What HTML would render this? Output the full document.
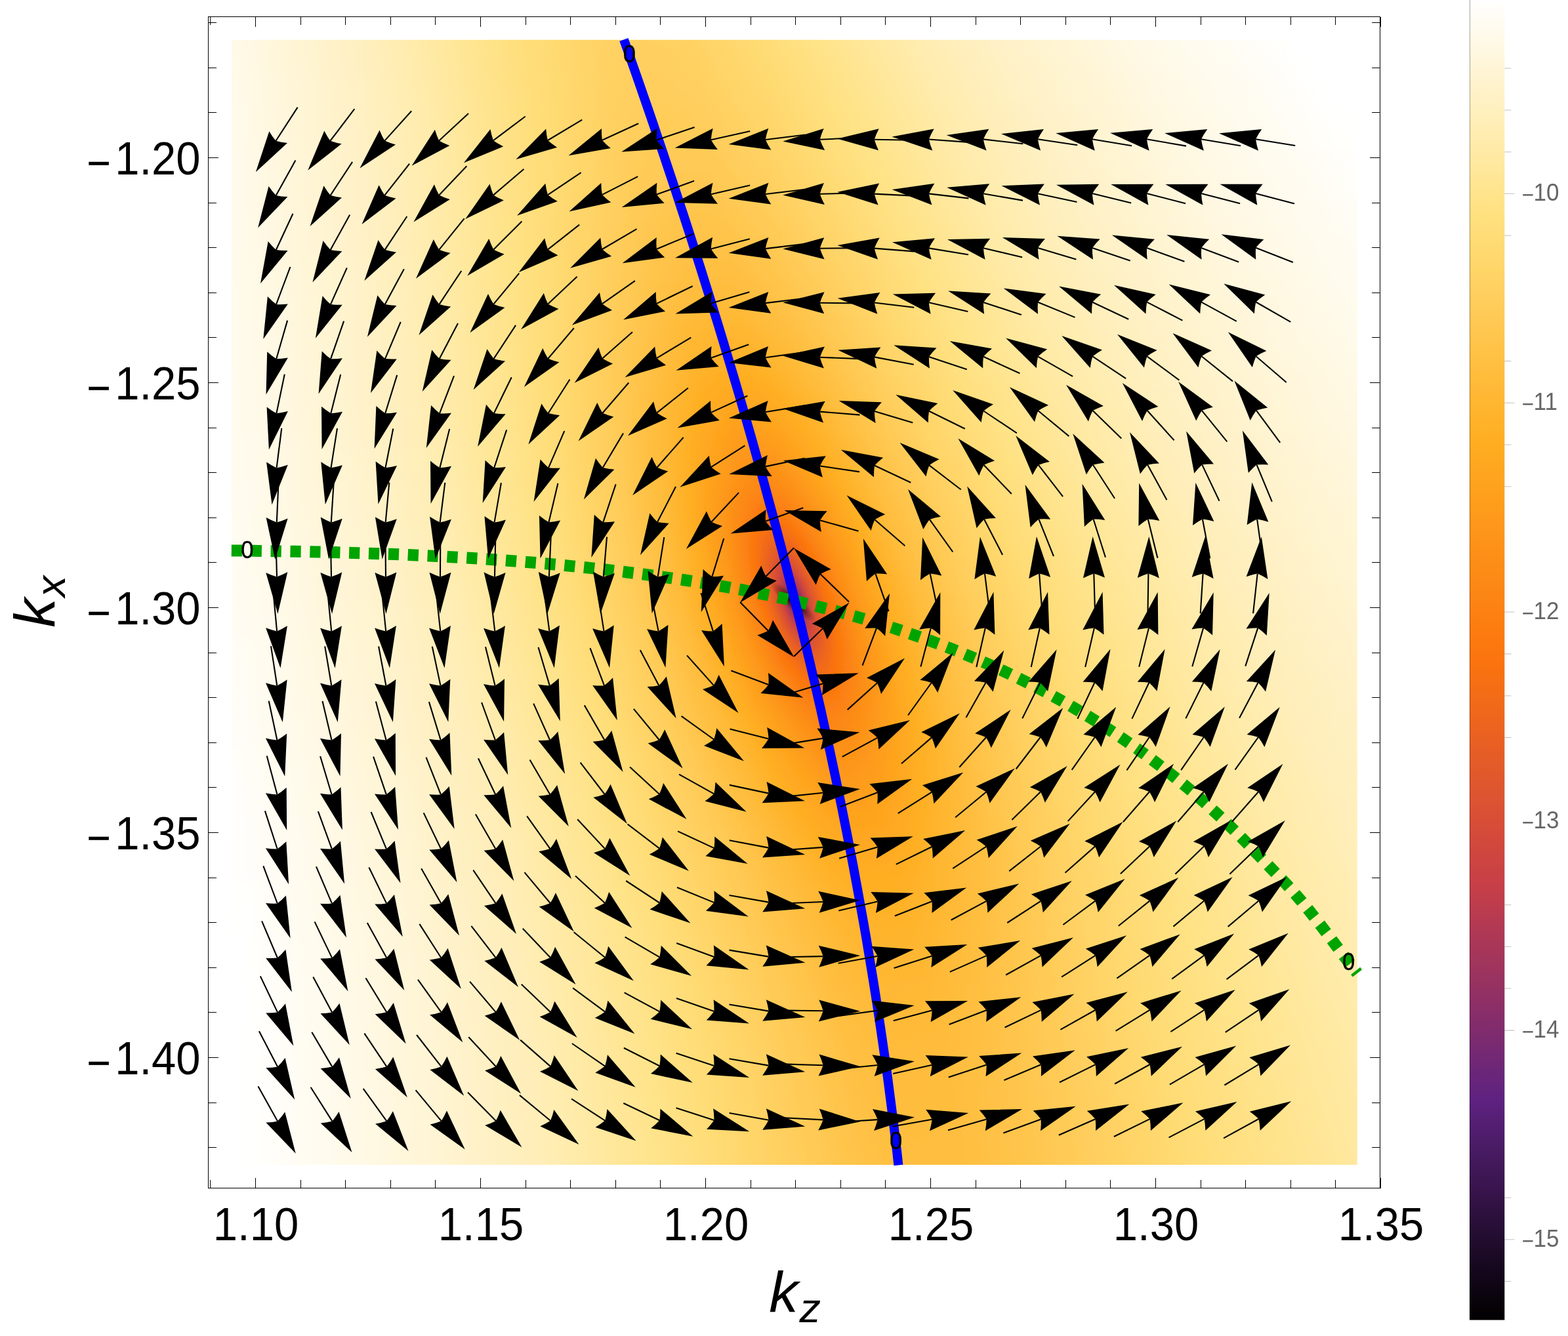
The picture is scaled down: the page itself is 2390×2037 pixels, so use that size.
<!DOCTYPE html>
<html><head><meta charset="utf-8"><title>kz-kx vector field</title>
<style>html,body{margin:0;padding:0;background:#fff}svg{display:block}text{font-family:"Liberation Sans",sans-serif}</style>
</head><body>
<svg width="2390" height="2037" viewBox="0 0 2390 2037">
<rect x="0" y="0" width="2390" height="2037" fill="#fff"/>
<clipPath id="dc"><rect x="353" y="60.8" width="1715.8" height="1715.1"/></clipPath>
<defs><linearGradient id="g0" gradientUnits="userSpaceOnUse" x1="323" y1="0" x2="2093" y2="0"><stop offset="0.0000" stop-color="#fffae8"/><stop offset="0.0203" stop-color="#fff9e7"/><stop offset="0.1288" stop-color="#fff0c0"/><stop offset="0.2000" stop-color="#ffe89e"/><stop offset="0.2678" stop-color="#ffde7a"/><stop offset="0.3288" stop-color="#ffd366"/><stop offset="0.3695" stop-color="#ffd060"/><stop offset="0.4102" stop-color="#ffd263"/><stop offset="0.4712" stop-color="#ffdb74"/><stop offset="0.5085" stop-color="#ffe183"/><stop offset="0.6068" stop-color="#ffecaf"/><stop offset="0.6746" stop-color="#fff1c6"/><stop offset="0.7966" stop-color="#fff9e5"/><stop offset="0.9322" stop-color="#ffffff"/><stop offset="1.0000" stop-color="#ffffff"/></linearGradient><linearGradient id="g1" gradientUnits="userSpaceOnUse" x1="323" y1="0" x2="2093" y2="0"><stop offset="0.0000" stop-color="#fffae8"/><stop offset="0.0203" stop-color="#fff9e7"/><stop offset="0.1288" stop-color="#fff0c0"/><stop offset="0.2000" stop-color="#ffe89e"/><stop offset="0.2678" stop-color="#ffde7a"/><stop offset="0.3288" stop-color="#ffd366"/><stop offset="0.3695" stop-color="#ffd060"/><stop offset="0.4102" stop-color="#ffd263"/><stop offset="0.4712" stop-color="#ffdb74"/><stop offset="0.5085" stop-color="#ffe183"/><stop offset="0.6068" stop-color="#ffecaf"/><stop offset="0.6746" stop-color="#fff1c6"/><stop offset="0.7966" stop-color="#fff9e5"/><stop offset="0.9322" stop-color="#ffffff"/><stop offset="1.0000" stop-color="#ffffff"/></linearGradient><linearGradient id="g2" gradientUnits="userSpaceOnUse" x1="323" y1="0" x2="2093" y2="0"><stop offset="0.0000" stop-color="#fffae8"/><stop offset="0.0203" stop-color="#fff9e7"/><stop offset="0.1288" stop-color="#fff0c0"/><stop offset="0.2000" stop-color="#ffe89e"/><stop offset="0.2678" stop-color="#ffdf7a"/><stop offset="0.3322" stop-color="#ffd365"/><stop offset="0.3729" stop-color="#ffd05f"/><stop offset="0.4136" stop-color="#ffd263"/><stop offset="0.4780" stop-color="#ffdc76"/><stop offset="0.5119" stop-color="#ffe284"/><stop offset="0.6068" stop-color="#ffecae"/><stop offset="0.6746" stop-color="#fff1c6"/><stop offset="0.7966" stop-color="#fff9e5"/><stop offset="0.9356" stop-color="#ffffff"/><stop offset="1.0000" stop-color="#ffffff"/></linearGradient><linearGradient id="g3" gradientUnits="userSpaceOnUse" x1="323" y1="0" x2="2093" y2="0"><stop offset="0.0000" stop-color="#fffae9"/><stop offset="0.0203" stop-color="#fff9e8"/><stop offset="0.1288" stop-color="#fff0c1"/><stop offset="0.1966" stop-color="#ffe9a1"/><stop offset="0.2678" stop-color="#ffdf7b"/><stop offset="0.3322" stop-color="#ffd365"/><stop offset="0.3729" stop-color="#ffcf5f"/><stop offset="0.4136" stop-color="#ffd162"/><stop offset="0.4746" stop-color="#ffdb74"/><stop offset="0.5119" stop-color="#ffe182"/><stop offset="0.6068" stop-color="#ffebad"/><stop offset="0.6746" stop-color="#fff1c5"/><stop offset="0.7966" stop-color="#fff9e4"/><stop offset="0.9390" stop-color="#ffffff"/><stop offset="1.0000" stop-color="#ffffff"/></linearGradient><linearGradient id="g4" gradientUnits="userSpaceOnUse" x1="323" y1="0" x2="2093" y2="0"><stop offset="0.0000" stop-color="#fffae9"/><stop offset="0.0203" stop-color="#fffae8"/><stop offset="0.1288" stop-color="#fff0c1"/><stop offset="0.1966" stop-color="#ffe9a1"/><stop offset="0.2712" stop-color="#ffde7a"/><stop offset="0.3356" stop-color="#ffd264"/><stop offset="0.3763" stop-color="#ffcf5e"/><stop offset="0.4169" stop-color="#ffd162"/><stop offset="0.4814" stop-color="#ffdc75"/><stop offset="0.5153" stop-color="#ffe182"/><stop offset="0.6102" stop-color="#ffebad"/><stop offset="0.6780" stop-color="#fff1c4"/><stop offset="0.8000" stop-color="#fff9e4"/><stop offset="0.9424" stop-color="#ffffff"/><stop offset="1.0000" stop-color="#ffffff"/></linearGradient><linearGradient id="g5" gradientUnits="userSpaceOnUse" x1="323" y1="0" x2="2093" y2="0"><stop offset="0.0000" stop-color="#fffae9"/><stop offset="0.0203" stop-color="#fffae8"/><stop offset="0.1288" stop-color="#fff0c2"/><stop offset="0.1932" stop-color="#ffe9a4"/><stop offset="0.2712" stop-color="#ffde7a"/><stop offset="0.3356" stop-color="#ffd264"/><stop offset="0.3763" stop-color="#ffcf5e"/><stop offset="0.4169" stop-color="#ffd161"/><stop offset="0.4780" stop-color="#ffda73"/><stop offset="0.5186" stop-color="#ffe182"/><stop offset="0.6136" stop-color="#ffebad"/><stop offset="0.6814" stop-color="#fff1c4"/><stop offset="0.8034" stop-color="#fff8e4"/><stop offset="0.9492" stop-color="#ffffff"/><stop offset="1.0000" stop-color="#ffffff"/></linearGradient><linearGradient id="g6" gradientUnits="userSpaceOnUse" x1="323" y1="0" x2="2093" y2="0"><stop offset="0.0000" stop-color="#fffaea"/><stop offset="0.0203" stop-color="#fffae9"/><stop offset="0.1288" stop-color="#fff0c2"/><stop offset="0.1932" stop-color="#ffe9a4"/><stop offset="0.2712" stop-color="#ffdf7a"/><stop offset="0.3390" stop-color="#ffd263"/><stop offset="0.3797" stop-color="#ffce5d"/><stop offset="0.4203" stop-color="#ffd161"/><stop offset="0.4847" stop-color="#ffdb74"/><stop offset="0.5220" stop-color="#ffe182"/><stop offset="0.6169" stop-color="#ffebad"/><stop offset="0.6847" stop-color="#fff1c4"/><stop offset="0.8068" stop-color="#fff8e3"/><stop offset="0.9525" stop-color="#ffffff"/><stop offset="1.0000" stop-color="#ffffff"/></linearGradient><linearGradient id="g7" gradientUnits="userSpaceOnUse" x1="323" y1="0" x2="2093" y2="0"><stop offset="0.0000" stop-color="#fffaea"/><stop offset="0.0203" stop-color="#fffae9"/><stop offset="0.1288" stop-color="#fff1c3"/><stop offset="0.1898" stop-color="#ffeaa6"/><stop offset="0.2746" stop-color="#ffde79"/><stop offset="0.3390" stop-color="#ffd263"/><stop offset="0.3797" stop-color="#ffce5c"/><stop offset="0.4203" stop-color="#ffd060"/><stop offset="0.4814" stop-color="#ffda71"/><stop offset="0.5254" stop-color="#ffe182"/><stop offset="0.6203" stop-color="#ffebad"/><stop offset="0.6881" stop-color="#fff1c4"/><stop offset="0.8102" stop-color="#fff8e3"/><stop offset="0.9593" stop-color="#ffffff"/><stop offset="1.0000" stop-color="#ffffff"/></linearGradient><linearGradient id="g8" gradientUnits="userSpaceOnUse" x1="323" y1="0" x2="2093" y2="0"><stop offset="0.0000" stop-color="#fffaea"/><stop offset="0.0203" stop-color="#fffae9"/><stop offset="0.1288" stop-color="#fff1c3"/><stop offset="0.1898" stop-color="#ffeaa7"/><stop offset="0.2746" stop-color="#ffde7a"/><stop offset="0.3424" stop-color="#ffd162"/><stop offset="0.3831" stop-color="#ffce5c"/><stop offset="0.4237" stop-color="#ffd05f"/><stop offset="0.4847" stop-color="#ffda71"/><stop offset="0.5288" stop-color="#ffe182"/><stop offset="0.6203" stop-color="#ffebac"/><stop offset="0.6881" stop-color="#fff1c3"/><stop offset="0.8102" stop-color="#fff8e2"/><stop offset="0.9627" stop-color="#ffffff"/><stop offset="1.0000" stop-color="#ffffff"/></linearGradient><linearGradient id="g9" gradientUnits="userSpaceOnUse" x1="323" y1="0" x2="2093" y2="0"><stop offset="0.0000" stop-color="#fffaea"/><stop offset="0.0203" stop-color="#fffae9"/><stop offset="0.1288" stop-color="#fff1c3"/><stop offset="0.1864" stop-color="#ffeba9"/><stop offset="0.2746" stop-color="#ffde7a"/><stop offset="0.3424" stop-color="#ffd162"/><stop offset="0.3831" stop-color="#ffcd5b"/><stop offset="0.4203" stop-color="#ffcf5e"/><stop offset="0.4746" stop-color="#ffd76d"/><stop offset="0.5288" stop-color="#ffe181"/><stop offset="0.6203" stop-color="#ffebaa"/><stop offset="0.6881" stop-color="#fff1c2"/><stop offset="0.8102" stop-color="#fff8e2"/><stop offset="0.9661" stop-color="#ffffff"/><stop offset="1.0000" stop-color="#ffffff"/></linearGradient><linearGradient id="g10" gradientUnits="userSpaceOnUse" x1="323" y1="0" x2="2093" y2="0"><stop offset="0.0000" stop-color="#fffaeb"/><stop offset="0.0203" stop-color="#fffaea"/><stop offset="0.1288" stop-color="#fff1c4"/><stop offset="0.1898" stop-color="#ffeaa8"/><stop offset="0.2746" stop-color="#ffdf7a"/><stop offset="0.3424" stop-color="#ffd162"/><stop offset="0.3831" stop-color="#ffcd5a"/><stop offset="0.4203" stop-color="#ffce5d"/><stop offset="0.4746" stop-color="#ffd66b"/><stop offset="0.5322" stop-color="#ffe181"/><stop offset="0.6237" stop-color="#ffebaa"/><stop offset="0.6915" stop-color="#fff0c2"/><stop offset="0.8136" stop-color="#fff8e1"/><stop offset="0.9695" stop-color="#ffffff"/><stop offset="1.0000" stop-color="#ffffff"/></linearGradient><linearGradient id="g11" gradientUnits="userSpaceOnUse" x1="323" y1="0" x2="2093" y2="0"><stop offset="0.0000" stop-color="#fffaeb"/><stop offset="0.0203" stop-color="#fffaea"/><stop offset="0.1288" stop-color="#fff1c4"/><stop offset="0.1864" stop-color="#ffebaa"/><stop offset="0.2780" stop-color="#ffde79"/><stop offset="0.3458" stop-color="#ffd060"/><stop offset="0.3864" stop-color="#ffcc59"/><stop offset="0.4237" stop-color="#ffce5c"/><stop offset="0.4780" stop-color="#ffd66b"/><stop offset="0.5356" stop-color="#ffe181"/><stop offset="0.6271" stop-color="#ffebaa"/><stop offset="0.6949" stop-color="#fff0c2"/><stop offset="0.8169" stop-color="#fff8e1"/><stop offset="0.9729" stop-color="#fffffe"/><stop offset="1.0000" stop-color="#ffffff"/></linearGradient><linearGradient id="g12" gradientUnits="userSpaceOnUse" x1="323" y1="0" x2="2093" y2="0"><stop offset="0.0000" stop-color="#fffaeb"/><stop offset="0.0203" stop-color="#fffaea"/><stop offset="0.1288" stop-color="#fff1c4"/><stop offset="0.1864" stop-color="#ffebaa"/><stop offset="0.2780" stop-color="#ffde79"/><stop offset="0.3492" stop-color="#ffd05f"/><stop offset="0.3898" stop-color="#ffcc59"/><stop offset="0.4271" stop-color="#ffce5b"/><stop offset="0.4847" stop-color="#ffd76c"/><stop offset="0.5390" stop-color="#ffe181"/><stop offset="0.6305" stop-color="#ffebaa"/><stop offset="0.6983" stop-color="#fff0c2"/><stop offset="0.8203" stop-color="#fff8e1"/><stop offset="0.9763" stop-color="#fffffe"/><stop offset="1.0000" stop-color="#ffffff"/></linearGradient><linearGradient id="g13" gradientUnits="userSpaceOnUse" x1="323" y1="0" x2="2093" y2="0"><stop offset="0.0000" stop-color="#fffaeb"/><stop offset="0.0203" stop-color="#fffaea"/><stop offset="0.1288" stop-color="#fff1c5"/><stop offset="0.1864" stop-color="#ffebab"/><stop offset="0.2780" stop-color="#ffde7a"/><stop offset="0.3492" stop-color="#ffd05f"/><stop offset="0.3898" stop-color="#ffcc58"/><stop offset="0.4271" stop-color="#ffcd5a"/><stop offset="0.4814" stop-color="#ffd56a"/><stop offset="0.5424" stop-color="#ffe181"/><stop offset="0.6305" stop-color="#ffeaa9"/><stop offset="0.6983" stop-color="#fff0c1"/><stop offset="0.8203" stop-color="#fff8e0"/><stop offset="0.9763" stop-color="#fffffd"/><stop offset="1.0000" stop-color="#ffffff"/></linearGradient><linearGradient id="g14" gradientUnits="userSpaceOnUse" x1="323" y1="0" x2="2093" y2="0"><stop offset="0.0000" stop-color="#fffaeb"/><stop offset="0.0203" stop-color="#fffaea"/><stop offset="0.1322" stop-color="#fff1c3"/><stop offset="0.1898" stop-color="#ffeba9"/><stop offset="0.2780" stop-color="#ffde7a"/><stop offset="0.3492" stop-color="#ffcf5f"/><stop offset="0.3898" stop-color="#ffcb57"/><stop offset="0.4271" stop-color="#ffcc59"/><stop offset="0.4780" stop-color="#ffd467"/><stop offset="0.5458" stop-color="#ffe181"/><stop offset="0.6339" stop-color="#ffeaa9"/><stop offset="0.7017" stop-color="#fff0c1"/><stop offset="0.8237" stop-color="#fff8e0"/><stop offset="0.9797" stop-color="#fffffd"/><stop offset="1.0000" stop-color="#fffffe"/></linearGradient><linearGradient id="g15" gradientUnits="userSpaceOnUse" x1="323" y1="0" x2="2093" y2="0"><stop offset="0.0000" stop-color="#fffaec"/><stop offset="0.0203" stop-color="#fffaea"/><stop offset="0.1322" stop-color="#fff1c4"/><stop offset="0.1898" stop-color="#ffebaa"/><stop offset="0.2780" stop-color="#ffde7a"/><stop offset="0.3525" stop-color="#ffcf5d"/><stop offset="0.3898" stop-color="#ffcb56"/><stop offset="0.4271" stop-color="#ffcc58"/><stop offset="0.4780" stop-color="#ffd366"/><stop offset="0.5492" stop-color="#ffe181"/><stop offset="0.6373" stop-color="#ffeaa9"/><stop offset="0.7051" stop-color="#fff0c1"/><stop offset="0.8271" stop-color="#fff8e0"/><stop offset="0.9831" stop-color="#fffffd"/><stop offset="1.0000" stop-color="#fffffd"/></linearGradient><linearGradient id="g16" gradientUnits="userSpaceOnUse" x1="323" y1="0" x2="2093" y2="0"><stop offset="0.0000" stop-color="#fffaec"/><stop offset="0.0203" stop-color="#fffaeb"/><stop offset="0.1322" stop-color="#fff1c4"/><stop offset="0.1898" stop-color="#ffebaa"/><stop offset="0.2780" stop-color="#ffde7a"/><stop offset="0.3525" stop-color="#ffce5d"/><stop offset="0.3898" stop-color="#ffca55"/><stop offset="0.4271" stop-color="#ffcb57"/><stop offset="0.4746" stop-color="#ffd263"/><stop offset="0.5525" stop-color="#ffe181"/><stop offset="0.6407" stop-color="#ffeaa9"/><stop offset="0.7085" stop-color="#fff0c1"/><stop offset="0.8305" stop-color="#fff8e0"/><stop offset="0.9864" stop-color="#fffefd"/><stop offset="1.0000" stop-color="#fffefd"/></linearGradient><linearGradient id="g17" gradientUnits="userSpaceOnUse" x1="323" y1="0" x2="2093" y2="0"><stop offset="0.0000" stop-color="#fffaec"/><stop offset="0.0203" stop-color="#fffaeb"/><stop offset="0.1322" stop-color="#fff1c4"/><stop offset="0.1898" stop-color="#ffebaa"/><stop offset="0.2814" stop-color="#ffde79"/><stop offset="0.3559" stop-color="#ffce5c"/><stop offset="0.3932" stop-color="#ffca54"/><stop offset="0.4305" stop-color="#ffca56"/><stop offset="0.4814" stop-color="#ffd264"/><stop offset="0.5559" stop-color="#ffe181"/><stop offset="0.6407" stop-color="#ffeaa7"/><stop offset="0.7119" stop-color="#fff0c1"/><stop offset="0.8339" stop-color="#fff8e0"/><stop offset="0.9864" stop-color="#fffefc"/><stop offset="1.0000" stop-color="#fffefc"/></linearGradient><linearGradient id="g18" gradientUnits="userSpaceOnUse" x1="323" y1="0" x2="2093" y2="0"><stop offset="0.0000" stop-color="#fffaec"/><stop offset="0.0203" stop-color="#fffaeb"/><stop offset="0.1322" stop-color="#fff1c4"/><stop offset="0.1898" stop-color="#ffebab"/><stop offset="0.2814" stop-color="#ffde79"/><stop offset="0.3593" stop-color="#ffcd5a"/><stop offset="0.3966" stop-color="#ffc953"/><stop offset="0.4339" stop-color="#ffca55"/><stop offset="0.4847" stop-color="#ffd264"/><stop offset="0.5593" stop-color="#ffe180"/><stop offset="0.6441" stop-color="#ffeaa7"/><stop offset="0.7153" stop-color="#fff0c1"/><stop offset="0.8373" stop-color="#fff8e0"/><stop offset="0.9864" stop-color="#fffefb"/><stop offset="1.0000" stop-color="#fffefb"/></linearGradient><linearGradient id="g19" gradientUnits="userSpaceOnUse" x1="323" y1="0" x2="2093" y2="0"><stop offset="0.0000" stop-color="#fffaec"/><stop offset="0.0203" stop-color="#fffaeb"/><stop offset="0.1322" stop-color="#fff1c5"/><stop offset="0.1898" stop-color="#ffebab"/><stop offset="0.2814" stop-color="#ffde79"/><stop offset="0.3593" stop-color="#ffcd5a"/><stop offset="0.3966" stop-color="#ffc852"/><stop offset="0.4305" stop-color="#ffc953"/><stop offset="0.4780" stop-color="#ffd060"/><stop offset="0.5627" stop-color="#ffe180"/><stop offset="0.6475" stop-color="#ffeaa7"/><stop offset="0.7186" stop-color="#fff0c1"/><stop offset="0.8407" stop-color="#fff7df"/><stop offset="0.9864" stop-color="#fffefa"/><stop offset="1.0000" stop-color="#fffefa"/></linearGradient><linearGradient id="g20" gradientUnits="userSpaceOnUse" x1="323" y1="0" x2="2093" y2="0"><stop offset="0.0000" stop-color="#fffbec"/><stop offset="0.0203" stop-color="#fffaeb"/><stop offset="0.1322" stop-color="#fff1c5"/><stop offset="0.1898" stop-color="#ffebab"/><stop offset="0.2814" stop-color="#ffde79"/><stop offset="0.3627" stop-color="#ffcc58"/><stop offset="0.4000" stop-color="#ffc851"/><stop offset="0.4339" stop-color="#ffc852"/><stop offset="0.4814" stop-color="#ffd05f"/><stop offset="0.5661" stop-color="#ffe180"/><stop offset="0.6508" stop-color="#ffeaa7"/><stop offset="0.7220" stop-color="#fff0c1"/><stop offset="0.8441" stop-color="#fff7df"/><stop offset="0.9864" stop-color="#fffefa"/><stop offset="1.0000" stop-color="#fffefa"/></linearGradient><linearGradient id="g21" gradientUnits="userSpaceOnUse" x1="323" y1="0" x2="2093" y2="0"><stop offset="0.0000" stop-color="#fffbec"/><stop offset="0.0203" stop-color="#fffaeb"/><stop offset="0.1322" stop-color="#fff1c5"/><stop offset="0.1898" stop-color="#ffebab"/><stop offset="0.2814" stop-color="#ffde79"/><stop offset="0.3627" stop-color="#ffcc58"/><stop offset="0.4000" stop-color="#ffc750"/><stop offset="0.4339" stop-color="#ffc851"/><stop offset="0.4780" stop-color="#ffce5d"/><stop offset="0.5695" stop-color="#ffe180"/><stop offset="0.6508" stop-color="#ffeaa6"/><stop offset="0.7220" stop-color="#fff0c0"/><stop offset="0.8407" stop-color="#fff7de"/><stop offset="0.9864" stop-color="#fffef9"/><stop offset="1.0000" stop-color="#fffef9"/></linearGradient><linearGradient id="g22" gradientUnits="userSpaceOnUse" x1="323" y1="0" x2="2093" y2="0"><stop offset="0.0000" stop-color="#fffbec"/><stop offset="0.0203" stop-color="#fffaeb"/><stop offset="0.1322" stop-color="#fff1c5"/><stop offset="0.1898" stop-color="#ffebac"/><stop offset="0.2847" stop-color="#ffdd78"/><stop offset="0.3661" stop-color="#ffcb56"/><stop offset="0.4034" stop-color="#ffc64e"/><stop offset="0.4373" stop-color="#ffc750"/><stop offset="0.4847" stop-color="#ffcf5d"/><stop offset="0.5763" stop-color="#ffe182"/><stop offset="0.6576" stop-color="#ffeaa7"/><stop offset="0.7288" stop-color="#fff0c0"/><stop offset="0.8508" stop-color="#fff7df"/><stop offset="0.9864" stop-color="#fffdf8"/><stop offset="1.0000" stop-color="#fffdf8"/></linearGradient><linearGradient id="g23" gradientUnits="userSpaceOnUse" x1="323" y1="0" x2="2093" y2="0"><stop offset="0.0000" stop-color="#fffbed"/><stop offset="0.0203" stop-color="#fffaec"/><stop offset="0.1322" stop-color="#fff1c5"/><stop offset="0.1898" stop-color="#ffebac"/><stop offset="0.2847" stop-color="#ffdd78"/><stop offset="0.3661" stop-color="#ffca56"/><stop offset="0.4034" stop-color="#ffc64d"/><stop offset="0.4373" stop-color="#ffc64e"/><stop offset="0.4814" stop-color="#ffcd5a"/><stop offset="0.5797" stop-color="#ffe182"/><stop offset="0.6610" stop-color="#ffeaa7"/><stop offset="0.7322" stop-color="#fff0c0"/><stop offset="0.8542" stop-color="#fff7df"/><stop offset="0.9898" stop-color="#fffdf7"/><stop offset="1.0000" stop-color="#fffdf7"/></linearGradient><linearGradient id="g24" gradientUnits="userSpaceOnUse" x1="323" y1="0" x2="2093" y2="0"><stop offset="0.0000" stop-color="#fffbed"/><stop offset="0.0203" stop-color="#fffaec"/><stop offset="0.1322" stop-color="#fff1c6"/><stop offset="0.1864" stop-color="#ffecae"/><stop offset="0.2678" stop-color="#ffe181"/><stop offset="0.3627" stop-color="#ffcb56"/><stop offset="0.4000" stop-color="#ffc54c"/><stop offset="0.4339" stop-color="#ffc54c"/><stop offset="0.4746" stop-color="#ffcb56"/><stop offset="0.5831" stop-color="#ffe182"/><stop offset="0.6644" stop-color="#ffeaa7"/><stop offset="0.7356" stop-color="#fff0c0"/><stop offset="0.8576" stop-color="#fff7df"/><stop offset="0.9898" stop-color="#fffdf7"/><stop offset="1.0000" stop-color="#fffdf7"/></linearGradient><linearGradient id="g25" gradientUnits="userSpaceOnUse" x1="323" y1="0" x2="2093" y2="0"><stop offset="0.0000" stop-color="#fffbed"/><stop offset="0.0203" stop-color="#fffaec"/><stop offset="0.1322" stop-color="#fff1c6"/><stop offset="0.1864" stop-color="#ffecae"/><stop offset="0.2644" stop-color="#ffe183"/><stop offset="0.3051" stop-color="#ffd86f"/><stop offset="0.3729" stop-color="#ffc852"/><stop offset="0.4068" stop-color="#ffc44a"/><stop offset="0.4407" stop-color="#ffc54b"/><stop offset="0.4847" stop-color="#ffcc58"/><stop offset="0.5864" stop-color="#ffe182"/><stop offset="0.6678" stop-color="#ffeaa7"/><stop offset="0.7390" stop-color="#fff0c0"/><stop offset="0.8610" stop-color="#fff7df"/><stop offset="0.9898" stop-color="#fffdf6"/><stop offset="1.0000" stop-color="#fffdf6"/></linearGradient><linearGradient id="g26" gradientUnits="userSpaceOnUse" x1="323" y1="0" x2="2093" y2="0"><stop offset="0.0000" stop-color="#fffbed"/><stop offset="0.0203" stop-color="#fffaec"/><stop offset="0.1322" stop-color="#fff1c6"/><stop offset="0.1864" stop-color="#ffecae"/><stop offset="0.2644" stop-color="#ffe183"/><stop offset="0.3017" stop-color="#ffd971"/><stop offset="0.3763" stop-color="#ffc750"/><stop offset="0.4102" stop-color="#ffc349"/><stop offset="0.4407" stop-color="#ffc44a"/><stop offset="0.4814" stop-color="#ffca55"/><stop offset="0.5898" stop-color="#ffe182"/><stop offset="0.6712" stop-color="#ffeaa7"/><stop offset="0.7424" stop-color="#fff0c0"/><stop offset="0.8644" stop-color="#fff7de"/><stop offset="0.9898" stop-color="#fffdf5"/><stop offset="1.0000" stop-color="#fffdf5"/></linearGradient><linearGradient id="g27" gradientUnits="userSpaceOnUse" x1="323" y1="0" x2="2093" y2="0"><stop offset="0.0000" stop-color="#fffbed"/><stop offset="0.0203" stop-color="#fffaec"/><stop offset="0.1322" stop-color="#fff1c6"/><stop offset="0.1898" stop-color="#ffebad"/><stop offset="0.2678" stop-color="#ffe181"/><stop offset="0.3695" stop-color="#ffc852"/><stop offset="0.4068" stop-color="#ffc348"/><stop offset="0.4373" stop-color="#ffc347"/><stop offset="0.4746" stop-color="#ffc851"/><stop offset="0.5932" stop-color="#ffe182"/><stop offset="0.6712" stop-color="#ffeaa6"/><stop offset="0.7424" stop-color="#fff0bf"/><stop offset="0.8644" stop-color="#fff7de"/><stop offset="0.9898" stop-color="#fffcf4"/><stop offset="1.0000" stop-color="#fffcf4"/></linearGradient><linearGradient id="g28" gradientUnits="userSpaceOnUse" x1="323" y1="0" x2="2093" y2="0"><stop offset="0.0000" stop-color="#fffbed"/><stop offset="0.0203" stop-color="#fffaec"/><stop offset="0.1322" stop-color="#fff1c6"/><stop offset="0.1898" stop-color="#ffebad"/><stop offset="0.2678" stop-color="#ffe181"/><stop offset="0.3729" stop-color="#ffc750"/><stop offset="0.4102" stop-color="#ffc246"/><stop offset="0.4407" stop-color="#ffc246"/><stop offset="0.4814" stop-color="#ffc851"/><stop offset="0.5966" stop-color="#ffe182"/><stop offset="0.6746" stop-color="#ffeaa6"/><stop offset="0.7492" stop-color="#fff0c0"/><stop offset="0.8712" stop-color="#fff7de"/><stop offset="0.9898" stop-color="#fffcf4"/><stop offset="1.0000" stop-color="#fffcf4"/></linearGradient><linearGradient id="g29" gradientUnits="userSpaceOnUse" x1="323" y1="0" x2="2093" y2="0"><stop offset="0.0000" stop-color="#fffbed"/><stop offset="0.0203" stop-color="#fffbec"/><stop offset="0.1322" stop-color="#fff2c6"/><stop offset="0.1898" stop-color="#ffecad"/><stop offset="0.2644" stop-color="#ffe283"/><stop offset="0.2949" stop-color="#ffdb74"/><stop offset="0.3797" stop-color="#ffc54d"/><stop offset="0.4136" stop-color="#ffc144"/><stop offset="0.4441" stop-color="#ffc145"/><stop offset="0.4847" stop-color="#ffc851"/><stop offset="0.6000" stop-color="#ffe182"/><stop offset="0.6780" stop-color="#ffeaa6"/><stop offset="0.7525" stop-color="#fff0c0"/><stop offset="0.8746" stop-color="#fff7de"/><stop offset="0.9898" stop-color="#fffcf3"/><stop offset="1.0000" stop-color="#fffcf3"/></linearGradient><linearGradient id="g30" gradientUnits="userSpaceOnUse" x1="323" y1="0" x2="2093" y2="0"><stop offset="0.0000" stop-color="#fffbed"/><stop offset="0.0203" stop-color="#fffbec"/><stop offset="0.1322" stop-color="#fff2c7"/><stop offset="0.1898" stop-color="#ffecad"/><stop offset="0.2644" stop-color="#ffe284"/><stop offset="0.2983" stop-color="#ffda72"/><stop offset="0.3831" stop-color="#ffc44b"/><stop offset="0.4169" stop-color="#ffc042"/><stop offset="0.4475" stop-color="#ffc043"/><stop offset="0.4881" stop-color="#ffc750"/><stop offset="0.6034" stop-color="#ffe182"/><stop offset="0.6814" stop-color="#ffeaa6"/><stop offset="0.7559" stop-color="#fff0c0"/><stop offset="0.8780" stop-color="#fff7de"/><stop offset="0.9898" stop-color="#fffcf2"/><stop offset="1.0000" stop-color="#fffcf2"/></linearGradient><linearGradient id="g31" gradientUnits="userSpaceOnUse" x1="323" y1="0" x2="2093" y2="0"><stop offset="0.0000" stop-color="#fffbed"/><stop offset="0.0203" stop-color="#fffbec"/><stop offset="0.1322" stop-color="#fff2c7"/><stop offset="0.1898" stop-color="#ffecae"/><stop offset="0.2644" stop-color="#ffe284"/><stop offset="0.2983" stop-color="#ffda72"/><stop offset="0.3864" stop-color="#ffc349"/><stop offset="0.4203" stop-color="#ffbf40"/><stop offset="0.4508" stop-color="#ffc042"/><stop offset="0.4915" stop-color="#ffc750"/><stop offset="0.6068" stop-color="#ffe182"/><stop offset="0.6847" stop-color="#ffeaa6"/><stop offset="0.7593" stop-color="#fff0c0"/><stop offset="0.8814" stop-color="#fff7de"/><stop offset="0.9898" stop-color="#fffcf1"/><stop offset="1.0000" stop-color="#fffcf1"/></linearGradient><linearGradient id="g32" gradientUnits="userSpaceOnUse" x1="323" y1="0" x2="2093" y2="0"><stop offset="0.0000" stop-color="#fffbed"/><stop offset="0.0203" stop-color="#fffbec"/><stop offset="0.1322" stop-color="#fff2c7"/><stop offset="0.1898" stop-color="#ffecae"/><stop offset="0.2644" stop-color="#ffe284"/><stop offset="0.3017" stop-color="#ffd971"/><stop offset="0.3864" stop-color="#ffc348"/><stop offset="0.4203" stop-color="#ffbe3f"/><stop offset="0.4508" stop-color="#ffbe40"/><stop offset="0.4915" stop-color="#ffc64d"/><stop offset="0.6068" stop-color="#ffe180"/><stop offset="0.6814" stop-color="#ffe9a3"/><stop offset="0.7559" stop-color="#ffefbe"/><stop offset="0.8746" stop-color="#fff7db"/><stop offset="0.9898" stop-color="#fffcf1"/><stop offset="1.0000" stop-color="#fffcf1"/></linearGradient><linearGradient id="g33" gradientUnits="userSpaceOnUse" x1="323" y1="0" x2="2093" y2="0"><stop offset="0.0000" stop-color="#fffbee"/><stop offset="0.0203" stop-color="#fffbed"/><stop offset="0.1322" stop-color="#fff2c7"/><stop offset="0.1864" stop-color="#ffecb0"/><stop offset="0.2610" stop-color="#ffe286"/><stop offset="0.2881" stop-color="#ffdd77"/><stop offset="0.3898" stop-color="#ffc145"/><stop offset="0.4203" stop-color="#ffbd3d"/><stop offset="0.4475" stop-color="#ffbd3d"/><stop offset="0.4814" stop-color="#ffc247"/><stop offset="0.6102" stop-color="#ffe180"/><stop offset="0.6847" stop-color="#ffe9a3"/><stop offset="0.7593" stop-color="#ffefbe"/><stop offset="0.8780" stop-color="#fff7db"/><stop offset="0.9898" stop-color="#fffbf0"/><stop offset="1.0000" stop-color="#fffbf0"/></linearGradient><linearGradient id="g34" gradientUnits="userSpaceOnUse" x1="323" y1="0" x2="2093" y2="0"><stop offset="0.0000" stop-color="#fffbee"/><stop offset="0.0203" stop-color="#fffbed"/><stop offset="0.1322" stop-color="#fff2c7"/><stop offset="0.1898" stop-color="#ffecae"/><stop offset="0.2610" stop-color="#ffe286"/><stop offset="0.2915" stop-color="#ffdc76"/><stop offset="0.3932" stop-color="#ffc043"/><stop offset="0.4237" stop-color="#ffbc3b"/><stop offset="0.4508" stop-color="#ffbc3c"/><stop offset="0.4881" stop-color="#ffc348"/><stop offset="0.6000" stop-color="#ffde7a"/><stop offset="0.6915" stop-color="#ffe9a4"/><stop offset="0.7661" stop-color="#fff0bf"/><stop offset="0.8881" stop-color="#fff7dd"/><stop offset="0.9898" stop-color="#fffbef"/><stop offset="1.0000" stop-color="#fffbef"/></linearGradient><linearGradient id="g35" gradientUnits="userSpaceOnUse" x1="323" y1="0" x2="2093" y2="0"><stop offset="0.0000" stop-color="#fffbee"/><stop offset="0.0203" stop-color="#fffbed"/><stop offset="0.1322" stop-color="#fff2c7"/><stop offset="0.1898" stop-color="#ffecae"/><stop offset="0.2610" stop-color="#ffe287"/><stop offset="0.2915" stop-color="#ffdc76"/><stop offset="0.3966" stop-color="#ffbf41"/><stop offset="0.4271" stop-color="#ffba39"/><stop offset="0.4542" stop-color="#ffbb3a"/><stop offset="0.4915" stop-color="#ffc247"/><stop offset="0.5966" stop-color="#ffdd77"/><stop offset="0.6746" stop-color="#ffe79c"/><stop offset="0.7559" stop-color="#ffefbb"/><stop offset="0.8746" stop-color="#fff6d9"/><stop offset="0.9898" stop-color="#fffbee"/><stop offset="1.0000" stop-color="#fffbee"/></linearGradient><linearGradient id="g36" gradientUnits="userSpaceOnUse" x1="323" y1="0" x2="2093" y2="0"><stop offset="0.0000" stop-color="#fffbee"/><stop offset="0.0203" stop-color="#fffbed"/><stop offset="0.1322" stop-color="#fff2c7"/><stop offset="0.1898" stop-color="#ffecaf"/><stop offset="0.2610" stop-color="#ffe287"/><stop offset="0.2915" stop-color="#ffdc76"/><stop offset="0.4000" stop-color="#ffbd3e"/><stop offset="0.4305" stop-color="#ffb936"/><stop offset="0.4576" stop-color="#ffba38"/><stop offset="0.4949" stop-color="#ffc246"/><stop offset="0.5966" stop-color="#ffdc76"/><stop offset="0.6373" stop-color="#ffe389"/><stop offset="0.7153" stop-color="#ffebab"/><stop offset="0.7831" stop-color="#fff0c1"/><stop offset="0.9085" stop-color="#fff7df"/><stop offset="0.9932" stop-color="#fffbee"/><stop offset="1.0000" stop-color="#fffbee"/></linearGradient><linearGradient id="g37" gradientUnits="userSpaceOnUse" x1="323" y1="0" x2="2093" y2="0"><stop offset="0.0000" stop-color="#fffbee"/><stop offset="0.0203" stop-color="#fffbed"/><stop offset="0.1322" stop-color="#fff2c8"/><stop offset="0.1898" stop-color="#ffecaf"/><stop offset="0.2610" stop-color="#ffe287"/><stop offset="0.2915" stop-color="#ffdc76"/><stop offset="0.4000" stop-color="#ffbd3d"/><stop offset="0.4305" stop-color="#ffb834"/><stop offset="0.4576" stop-color="#ffb936"/><stop offset="0.4949" stop-color="#ffc044"/><stop offset="0.5932" stop-color="#ffda73"/><stop offset="0.6339" stop-color="#ffe285"/><stop offset="0.7085" stop-color="#ffeaa7"/><stop offset="0.7797" stop-color="#fff0c0"/><stop offset="0.9017" stop-color="#fff7dd"/><stop offset="0.9898" stop-color="#fffbed"/><stop offset="1.0000" stop-color="#fffbed"/></linearGradient><linearGradient id="g38" gradientUnits="userSpaceOnUse" x1="323" y1="0" x2="2093" y2="0"><stop offset="0.0000" stop-color="#fffbee"/><stop offset="0.0203" stop-color="#fffbed"/><stop offset="0.1322" stop-color="#fff2c8"/><stop offset="0.1898" stop-color="#ffecaf"/><stop offset="0.2610" stop-color="#ffe287"/><stop offset="0.2915" stop-color="#ffdc76"/><stop offset="0.4034" stop-color="#ffbb3a"/><stop offset="0.4305" stop-color="#ffb732"/><stop offset="0.4576" stop-color="#ffb733"/><stop offset="0.4915" stop-color="#ffbe40"/><stop offset="0.5932" stop-color="#ffda71"/><stop offset="0.6373" stop-color="#ffe285"/><stop offset="0.7119" stop-color="#ffeaa7"/><stop offset="0.7831" stop-color="#fff0bf"/><stop offset="0.9051" stop-color="#fff7dd"/><stop offset="0.9932" stop-color="#fffaec"/><stop offset="1.0000" stop-color="#fffaec"/></linearGradient><linearGradient id="g39" gradientUnits="userSpaceOnUse" x1="323" y1="0" x2="2093" y2="0"><stop offset="0.0000" stop-color="#fffbee"/><stop offset="0.0203" stop-color="#fffbed"/><stop offset="0.1322" stop-color="#fff2c8"/><stop offset="0.1898" stop-color="#ffecaf"/><stop offset="0.2610" stop-color="#ffe287"/><stop offset="0.2915" stop-color="#ffdc76"/><stop offset="0.4068" stop-color="#ffba37"/><stop offset="0.4339" stop-color="#ffb530"/><stop offset="0.4576" stop-color="#ffb631"/><stop offset="0.4915" stop-color="#ffbd3d"/><stop offset="0.5898" stop-color="#ffd86e"/><stop offset="0.6373" stop-color="#ffe284"/><stop offset="0.7119" stop-color="#ffeaa6"/><stop offset="0.7864" stop-color="#fff0bf"/><stop offset="0.9085" stop-color="#fff7dd"/><stop offset="0.9932" stop-color="#fffaeb"/><stop offset="1.0000" stop-color="#fffaeb"/></linearGradient><linearGradient id="g40" gradientUnits="userSpaceOnUse" x1="323" y1="0" x2="2093" y2="0"><stop offset="0.0000" stop-color="#fffbee"/><stop offset="0.0203" stop-color="#fffbed"/><stop offset="0.1322" stop-color="#fff2c8"/><stop offset="0.1898" stop-color="#ffecaf"/><stop offset="0.2610" stop-color="#ffe287"/><stop offset="0.2915" stop-color="#ffdc76"/><stop offset="0.3729" stop-color="#ffc349"/><stop offset="0.4136" stop-color="#ffb733"/><stop offset="0.4407" stop-color="#ffb42d"/><stop offset="0.4644" stop-color="#ffb52f"/><stop offset="0.5017" stop-color="#ffbe3f"/><stop offset="0.5898" stop-color="#ffd76d"/><stop offset="0.6407" stop-color="#ffe284"/><stop offset="0.7153" stop-color="#ffeaa6"/><stop offset="0.7898" stop-color="#fff0bf"/><stop offset="0.9119" stop-color="#fff7dd"/><stop offset="0.9932" stop-color="#fffaeb"/><stop offset="1.0000" stop-color="#fffaeb"/></linearGradient><linearGradient id="g41" gradientUnits="userSpaceOnUse" x1="323" y1="0" x2="2093" y2="0"><stop offset="0.0000" stop-color="#fffbee"/><stop offset="0.0203" stop-color="#fffbed"/><stop offset="0.1322" stop-color="#fff2c8"/><stop offset="0.1898" stop-color="#ffecb0"/><stop offset="0.2610" stop-color="#ffe388"/><stop offset="0.2881" stop-color="#ffdd78"/><stop offset="0.3593" stop-color="#ffc750"/><stop offset="0.4136" stop-color="#ffb732"/><stop offset="0.4373" stop-color="#ffb32b"/><stop offset="0.4610" stop-color="#ffb32c"/><stop offset="0.4915" stop-color="#ffba37"/><stop offset="0.5864" stop-color="#ffd56a"/><stop offset="0.6441" stop-color="#ffe284"/><stop offset="0.7186" stop-color="#ffeaa6"/><stop offset="0.7932" stop-color="#fff0bf"/><stop offset="0.9153" stop-color="#fff7dc"/><stop offset="0.9932" stop-color="#fffaea"/><stop offset="1.0000" stop-color="#fffaea"/></linearGradient><linearGradient id="g42" gradientUnits="userSpaceOnUse" x1="323" y1="0" x2="2093" y2="0"><stop offset="0.0000" stop-color="#fffbee"/><stop offset="0.0203" stop-color="#fffbed"/><stop offset="0.1322" stop-color="#fff2c8"/><stop offset="0.1898" stop-color="#ffecb0"/><stop offset="0.2576" stop-color="#ffe38a"/><stop offset="0.2881" stop-color="#ffdd78"/><stop offset="0.3559" stop-color="#ffc852"/><stop offset="0.4136" stop-color="#ffb630"/><stop offset="0.4373" stop-color="#ffb128"/><stop offset="0.4610" stop-color="#ffb229"/><stop offset="0.4915" stop-color="#ffb835"/><stop offset="0.5864" stop-color="#ffd568"/><stop offset="0.6475" stop-color="#ffe284"/><stop offset="0.7220" stop-color="#ffeaa6"/><stop offset="0.7966" stop-color="#fff0bf"/><stop offset="0.9186" stop-color="#fff7dc"/><stop offset="0.9932" stop-color="#fffae9"/><stop offset="1.0000" stop-color="#fffae9"/></linearGradient><linearGradient id="g43" gradientUnits="userSpaceOnUse" x1="323" y1="0" x2="2093" y2="0"><stop offset="0.0000" stop-color="#fffbee"/><stop offset="0.0203" stop-color="#fffbed"/><stop offset="0.1322" stop-color="#fff2c9"/><stop offset="0.1898" stop-color="#ffecb0"/><stop offset="0.2576" stop-color="#ffe38a"/><stop offset="0.2881" stop-color="#ffdd78"/><stop offset="0.3559" stop-color="#ffc852"/><stop offset="0.4169" stop-color="#ffb42d"/><stop offset="0.4407" stop-color="#ffb025"/><stop offset="0.4644" stop-color="#ffb027"/><stop offset="0.4949" stop-color="#ffb833"/><stop offset="0.5831" stop-color="#ffd365"/><stop offset="0.6508" stop-color="#ffe284"/><stop offset="0.7254" stop-color="#ffeaa6"/><stop offset="0.8000" stop-color="#fff0bf"/><stop offset="0.9220" stop-color="#fff7dc"/><stop offset="0.9932" stop-color="#fffae8"/><stop offset="1.0000" stop-color="#fffae8"/></linearGradient><linearGradient id="g44" gradientUnits="userSpaceOnUse" x1="323" y1="0" x2="2093" y2="0"><stop offset="0.0000" stop-color="#fffbef"/><stop offset="0.0203" stop-color="#fffbee"/><stop offset="0.1322" stop-color="#fff2c9"/><stop offset="0.1898" stop-color="#ffecb0"/><stop offset="0.2576" stop-color="#ffe38a"/><stop offset="0.2881" stop-color="#ffdd78"/><stop offset="0.3525" stop-color="#ffc954"/><stop offset="0.4169" stop-color="#ffb32b"/><stop offset="0.4407" stop-color="#ffae23"/><stop offset="0.4644" stop-color="#ffaf23"/><stop offset="0.4915" stop-color="#ffb52e"/><stop offset="0.5831" stop-color="#ffd263"/><stop offset="0.6508" stop-color="#ffe182"/><stop offset="0.7220" stop-color="#ffe9a3"/><stop offset="0.8000" stop-color="#fff0be"/><stop offset="0.9220" stop-color="#fff6db"/><stop offset="0.9932" stop-color="#fff9e7"/><stop offset="1.0000" stop-color="#fff9e7"/></linearGradient><linearGradient id="g45" gradientUnits="userSpaceOnUse" x1="323" y1="0" x2="2093" y2="0"><stop offset="0.0000" stop-color="#fffbef"/><stop offset="0.0203" stop-color="#fffbee"/><stop offset="0.1322" stop-color="#fff2c9"/><stop offset="0.1898" stop-color="#ffecb0"/><stop offset="0.2576" stop-color="#ffe38b"/><stop offset="0.2881" stop-color="#ffdd78"/><stop offset="0.3492" stop-color="#ffcb56"/><stop offset="0.4203" stop-color="#ffb128"/><stop offset="0.4373" stop-color="#ffad22"/><stop offset="0.4644" stop-color="#ffad22"/><stop offset="0.4780" stop-color="#ffaf24"/><stop offset="0.5220" stop-color="#ffbd3e"/><stop offset="0.5864" stop-color="#ffd263"/><stop offset="0.6542" stop-color="#ffe182"/><stop offset="0.7254" stop-color="#ffe9a3"/><stop offset="0.8034" stop-color="#fff0be"/><stop offset="0.9254" stop-color="#fff6db"/><stop offset="0.9932" stop-color="#fff9e7"/><stop offset="1.0000" stop-color="#fff9e7"/></linearGradient><linearGradient id="g46" gradientUnits="userSpaceOnUse" x1="323" y1="0" x2="2093" y2="0"><stop offset="0.0000" stop-color="#fffbef"/><stop offset="0.0203" stop-color="#fffbee"/><stop offset="0.1322" stop-color="#fff2c9"/><stop offset="0.1898" stop-color="#ffecb1"/><stop offset="0.2576" stop-color="#ffe38b"/><stop offset="0.2915" stop-color="#ffdd77"/><stop offset="0.3525" stop-color="#ffc954"/><stop offset="0.4237" stop-color="#ffaf24"/><stop offset="0.4407" stop-color="#ffab21"/><stop offset="0.4678" stop-color="#ffab21"/><stop offset="0.4847" stop-color="#ffaf24"/><stop offset="0.5797" stop-color="#ffcf5e"/><stop offset="0.6441" stop-color="#ffdf7b"/><stop offset="0.7220" stop-color="#ffe8a0"/><stop offset="0.8034" stop-color="#ffefbd"/><stop offset="0.9254" stop-color="#fff6da"/><stop offset="0.9932" stop-color="#fff9e6"/><stop offset="1.0000" stop-color="#fff9e6"/></linearGradient><linearGradient id="g47" gradientUnits="userSpaceOnUse" x1="323" y1="0" x2="2093" y2="0"><stop offset="0.0000" stop-color="#fffbef"/><stop offset="0.0203" stop-color="#fffbee"/><stop offset="0.1322" stop-color="#fff2c9"/><stop offset="0.1898" stop-color="#ffecb1"/><stop offset="0.2576" stop-color="#ffe38b"/><stop offset="0.2915" stop-color="#ffdd77"/><stop offset="0.3525" stop-color="#ffc954"/><stop offset="0.4237" stop-color="#ffae22"/><stop offset="0.4508" stop-color="#ffa820"/><stop offset="0.4780" stop-color="#ffab21"/><stop offset="0.4915" stop-color="#ffaf24"/><stop offset="0.5763" stop-color="#ffcd5a"/><stop offset="0.6407" stop-color="#ffde79"/><stop offset="0.7322" stop-color="#ffe9a3"/><stop offset="0.8102" stop-color="#fff0be"/><stop offset="0.9322" stop-color="#fff6db"/><stop offset="0.9932" stop-color="#fff9e5"/><stop offset="1.0000" stop-color="#fff9e5"/></linearGradient><linearGradient id="g48" gradientUnits="userSpaceOnUse" x1="323" y1="0" x2="2093" y2="0"><stop offset="0.0000" stop-color="#fffbef"/><stop offset="0.0203" stop-color="#fffbee"/><stop offset="0.1322" stop-color="#fff2c9"/><stop offset="0.1898" stop-color="#ffecb1"/><stop offset="0.2576" stop-color="#ffe38c"/><stop offset="0.2915" stop-color="#ffdd77"/><stop offset="0.3492" stop-color="#ffcb56"/><stop offset="0.4203" stop-color="#ffaf23"/><stop offset="0.4475" stop-color="#fea61f"/><stop offset="0.4712" stop-color="#ffa720"/><stop offset="0.4949" stop-color="#ffae23"/><stop offset="0.5729" stop-color="#ffcb56"/><stop offset="0.6339" stop-color="#ffdb74"/><stop offset="0.6712" stop-color="#ffe286"/><stop offset="0.7458" stop-color="#ffeaa7"/><stop offset="0.8203" stop-color="#fff0c0"/><stop offset="0.9458" stop-color="#fff7dd"/><stop offset="0.9932" stop-color="#fff9e4"/><stop offset="1.0000" stop-color="#fff9e4"/></linearGradient><linearGradient id="g49" gradientUnits="userSpaceOnUse" x1="323" y1="0" x2="2093" y2="0"><stop offset="0.0000" stop-color="#fffbef"/><stop offset="0.0203" stop-color="#fffbee"/><stop offset="0.1322" stop-color="#fff2ca"/><stop offset="0.1898" stop-color="#ffedb2"/><stop offset="0.2576" stop-color="#ffe48c"/><stop offset="0.2915" stop-color="#ffdd78"/><stop offset="0.3492" stop-color="#ffcb56"/><stop offset="0.4203" stop-color="#ffae22"/><stop offset="0.4475" stop-color="#fea41f"/><stop offset="0.4712" stop-color="#fea41f"/><stop offset="0.5017" stop-color="#ffaf23"/><stop offset="0.5695" stop-color="#ffc852"/><stop offset="0.6271" stop-color="#ffd970"/><stop offset="0.6712" stop-color="#ffe284"/><stop offset="0.7424" stop-color="#ffe9a4"/><stop offset="0.8203" stop-color="#fff0bf"/><stop offset="0.9458" stop-color="#fff7dc"/><stop offset="0.9932" stop-color="#fff8e4"/><stop offset="1.0000" stop-color="#fff8e4"/></linearGradient><linearGradient id="g50" gradientUnits="userSpaceOnUse" x1="323" y1="0" x2="2093" y2="0"><stop offset="0.0000" stop-color="#fffbef"/><stop offset="0.0203" stop-color="#fffbee"/><stop offset="0.1322" stop-color="#fff2ca"/><stop offset="0.1932" stop-color="#ffecb0"/><stop offset="0.2610" stop-color="#ffe38a"/><stop offset="0.2915" stop-color="#ffdd78"/><stop offset="0.3492" stop-color="#ffcb56"/><stop offset="0.4068" stop-color="#ffb32b"/><stop offset="0.4169" stop-color="#ffae23"/><stop offset="0.4475" stop-color="#fea21e"/><stop offset="0.4712" stop-color="#fea21e"/><stop offset="0.5017" stop-color="#ffac21"/><stop offset="0.5085" stop-color="#ffaf25"/><stop offset="0.5661" stop-color="#ffc64e"/><stop offset="0.6203" stop-color="#ffd66b"/><stop offset="0.6746" stop-color="#ffe284"/><stop offset="0.7458" stop-color="#ffe9a4"/><stop offset="0.8237" stop-color="#fff0bf"/><stop offset="0.9492" stop-color="#fff7dc"/><stop offset="0.9932" stop-color="#fff8e3"/><stop offset="1.0000" stop-color="#fff8e3"/></linearGradient><linearGradient id="g51" gradientUnits="userSpaceOnUse" x1="323" y1="0" x2="2093" y2="0"><stop offset="0.0000" stop-color="#fffbef"/><stop offset="0.0203" stop-color="#fffbee"/><stop offset="0.1322" stop-color="#fff2ca"/><stop offset="0.1932" stop-color="#ffecb0"/><stop offset="0.2610" stop-color="#ffe38b"/><stop offset="0.2915" stop-color="#ffdd78"/><stop offset="0.3458" stop-color="#ffcc59"/><stop offset="0.3966" stop-color="#ffb733"/><stop offset="0.4169" stop-color="#ffae22"/><stop offset="0.4475" stop-color="#fea01d"/><stop offset="0.4678" stop-color="#fe9f1d"/><stop offset="0.4949" stop-color="#ffa720"/><stop offset="0.5119" stop-color="#ffaf24"/><stop offset="0.5661" stop-color="#ffc54c"/><stop offset="0.6203" stop-color="#ffd66a"/><stop offset="0.6780" stop-color="#ffe284"/><stop offset="0.7492" stop-color="#ffe9a4"/><stop offset="0.8271" stop-color="#fff0bf"/><stop offset="0.9525" stop-color="#fff7dc"/><stop offset="0.9932" stop-color="#fff8e2"/><stop offset="1.0000" stop-color="#fff8e2"/></linearGradient><linearGradient id="g52" gradientUnits="userSpaceOnUse" x1="323" y1="0" x2="2093" y2="0"><stop offset="0.0000" stop-color="#fffbf0"/><stop offset="0.0203" stop-color="#fffbef"/><stop offset="0.1322" stop-color="#fff2ca"/><stop offset="0.1932" stop-color="#ffecb1"/><stop offset="0.2610" stop-color="#ffe38b"/><stop offset="0.2915" stop-color="#ffdd78"/><stop offset="0.3458" stop-color="#ffcc59"/><stop offset="0.3932" stop-color="#ffb935"/><stop offset="0.4169" stop-color="#ffad22"/><stop offset="0.4475" stop-color="#fe9e1d"/><stop offset="0.4678" stop-color="#fe9c1c"/><stop offset="0.4915" stop-color="#fea21e"/><stop offset="0.5153" stop-color="#ffae23"/><stop offset="0.5661" stop-color="#ffc449"/><stop offset="0.6169" stop-color="#ffd467"/><stop offset="0.6780" stop-color="#ffe183"/><stop offset="0.7492" stop-color="#ffe9a3"/><stop offset="0.8271" stop-color="#ffefbe"/><stop offset="0.9492" stop-color="#fff6da"/><stop offset="0.9932" stop-color="#fff8e1"/><stop offset="1.0000" stop-color="#fff8e1"/></linearGradient><linearGradient id="g53" gradientUnits="userSpaceOnUse" x1="323" y1="0" x2="2093" y2="0"><stop offset="0.0000" stop-color="#fffbf0"/><stop offset="0.0203" stop-color="#fffbef"/><stop offset="0.1322" stop-color="#fff2cb"/><stop offset="0.1932" stop-color="#ffecb1"/><stop offset="0.2610" stop-color="#ffe38b"/><stop offset="0.2949" stop-color="#ffdd77"/><stop offset="0.3492" stop-color="#ffcb57"/><stop offset="0.3932" stop-color="#ffb835"/><stop offset="0.4136" stop-color="#ffae23"/><stop offset="0.4475" stop-color="#fe9d1c"/><stop offset="0.4678" stop-color="#fe991b"/><stop offset="0.4881" stop-color="#fe9e1c"/><stop offset="0.5186" stop-color="#ffae22"/><stop offset="0.5695" stop-color="#ffc449"/><stop offset="0.6203" stop-color="#ffd467"/><stop offset="0.6814" stop-color="#ffe183"/><stop offset="0.7525" stop-color="#ffe9a3"/><stop offset="0.8305" stop-color="#ffefbe"/><stop offset="0.9559" stop-color="#fff6db"/><stop offset="0.9932" stop-color="#fff8e1"/><stop offset="1.0000" stop-color="#fff8e1"/></linearGradient><linearGradient id="g54" gradientUnits="userSpaceOnUse" x1="323" y1="0" x2="2093" y2="0"><stop offset="0.0000" stop-color="#fffbf0"/><stop offset="0.0203" stop-color="#fffbef"/><stop offset="0.1322" stop-color="#fff3cb"/><stop offset="0.1932" stop-color="#ffedb1"/><stop offset="0.2610" stop-color="#ffe48c"/><stop offset="0.2949" stop-color="#ffdd77"/><stop offset="0.3492" stop-color="#ffcb57"/><stop offset="0.3932" stop-color="#ffb835"/><stop offset="0.4136" stop-color="#ffae22"/><stop offset="0.4508" stop-color="#fe991b"/><stop offset="0.4678" stop-color="#fd961a"/><stop offset="0.4881" stop-color="#fe9b1b"/><stop offset="0.5220" stop-color="#ffad22"/><stop offset="0.5729" stop-color="#ffc449"/><stop offset="0.6237" stop-color="#ffd467"/><stop offset="0.6847" stop-color="#ffe183"/><stop offset="0.7559" stop-color="#ffe9a3"/><stop offset="0.8339" stop-color="#ffefbe"/><stop offset="0.9593" stop-color="#fff6db"/><stop offset="0.9932" stop-color="#fff8e0"/><stop offset="1.0000" stop-color="#fff8e0"/></linearGradient><linearGradient id="g55" gradientUnits="userSpaceOnUse" x1="323" y1="0" x2="2093" y2="0"><stop offset="0.0000" stop-color="#fffbf0"/><stop offset="0.0203" stop-color="#fffbef"/><stop offset="0.1322" stop-color="#fff3cb"/><stop offset="0.1932" stop-color="#ffedb2"/><stop offset="0.2610" stop-color="#ffe48c"/><stop offset="0.2949" stop-color="#ffdd78"/><stop offset="0.3492" stop-color="#ffcb58"/><stop offset="0.3898" stop-color="#ffba38"/><stop offset="0.4136" stop-color="#ffae22"/><stop offset="0.4508" stop-color="#fd971a"/><stop offset="0.4678" stop-color="#fd9319"/><stop offset="0.4847" stop-color="#fd961a"/><stop offset="0.5288" stop-color="#ffaf23"/><stop offset="0.5695" stop-color="#ffc145"/><stop offset="0.6169" stop-color="#ffd162"/><stop offset="0.6847" stop-color="#ffe181"/><stop offset="0.7559" stop-color="#ffe9a2"/><stop offset="0.8339" stop-color="#ffefbd"/><stop offset="0.9559" stop-color="#fff6d9"/><stop offset="0.9932" stop-color="#fff7df"/><stop offset="1.0000" stop-color="#fff7df"/></linearGradient><linearGradient id="g56" gradientUnits="userSpaceOnUse" x1="323" y1="0" x2="2093" y2="0"><stop offset="0.0000" stop-color="#fffbf0"/><stop offset="0.0203" stop-color="#fffbef"/><stop offset="0.1322" stop-color="#fff3cb"/><stop offset="0.1932" stop-color="#ffedb2"/><stop offset="0.2610" stop-color="#ffe48d"/><stop offset="0.2949" stop-color="#ffdd78"/><stop offset="0.3492" stop-color="#ffcc58"/><stop offset="0.3898" stop-color="#ffba38"/><stop offset="0.4136" stop-color="#ffae22"/><stop offset="0.4542" stop-color="#fd9419"/><stop offset="0.4712" stop-color="#fd8f17"/><stop offset="0.4881" stop-color="#fd9419"/><stop offset="0.5322" stop-color="#ffae23"/><stop offset="0.5695" stop-color="#ffc042"/><stop offset="0.6169" stop-color="#ffd060"/><stop offset="0.6881" stop-color="#ffe181"/><stop offset="0.7593" stop-color="#ffe9a2"/><stop offset="0.8407" stop-color="#ffefbe"/><stop offset="0.9661" stop-color="#fff6da"/><stop offset="0.9932" stop-color="#fff7de"/><stop offset="1.0000" stop-color="#fff7de"/></linearGradient><linearGradient id="g57" gradientUnits="userSpaceOnUse" x1="323" y1="0" x2="2093" y2="0"><stop offset="0.0000" stop-color="#fffcf0"/><stop offset="0.0203" stop-color="#fffbef"/><stop offset="0.1322" stop-color="#fff3cc"/><stop offset="0.1966" stop-color="#ffecb1"/><stop offset="0.2644" stop-color="#ffe38b"/><stop offset="0.2983" stop-color="#ffdd77"/><stop offset="0.3492" stop-color="#ffcc58"/><stop offset="0.3898" stop-color="#ffba38"/><stop offset="0.4136" stop-color="#ffad22"/><stop offset="0.4576" stop-color="#fd9018"/><stop offset="0.4746" stop-color="#fd8c16"/><stop offset="0.4915" stop-color="#fd9118"/><stop offset="0.5356" stop-color="#ffae22"/><stop offset="0.5729" stop-color="#ffc042"/><stop offset="0.6169" stop-color="#ffcf5f"/><stop offset="0.6780" stop-color="#ffdf7b"/><stop offset="0.7559" stop-color="#ffe89f"/><stop offset="0.8373" stop-color="#ffefbc"/><stop offset="0.9593" stop-color="#fff6d8"/><stop offset="0.9932" stop-color="#fff7dd"/><stop offset="1.0000" stop-color="#fff7dd"/></linearGradient><linearGradient id="g58" gradientUnits="userSpaceOnUse" x1="323" y1="0" x2="2093" y2="0"><stop offset="0.0000" stop-color="#fffcf1"/><stop offset="0.0203" stop-color="#fffbf0"/><stop offset="0.1356" stop-color="#fff3cb"/><stop offset="0.1966" stop-color="#ffecb1"/><stop offset="0.2644" stop-color="#ffe38c"/><stop offset="0.2983" stop-color="#ffdd77"/><stop offset="0.3492" stop-color="#ffcc59"/><stop offset="0.3898" stop-color="#ffbb39"/><stop offset="0.4136" stop-color="#ffad22"/><stop offset="0.4610" stop-color="#fd8c16"/><stop offset="0.4746" stop-color="#fc8815"/><stop offset="0.4915" stop-color="#fd8d17"/><stop offset="0.5390" stop-color="#ffae22"/><stop offset="0.5729" stop-color="#ffbe40"/><stop offset="0.6169" stop-color="#ffce5d"/><stop offset="0.6746" stop-color="#ffdd78"/><stop offset="0.7661" stop-color="#ffe9a2"/><stop offset="0.8475" stop-color="#ffefbe"/><stop offset="0.9729" stop-color="#fff6da"/><stop offset="0.9966" stop-color="#fff7dd"/><stop offset="1.0000" stop-color="#fff7dd"/></linearGradient><linearGradient id="g59" gradientUnits="userSpaceOnUse" x1="323" y1="0" x2="2093" y2="0"><stop offset="0.0000" stop-color="#fffcf1"/><stop offset="0.0203" stop-color="#fffbf0"/><stop offset="0.1356" stop-color="#fff3cb"/><stop offset="0.1966" stop-color="#ffedb2"/><stop offset="0.2644" stop-color="#ffe48c"/><stop offset="0.2983" stop-color="#ffdd78"/><stop offset="0.3492" stop-color="#ffcc59"/><stop offset="0.3898" stop-color="#ffbb39"/><stop offset="0.4136" stop-color="#ffae22"/><stop offset="0.4610" stop-color="#fc8915"/><stop offset="0.4746" stop-color="#fc8414"/><stop offset="0.4881" stop-color="#fc8715"/><stop offset="0.5254" stop-color="#fea21e"/><stop offset="0.5424" stop-color="#ffae22"/><stop offset="0.5763" stop-color="#ffbf40"/><stop offset="0.6203" stop-color="#ffce5d"/><stop offset="0.6780" stop-color="#ffde79"/><stop offset="0.7695" stop-color="#ffe9a2"/><stop offset="0.8508" stop-color="#ffefbe"/><stop offset="0.9763" stop-color="#fff6da"/><stop offset="1.0000" stop-color="#fff7dc"/></linearGradient><linearGradient id="g60" gradientUnits="userSpaceOnUse" x1="323" y1="0" x2="2093" y2="0"><stop offset="0.0000" stop-color="#fffcf1"/><stop offset="0.0203" stop-color="#fffbf0"/><stop offset="0.1356" stop-color="#fff3cb"/><stop offset="0.1966" stop-color="#ffedb2"/><stop offset="0.2644" stop-color="#ffe48d"/><stop offset="0.2983" stop-color="#ffdd78"/><stop offset="0.3492" stop-color="#ffcd5a"/><stop offset="0.3864" stop-color="#ffbd3d"/><stop offset="0.4136" stop-color="#ffae22"/><stop offset="0.4644" stop-color="#fc8414"/><stop offset="0.4780" stop-color="#fc8012"/><stop offset="0.4915" stop-color="#fc8414"/><stop offset="0.5458" stop-color="#ffae22"/><stop offset="0.5797" stop-color="#ffbf40"/><stop offset="0.6237" stop-color="#ffcf5d"/><stop offset="0.6814" stop-color="#ffde79"/><stop offset="0.7695" stop-color="#ffe9a1"/><stop offset="0.8508" stop-color="#ffefbd"/><stop offset="0.9763" stop-color="#fff6d9"/><stop offset="1.0000" stop-color="#fff6db"/></linearGradient><linearGradient id="g61" gradientUnits="userSpaceOnUse" x1="323" y1="0" x2="2093" y2="0"><stop offset="0.0000" stop-color="#fffcf1"/><stop offset="0.0203" stop-color="#fffbf0"/><stop offset="0.1356" stop-color="#fff3cc"/><stop offset="0.2000" stop-color="#ffecb1"/><stop offset="0.2678" stop-color="#ffe38b"/><stop offset="0.3017" stop-color="#ffdd77"/><stop offset="0.3525" stop-color="#ffcc58"/><stop offset="0.3898" stop-color="#ffbb3a"/><stop offset="0.4136" stop-color="#ffae22"/><stop offset="0.4508" stop-color="#fd8e17"/><stop offset="0.4712" stop-color="#fc7d11"/><stop offset="0.4814" stop-color="#fb7b10"/><stop offset="0.4949" stop-color="#fc8113"/><stop offset="0.5424" stop-color="#ffa920"/><stop offset="0.5492" stop-color="#ffae22"/><stop offset="0.5797" stop-color="#ffbd3e"/><stop offset="0.6203" stop-color="#ffcd5a"/><stop offset="0.6780" stop-color="#ffdc76"/><stop offset="0.7356" stop-color="#ffe591"/><stop offset="0.8169" stop-color="#ffecb1"/><stop offset="0.8949" stop-color="#fff2c7"/><stop offset="0.9898" stop-color="#fff6da"/><stop offset="1.0000" stop-color="#fff6da"/></linearGradient><linearGradient id="g62" gradientUnits="userSpaceOnUse" x1="323" y1="0" x2="2093" y2="0"><stop offset="0.0000" stop-color="#fffcf1"/><stop offset="0.0203" stop-color="#fffcf0"/><stop offset="0.1356" stop-color="#fff3cc"/><stop offset="0.2000" stop-color="#ffecb1"/><stop offset="0.2678" stop-color="#ffe48c"/><stop offset="0.3017" stop-color="#ffdd77"/><stop offset="0.3525" stop-color="#ffcc59"/><stop offset="0.3898" stop-color="#ffbc3b"/><stop offset="0.4136" stop-color="#ffae23"/><stop offset="0.4441" stop-color="#fd9419"/><stop offset="0.4712" stop-color="#fb7a10"/><stop offset="0.4814" stop-color="#fb760f"/><stop offset="0.4915" stop-color="#fb7910"/><stop offset="0.5424" stop-color="#ffa720"/><stop offset="0.5525" stop-color="#ffae22"/><stop offset="0.5831" stop-color="#ffbe3e"/><stop offset="0.6237" stop-color="#ffcd5a"/><stop offset="0.6814" stop-color="#ffdc76"/><stop offset="0.7254" stop-color="#ffe38b"/><stop offset="0.8034" stop-color="#ffebab"/><stop offset="0.8746" stop-color="#fff0c1"/><stop offset="0.9864" stop-color="#fff6da"/><stop offset="1.0000" stop-color="#fff6da"/></linearGradient><linearGradient id="g63" gradientUnits="userSpaceOnUse" x1="323" y1="0" x2="2093" y2="0"><stop offset="0.0000" stop-color="#fffcf2"/><stop offset="0.0203" stop-color="#fffcf1"/><stop offset="0.1356" stop-color="#fff3cc"/><stop offset="0.2000" stop-color="#ffedb2"/><stop offset="0.2678" stop-color="#ffe48d"/><stop offset="0.3017" stop-color="#ffdd78"/><stop offset="0.3525" stop-color="#ffcd5a"/><stop offset="0.3898" stop-color="#ffbc3c"/><stop offset="0.4136" stop-color="#ffaf23"/><stop offset="0.4407" stop-color="#fd971a"/><stop offset="0.4746" stop-color="#fb740e"/><stop offset="0.4847" stop-color="#f87111"/><stop offset="0.4949" stop-color="#fb750f"/><stop offset="0.5356" stop-color="#fe9f1d"/><stop offset="0.5559" stop-color="#ffae23"/><stop offset="0.5864" stop-color="#ffbe3f"/><stop offset="0.6271" stop-color="#ffcd5a"/><stop offset="0.6847" stop-color="#ffdc76"/><stop offset="0.7424" stop-color="#ffe591"/><stop offset="0.8237" stop-color="#ffecb1"/><stop offset="0.9017" stop-color="#fff2c7"/><stop offset="0.9898" stop-color="#fff6d9"/><stop offset="1.0000" stop-color="#fff6d9"/></linearGradient><linearGradient id="g64" gradientUnits="userSpaceOnUse" x1="323" y1="0" x2="2093" y2="0"><stop offset="0.0000" stop-color="#fffcf2"/><stop offset="0.0203" stop-color="#fffcf1"/><stop offset="0.1356" stop-color="#fff3cd"/><stop offset="0.2000" stop-color="#ffedb2"/><stop offset="0.2678" stop-color="#ffe48d"/><stop offset="0.3017" stop-color="#ffdd78"/><stop offset="0.3525" stop-color="#ffcd5a"/><stop offset="0.3898" stop-color="#ffbd3d"/><stop offset="0.4169" stop-color="#ffad22"/><stop offset="0.4441" stop-color="#fd9419"/><stop offset="0.4712" stop-color="#fb740e"/><stop offset="0.4814" stop-color="#f36c17"/><stop offset="0.4915" stop-color="#f46d16"/><stop offset="0.5017" stop-color="#fb760f"/><stop offset="0.5322" stop-color="#fe991b"/><stop offset="0.5593" stop-color="#ffaf23"/><stop offset="0.5898" stop-color="#ffbe3f"/><stop offset="0.6305" stop-color="#ffcd5b"/><stop offset="0.6881" stop-color="#ffdd77"/><stop offset="0.7492" stop-color="#ffe593"/><stop offset="0.8305" stop-color="#ffedb2"/><stop offset="0.9153" stop-color="#fff2c9"/><stop offset="0.9898" stop-color="#fff6d8"/><stop offset="1.0000" stop-color="#fff6d8"/></linearGradient><linearGradient id="g65" gradientUnits="userSpaceOnUse" x1="323" y1="0" x2="2093" y2="0"><stop offset="0.0000" stop-color="#fffcf2"/><stop offset="0.0203" stop-color="#fffcf1"/><stop offset="0.1356" stop-color="#fff3cd"/><stop offset="0.2000" stop-color="#ffedb3"/><stop offset="0.2678" stop-color="#ffe48e"/><stop offset="0.3051" stop-color="#ffdd77"/><stop offset="0.3559" stop-color="#ffcc59"/><stop offset="0.3932" stop-color="#ffbc3b"/><stop offset="0.4169" stop-color="#ffae22"/><stop offset="0.4441" stop-color="#fd9519"/><stop offset="0.4678" stop-color="#fb760f"/><stop offset="0.4746" stop-color="#f56d15"/><stop offset="0.4847" stop-color="#ed651e"/><stop offset="0.4915" stop-color="#ee661d"/><stop offset="0.5017" stop-color="#f66f13"/><stop offset="0.5051" stop-color="#fa730f"/><stop offset="0.5288" stop-color="#fd9218"/><stop offset="0.5559" stop-color="#ffaa21"/><stop offset="0.5627" stop-color="#ffaf24"/><stop offset="0.5932" stop-color="#ffbe40"/><stop offset="0.6339" stop-color="#ffcd5b"/><stop offset="0.6915" stop-color="#ffdd77"/><stop offset="0.7593" stop-color="#ffe696"/><stop offset="0.8441" stop-color="#ffedb5"/><stop offset="0.9492" stop-color="#fff4d0"/><stop offset="0.9932" stop-color="#fff6d7"/><stop offset="1.0000" stop-color="#fff6d7"/></linearGradient><linearGradient id="g66" gradientUnits="userSpaceOnUse" x1="323" y1="0" x2="2093" y2="0"><stop offset="0.0000" stop-color="#fffcf2"/><stop offset="0.0203" stop-color="#fffcf1"/><stop offset="0.1356" stop-color="#fff3cd"/><stop offset="0.2034" stop-color="#ffedb2"/><stop offset="0.2712" stop-color="#ffe48c"/><stop offset="0.3051" stop-color="#ffdd78"/><stop offset="0.3559" stop-color="#ffcd5a"/><stop offset="0.3932" stop-color="#ffbc3c"/><stop offset="0.4169" stop-color="#ffae23"/><stop offset="0.4407" stop-color="#fe991b"/><stop offset="0.4610" stop-color="#fc7f12"/><stop offset="0.4678" stop-color="#fb750e"/><stop offset="0.4814" stop-color="#ea6221"/><stop offset="0.4881" stop-color="#e65e26"/><stop offset="0.4949" stop-color="#e86023"/><stop offset="0.5085" stop-color="#f97211"/><stop offset="0.5119" stop-color="#fb770f"/><stop offset="0.5322" stop-color="#fd9218"/><stop offset="0.5559" stop-color="#ffa820"/><stop offset="0.5661" stop-color="#ffaf24"/><stop offset="0.5966" stop-color="#ffbf40"/><stop offset="0.6373" stop-color="#ffce5b"/><stop offset="0.6949" stop-color="#ffdd77"/><stop offset="0.7661" stop-color="#ffe698"/><stop offset="0.8508" stop-color="#ffeeb7"/><stop offset="0.9593" stop-color="#fff4d1"/><stop offset="0.9932" stop-color="#fff5d7"/><stop offset="1.0000" stop-color="#fff5d7"/></linearGradient><linearGradient id="g67" gradientUnits="userSpaceOnUse" x1="323" y1="0" x2="2093" y2="0"><stop offset="0.0000" stop-color="#fffcf3"/><stop offset="0.0203" stop-color="#fffcf2"/><stop offset="0.1356" stop-color="#fff3ce"/><stop offset="0.2034" stop-color="#ffedb2"/><stop offset="0.2712" stop-color="#ffe48d"/><stop offset="0.3051" stop-color="#ffdd78"/><stop offset="0.3559" stop-color="#ffcd5b"/><stop offset="0.3932" stop-color="#ffbd3d"/><stop offset="0.4203" stop-color="#ffad22"/><stop offset="0.4441" stop-color="#fd961a"/><stop offset="0.4610" stop-color="#fc8012"/><stop offset="0.4678" stop-color="#fb750e"/><stop offset="0.4847" stop-color="#e25a2a"/><stop offset="0.4881" stop-color="#df562e"/><stop offset="0.4915" stop-color="#de562f"/><stop offset="0.4983" stop-color="#e35b29"/><stop offset="0.5119" stop-color="#f87112"/><stop offset="0.5153" stop-color="#fb760f"/><stop offset="0.5322" stop-color="#fd8e17"/><stop offset="0.5559" stop-color="#fea61f"/><stop offset="0.5661" stop-color="#ffae22"/><stop offset="0.6000" stop-color="#ffbf41"/><stop offset="0.6407" stop-color="#ffce5c"/><stop offset="0.6983" stop-color="#ffdd77"/><stop offset="0.7729" stop-color="#ffe799"/><stop offset="0.8610" stop-color="#ffeeb9"/><stop offset="0.9797" stop-color="#fff5d4"/><stop offset="1.0000" stop-color="#fff5d6"/></linearGradient><linearGradient id="g68" gradientUnits="userSpaceOnUse" x1="323" y1="0" x2="2093" y2="0"><stop offset="0.0000" stop-color="#fffcf3"/><stop offset="0.0203" stop-color="#fffcf2"/><stop offset="0.1390" stop-color="#fff3cd"/><stop offset="0.2034" stop-color="#ffedb3"/><stop offset="0.2712" stop-color="#ffe48e"/><stop offset="0.3085" stop-color="#ffdd77"/><stop offset="0.3593" stop-color="#ffcc59"/><stop offset="0.3966" stop-color="#ffbc3b"/><stop offset="0.4203" stop-color="#ffae22"/><stop offset="0.4441" stop-color="#fd971a"/><stop offset="0.4610" stop-color="#fc8112"/><stop offset="0.4678" stop-color="#fb750e"/><stop offset="0.4746" stop-color="#f1691a"/><stop offset="0.4881" stop-color="#d84f36"/><stop offset="0.4915" stop-color="#d54c39"/><stop offset="0.4949" stop-color="#d54c39"/><stop offset="0.5017" stop-color="#de562e"/><stop offset="0.5153" stop-color="#f77012"/><stop offset="0.5186" stop-color="#fb760f"/><stop offset="0.5356" stop-color="#fd8f17"/><stop offset="0.5593" stop-color="#fea61f"/><stop offset="0.5695" stop-color="#ffae22"/><stop offset="0.6000" stop-color="#ffbe3f"/><stop offset="0.6407" stop-color="#ffcd5a"/><stop offset="0.6983" stop-color="#ffdc76"/><stop offset="0.7559" stop-color="#ffe591"/><stop offset="0.8373" stop-color="#ffecb0"/><stop offset="0.9119" stop-color="#fff1c5"/><stop offset="0.9898" stop-color="#fff5d5"/><stop offset="1.0000" stop-color="#fff5d5"/></linearGradient><linearGradient id="g69" gradientUnits="userSpaceOnUse" x1="323" y1="0" x2="2093" y2="0"><stop offset="0.0000" stop-color="#fffcf3"/><stop offset="0.0203" stop-color="#fffcf2"/><stop offset="0.1390" stop-color="#fff3cd"/><stop offset="0.2068" stop-color="#ffedb2"/><stop offset="0.2746" stop-color="#ffe48d"/><stop offset="0.3085" stop-color="#ffdd78"/><stop offset="0.3593" stop-color="#ffcd5a"/><stop offset="0.3966" stop-color="#ffbc3c"/><stop offset="0.4203" stop-color="#ffaf23"/><stop offset="0.4441" stop-color="#fe991b"/><stop offset="0.4610" stop-color="#fc8213"/><stop offset="0.4678" stop-color="#fb770f"/><stop offset="0.4712" stop-color="#f87012"/><stop offset="0.4814" stop-color="#e25a2a"/><stop offset="0.4881" stop-color="#d2493c"/><stop offset="0.4915" stop-color="#cb4343"/><stop offset="0.4949" stop-color="#c94046"/><stop offset="0.4983" stop-color="#cc4343"/><stop offset="0.5153" stop-color="#f16a19"/><stop offset="0.5186" stop-color="#f77012"/><stop offset="0.5220" stop-color="#fb760f"/><stop offset="0.5356" stop-color="#fd8b16"/><stop offset="0.5559" stop-color="#fea11e"/><stop offset="0.5729" stop-color="#ffaf23"/><stop offset="0.6034" stop-color="#ffbe40"/><stop offset="0.6441" stop-color="#ffcd5b"/><stop offset="0.7017" stop-color="#ffdc76"/><stop offset="0.7627" stop-color="#ffe592"/><stop offset="0.8441" stop-color="#ffecb1"/><stop offset="0.9254" stop-color="#fff2c7"/><stop offset="0.9898" stop-color="#fff5d4"/><stop offset="1.0000" stop-color="#fff5d4"/></linearGradient><linearGradient id="g70" gradientUnits="userSpaceOnUse" x1="323" y1="0" x2="2093" y2="0"><stop offset="0.0000" stop-color="#fffcf3"/><stop offset="0.0203" stop-color="#fffcf2"/><stop offset="0.1390" stop-color="#fff3ce"/><stop offset="0.2068" stop-color="#ffedb2"/><stop offset="0.2746" stop-color="#ffe48d"/><stop offset="0.3119" stop-color="#ffdd77"/><stop offset="0.3627" stop-color="#ffcc59"/><stop offset="0.4000" stop-color="#ffbb3a"/><stop offset="0.4237" stop-color="#ffad22"/><stop offset="0.4475" stop-color="#fd961a"/><stop offset="0.4644" stop-color="#fc7f12"/><stop offset="0.4678" stop-color="#fb7910"/><stop offset="0.4712" stop-color="#f97210"/><stop offset="0.4814" stop-color="#e35b29"/><stop offset="0.4881" stop-color="#cf463f"/><stop offset="0.4915" stop-color="#be3d4c"/><stop offset="0.4949" stop-color="#ac3856"/><stop offset="0.4983" stop-color="#ac3856"/><stop offset="0.5017" stop-color="#bd3d4d"/><stop offset="0.5051" stop-color="#ce4640"/><stop offset="0.5119" stop-color="#e25a2a"/><stop offset="0.5220" stop-color="#f87111"/><stop offset="0.5254" stop-color="#fb770f"/><stop offset="0.5390" stop-color="#fd8c16"/><stop offset="0.5593" stop-color="#fea21e"/><stop offset="0.5729" stop-color="#ffad22"/><stop offset="0.6102" stop-color="#ffc043"/><stop offset="0.6542" stop-color="#ffd05f"/><stop offset="0.7153" stop-color="#ffdf7b"/><stop offset="0.7966" stop-color="#ffe89f"/><stop offset="0.8814" stop-color="#ffefbc"/><stop offset="0.9864" stop-color="#fff5d3"/><stop offset="1.0000" stop-color="#fff5d3"/></linearGradient><linearGradient id="g71" gradientUnits="userSpaceOnUse" x1="323" y1="0" x2="2093" y2="0"><stop offset="0.0000" stop-color="#fffcf4"/><stop offset="0.0203" stop-color="#fffcf3"/><stop offset="0.1390" stop-color="#fff3ce"/><stop offset="0.2068" stop-color="#ffedb3"/><stop offset="0.2746" stop-color="#ffe48e"/><stop offset="0.3119" stop-color="#ffdd78"/><stop offset="0.3627" stop-color="#ffcd5a"/><stop offset="0.4000" stop-color="#ffbc3c"/><stop offset="0.4237" stop-color="#ffae22"/><stop offset="0.4475" stop-color="#fd981a"/><stop offset="0.4644" stop-color="#fc8113"/><stop offset="0.4712" stop-color="#fb750e"/><stop offset="0.4780" stop-color="#ee661d"/><stop offset="0.4847" stop-color="#dc5331"/><stop offset="0.4881" stop-color="#d0473e"/><stop offset="0.4915" stop-color="#b93b4f"/><stop offset="0.4949" stop-color="#953162"/><stop offset="0.4983" stop-color="#7e2b6f"/><stop offset="0.5017" stop-color="#8f3065"/><stop offset="0.5051" stop-color="#b23a52"/><stop offset="0.5085" stop-color="#cd4441"/><stop offset="0.5153" stop-color="#e35c28"/><stop offset="0.5220" stop-color="#f36c17"/><stop offset="0.5254" stop-color="#fa7310"/><stop offset="0.5356" stop-color="#fc8414"/><stop offset="0.5525" stop-color="#fe991b"/><stop offset="0.5763" stop-color="#ffae22"/><stop offset="0.6068" stop-color="#ffbe3e"/><stop offset="0.6475" stop-color="#ffcd5a"/><stop offset="0.7017" stop-color="#ffdb74"/><stop offset="0.7525" stop-color="#ffe38b"/><stop offset="0.8305" stop-color="#ffebaa"/><stop offset="0.9051" stop-color="#fff0c1"/><stop offset="0.9898" stop-color="#fff4d3"/><stop offset="1.0000" stop-color="#fff4d3"/></linearGradient><linearGradient id="g72" gradientUnits="userSpaceOnUse" x1="323" y1="0" x2="2093" y2="0"><stop offset="0.0000" stop-color="#fffcf4"/><stop offset="0.0203" stop-color="#fffcf3"/><stop offset="0.1390" stop-color="#fff3ce"/><stop offset="0.2102" stop-color="#ffedb2"/><stop offset="0.2780" stop-color="#ffe48d"/><stop offset="0.3119" stop-color="#ffdd78"/><stop offset="0.3627" stop-color="#ffcd5b"/><stop offset="0.4000" stop-color="#ffbd3d"/><stop offset="0.4271" stop-color="#ffad22"/><stop offset="0.4508" stop-color="#fd961a"/><stop offset="0.4644" stop-color="#fc8413"/><stop offset="0.4712" stop-color="#fb780f"/><stop offset="0.4746" stop-color="#f87111"/><stop offset="0.4814" stop-color="#e96222"/><stop offset="0.4881" stop-color="#d44c39"/><stop offset="0.4915" stop-color="#c13e4a"/><stop offset="0.4949" stop-color="#953162"/><stop offset="0.4983" stop-color="#582078"/><stop offset="0.5017" stop-color="#481a62"/><stop offset="0.5051" stop-color="#842d6c"/><stop offset="0.5085" stop-color="#b43a51"/><stop offset="0.5119" stop-color="#d0473f"/><stop offset="0.5153" stop-color="#dc5431"/><stop offset="0.5220" stop-color="#ee671c"/><stop offset="0.5288" stop-color="#fb750e"/><stop offset="0.5424" stop-color="#fd8b16"/><stop offset="0.5627" stop-color="#fea11d"/><stop offset="0.5797" stop-color="#ffae23"/><stop offset="0.6102" stop-color="#ffbe3f"/><stop offset="0.6508" stop-color="#ffcd5a"/><stop offset="0.7085" stop-color="#ffdc76"/><stop offset="0.7661" stop-color="#ffe590"/><stop offset="0.8475" stop-color="#ffecaf"/><stop offset="0.9220" stop-color="#fff1c4"/><stop offset="0.9898" stop-color="#fff4d2"/><stop offset="1.0000" stop-color="#fff4d2"/></linearGradient><linearGradient id="g73" gradientUnits="userSpaceOnUse" x1="323" y1="0" x2="2093" y2="0"><stop offset="0.0000" stop-color="#fffcf4"/><stop offset="0.0203" stop-color="#fffcf3"/><stop offset="0.1390" stop-color="#fff3cf"/><stop offset="0.2102" stop-color="#ffedb3"/><stop offset="0.2780" stop-color="#ffe48e"/><stop offset="0.3153" stop-color="#ffdd77"/><stop offset="0.3661" stop-color="#ffcc59"/><stop offset="0.4034" stop-color="#ffbc3c"/><stop offset="0.4271" stop-color="#ffae22"/><stop offset="0.4508" stop-color="#fd981a"/><stop offset="0.4678" stop-color="#fc8112"/><stop offset="0.4746" stop-color="#fb740e"/><stop offset="0.4814" stop-color="#ee661d"/><stop offset="0.4881" stop-color="#db5232"/><stop offset="0.4915" stop-color="#cd4541"/><stop offset="0.4949" stop-color="#ac3855"/><stop offset="0.4983" stop-color="#732874"/><stop offset="0.5017" stop-color="#220c2e"/><stop offset="0.5051" stop-color="#4f1d6c"/><stop offset="0.5085" stop-color="#953262"/><stop offset="0.5119" stop-color="#c23e4a"/><stop offset="0.5153" stop-color="#d54c39"/><stop offset="0.5220" stop-color="#e96122"/><stop offset="0.5288" stop-color="#f87112"/><stop offset="0.5322" stop-color="#fb770f"/><stop offset="0.5458" stop-color="#fd8c16"/><stop offset="0.5661" stop-color="#fea21e"/><stop offset="0.5831" stop-color="#ffaf24"/><stop offset="0.6136" stop-color="#ffbe40"/><stop offset="0.6542" stop-color="#ffcd5b"/><stop offset="0.7119" stop-color="#ffdc76"/><stop offset="0.7729" stop-color="#ffe592"/><stop offset="0.8576" stop-color="#ffecb1"/><stop offset="0.9390" stop-color="#fff2c7"/><stop offset="0.9898" stop-color="#fff4d1"/><stop offset="1.0000" stop-color="#fff4d1"/></linearGradient><linearGradient id="g74" gradientUnits="userSpaceOnUse" x1="323" y1="0" x2="2093" y2="0"><stop offset="0.0000" stop-color="#fffcf4"/><stop offset="0.0203" stop-color="#fffcf3"/><stop offset="0.1390" stop-color="#fff4cf"/><stop offset="0.2102" stop-color="#ffedb3"/><stop offset="0.2780" stop-color="#ffe48f"/><stop offset="0.3153" stop-color="#ffdd78"/><stop offset="0.3661" stop-color="#ffcd5b"/><stop offset="0.4034" stop-color="#ffbd3d"/><stop offset="0.4305" stop-color="#ffad22"/><stop offset="0.4542" stop-color="#fd961a"/><stop offset="0.4712" stop-color="#fc7f12"/><stop offset="0.4746" stop-color="#fb7810"/><stop offset="0.4780" stop-color="#f97210"/><stop offset="0.4847" stop-color="#eb6320"/><stop offset="0.4915" stop-color="#d74e37"/><stop offset="0.4949" stop-color="#c94046"/><stop offset="0.4983" stop-color="#a3355b"/><stop offset="0.5017" stop-color="#722875"/><stop offset="0.5051" stop-color="#5c217e"/><stop offset="0.5085" stop-color="#862d6a"/><stop offset="0.5119" stop-color="#b23a52"/><stop offset="0.5153" stop-color="#ce4640"/><stop offset="0.5186" stop-color="#db5232"/><stop offset="0.5254" stop-color="#ed661e"/><stop offset="0.5322" stop-color="#fb730f"/><stop offset="0.5458" stop-color="#fc8a15"/><stop offset="0.5661" stop-color="#fea01d"/><stop offset="0.5831" stop-color="#ffae22"/><stop offset="0.6136" stop-color="#ffbe3e"/><stop offset="0.6542" stop-color="#ffcd5a"/><stop offset="0.7119" stop-color="#ffdc75"/><stop offset="0.7525" stop-color="#ffe287"/><stop offset="0.8305" stop-color="#ffeaa7"/><stop offset="0.9085" stop-color="#fff0bf"/><stop offset="0.9898" stop-color="#fff4d0"/><stop offset="1.0000" stop-color="#fff4d0"/></linearGradient><linearGradient id="g75" gradientUnits="userSpaceOnUse" x1="323" y1="0" x2="2093" y2="0"><stop offset="0.0000" stop-color="#fffdf5"/><stop offset="0.0203" stop-color="#fffcf4"/><stop offset="0.1390" stop-color="#fff4d0"/><stop offset="0.2102" stop-color="#ffedb4"/><stop offset="0.2780" stop-color="#ffe490"/><stop offset="0.3186" stop-color="#ffdd77"/><stop offset="0.3695" stop-color="#ffcc59"/><stop offset="0.4068" stop-color="#ffbc3c"/><stop offset="0.4305" stop-color="#ffae23"/><stop offset="0.4542" stop-color="#fe991b"/><stop offset="0.4712" stop-color="#fc8213"/><stop offset="0.4780" stop-color="#fb760f"/><stop offset="0.4814" stop-color="#f77013"/><stop offset="0.4881" stop-color="#e86123"/><stop offset="0.4949" stop-color="#d54c39"/><stop offset="0.4983" stop-color="#c74047"/><stop offset="0.5017" stop-color="#aa3757"/><stop offset="0.5051" stop-color="#933163"/><stop offset="0.5085" stop-color="#973261"/><stop offset="0.5153" stop-color="#cb4244"/><stop offset="0.5220" stop-color="#e1592b"/><stop offset="0.5288" stop-color="#f16a19"/><stop offset="0.5322" stop-color="#f87112"/><stop offset="0.5356" stop-color="#fb770f"/><stop offset="0.5492" stop-color="#fd8c16"/><stop offset="0.5695" stop-color="#fea11e"/><stop offset="0.5864" stop-color="#ffaf23"/><stop offset="0.6169" stop-color="#ffbe3f"/><stop offset="0.6576" stop-color="#ffcd5a"/><stop offset="0.7153" stop-color="#ffdc76"/><stop offset="0.7695" stop-color="#ffe48e"/><stop offset="0.8508" stop-color="#ffebad"/><stop offset="0.9254" stop-color="#fff0c2"/><stop offset="0.9898" stop-color="#fff4d0"/><stop offset="1.0000" stop-color="#fff4d0"/></linearGradient><linearGradient id="g76" gradientUnits="userSpaceOnUse" x1="323" y1="0" x2="2093" y2="0"><stop offset="0.0000" stop-color="#fffdf5"/><stop offset="0.0203" stop-color="#fffcf4"/><stop offset="0.1424" stop-color="#fff4cf"/><stop offset="0.2136" stop-color="#ffedb3"/><stop offset="0.2814" stop-color="#ffe48e"/><stop offset="0.3186" stop-color="#ffdd78"/><stop offset="0.3695" stop-color="#ffcd5b"/><stop offset="0.4068" stop-color="#ffbd3e"/><stop offset="0.4339" stop-color="#ffad22"/><stop offset="0.4576" stop-color="#fd971a"/><stop offset="0.4746" stop-color="#fc8112"/><stop offset="0.4814" stop-color="#fb750e"/><stop offset="0.4881" stop-color="#ef671c"/><stop offset="0.4983" stop-color="#d64d38"/><stop offset="0.5017" stop-color="#cc4343"/><stop offset="0.5051" stop-color="#bd3d4d"/><stop offset="0.5085" stop-color="#b63b50"/><stop offset="0.5119" stop-color="#be3d4c"/><stop offset="0.5153" stop-color="#cc4442"/><stop offset="0.5254" stop-color="#e86024"/><stop offset="0.5356" stop-color="#fb740e"/><stop offset="0.5492" stop-color="#fc8a15"/><stop offset="0.5695" stop-color="#fea01d"/><stop offset="0.5864" stop-color="#ffad22"/><stop offset="0.6203" stop-color="#ffbf40"/><stop offset="0.6610" stop-color="#ffcd5b"/><stop offset="0.7186" stop-color="#ffdc76"/><stop offset="0.7763" stop-color="#ffe490"/><stop offset="0.8576" stop-color="#ffecae"/><stop offset="0.9322" stop-color="#fff1c3"/><stop offset="0.9898" stop-color="#fff3cf"/><stop offset="1.0000" stop-color="#fff3cf"/></linearGradient><linearGradient id="g77" gradientUnits="userSpaceOnUse" x1="323" y1="0" x2="2093" y2="0"><stop offset="0.0000" stop-color="#fffdf5"/><stop offset="0.0203" stop-color="#fffcf4"/><stop offset="0.1424" stop-color="#fff4cf"/><stop offset="0.2136" stop-color="#ffedb3"/><stop offset="0.2814" stop-color="#ffe48f"/><stop offset="0.3220" stop-color="#ffdd77"/><stop offset="0.3729" stop-color="#ffcc5a"/><stop offset="0.4102" stop-color="#ffbc3c"/><stop offset="0.4339" stop-color="#ffaf24"/><stop offset="0.4576" stop-color="#fe9a1b"/><stop offset="0.4746" stop-color="#fc8514"/><stop offset="0.4847" stop-color="#fb740e"/><stop offset="0.4949" stop-color="#e76024"/><stop offset="0.5051" stop-color="#d2493c"/><stop offset="0.5085" stop-color="#ce4541"/><stop offset="0.5119" stop-color="#cd4541"/><stop offset="0.5153" stop-color="#d1493d"/><stop offset="0.5322" stop-color="#f46c16"/><stop offset="0.5356" stop-color="#f97210"/><stop offset="0.5424" stop-color="#fc7e11"/><stop offset="0.5593" stop-color="#fd9419"/><stop offset="0.5831" stop-color="#ffaa20"/><stop offset="0.5898" stop-color="#ffae23"/><stop offset="0.6203" stop-color="#ffbe3f"/><stop offset="0.6610" stop-color="#ffcc59"/><stop offset="0.7186" stop-color="#ffdc75"/><stop offset="0.7695" stop-color="#ffe38b"/><stop offset="0.8508" stop-color="#ffebab"/><stop offset="0.9254" stop-color="#fff0c1"/><stop offset="0.9898" stop-color="#fff3ce"/><stop offset="1.0000" stop-color="#fff3ce"/></linearGradient><linearGradient id="g78" gradientUnits="userSpaceOnUse" x1="323" y1="0" x2="2093" y2="0"><stop offset="0.0000" stop-color="#fffdf6"/><stop offset="0.0203" stop-color="#fffdf5"/><stop offset="0.1424" stop-color="#fff4d0"/><stop offset="0.2169" stop-color="#ffedb3"/><stop offset="0.2847" stop-color="#ffe48e"/><stop offset="0.3220" stop-color="#ffdd78"/><stop offset="0.3729" stop-color="#ffcd5b"/><stop offset="0.4102" stop-color="#ffbd3e"/><stop offset="0.4373" stop-color="#ffae22"/><stop offset="0.4610" stop-color="#fe991b"/><stop offset="0.4780" stop-color="#fc8413"/><stop offset="0.4881" stop-color="#fa730f"/><stop offset="0.5051" stop-color="#dd552f"/><stop offset="0.5085" stop-color="#d95134"/><stop offset="0.5119" stop-color="#d74f36"/><stop offset="0.5153" stop-color="#d85035"/><stop offset="0.5220" stop-color="#e1592b"/><stop offset="0.5356" stop-color="#f87111"/><stop offset="0.5390" stop-color="#fb770f"/><stop offset="0.5559" stop-color="#fd8f17"/><stop offset="0.5797" stop-color="#fea61f"/><stop offset="0.5898" stop-color="#ffad22"/><stop offset="0.6271" stop-color="#ffc042"/><stop offset="0.6712" stop-color="#ffcf5e"/><stop offset="0.7322" stop-color="#ffde79"/><stop offset="0.8237" stop-color="#ffe8a0"/><stop offset="0.9119" stop-color="#ffefbc"/><stop offset="0.9898" stop-color="#fff3cd"/><stop offset="1.0000" stop-color="#fff3cd"/></linearGradient><linearGradient id="g79" gradientUnits="userSpaceOnUse" x1="323" y1="0" x2="2093" y2="0"><stop offset="0.0000" stop-color="#fffdf6"/><stop offset="0.0203" stop-color="#fffdf5"/><stop offset="0.1424" stop-color="#fff4d0"/><stop offset="0.2169" stop-color="#ffedb3"/><stop offset="0.2881" stop-color="#ffe48d"/><stop offset="0.3254" stop-color="#ffdd77"/><stop offset="0.3763" stop-color="#ffcd5a"/><stop offset="0.4136" stop-color="#ffbd3d"/><stop offset="0.4407" stop-color="#ffad22"/><stop offset="0.4678" stop-color="#fd9419"/><stop offset="0.4847" stop-color="#fc7e12"/><stop offset="0.4915" stop-color="#fa730f"/><stop offset="0.5085" stop-color="#e25a2a"/><stop offset="0.5153" stop-color="#e0572d"/><stop offset="0.5220" stop-color="#e45d27"/><stop offset="0.5356" stop-color="#f87112"/><stop offset="0.5390" stop-color="#fb760f"/><stop offset="0.5559" stop-color="#fd8d17"/><stop offset="0.5797" stop-color="#fea41f"/><stop offset="0.5932" stop-color="#ffae23"/><stop offset="0.6237" stop-color="#ffbd3e"/><stop offset="0.6644" stop-color="#ffcc59"/><stop offset="0.7220" stop-color="#ffdb74"/><stop offset="0.7661" stop-color="#ffe287"/><stop offset="0.8441" stop-color="#ffeaa7"/><stop offset="0.9254" stop-color="#fff0bf"/><stop offset="0.9898" stop-color="#fff3cc"/><stop offset="1.0000" stop-color="#fff3cc"/></linearGradient><linearGradient id="g80" gradientUnits="userSpaceOnUse" x1="323" y1="0" x2="2093" y2="0"><stop offset="0.0000" stop-color="#fffdf6"/><stop offset="0.0203" stop-color="#fffdf5"/><stop offset="0.1424" stop-color="#fff4d1"/><stop offset="0.2169" stop-color="#ffedb4"/><stop offset="0.2881" stop-color="#ffe48e"/><stop offset="0.3254" stop-color="#ffdd78"/><stop offset="0.3763" stop-color="#ffcd5b"/><stop offset="0.4136" stop-color="#ffbe3f"/><stop offset="0.4441" stop-color="#ffac21"/><stop offset="0.4712" stop-color="#fd9419"/><stop offset="0.4915" stop-color="#fb7910"/><stop offset="0.4949" stop-color="#fb740e"/><stop offset="0.5085" stop-color="#ea6321"/><stop offset="0.5153" stop-color="#e75f25"/><stop offset="0.5220" stop-color="#e96122"/><stop offset="0.5356" stop-color="#f87111"/><stop offset="0.5390" stop-color="#fb760f"/><stop offset="0.5593" stop-color="#fd9018"/><stop offset="0.5864" stop-color="#ffa820"/><stop offset="0.5966" stop-color="#ffaf24"/><stop offset="0.6271" stop-color="#ffbe3f"/><stop offset="0.6712" stop-color="#ffce5b"/><stop offset="0.7322" stop-color="#ffdd77"/><stop offset="0.8102" stop-color="#ffe799"/><stop offset="0.9017" stop-color="#ffeeb8"/><stop offset="0.9898" stop-color="#fff3cc"/><stop offset="1.0000" stop-color="#fff3cc"/></linearGradient><linearGradient id="g81" gradientUnits="userSpaceOnUse" x1="323" y1="0" x2="2093" y2="0"><stop offset="0.0000" stop-color="#fffdf6"/><stop offset="0.0203" stop-color="#fffdf6"/><stop offset="0.1424" stop-color="#fff4d1"/><stop offset="0.2203" stop-color="#ffedb3"/><stop offset="0.2915" stop-color="#ffe48d"/><stop offset="0.3288" stop-color="#ffdd77"/><stop offset="0.3797" stop-color="#ffcd5a"/><stop offset="0.4169" stop-color="#ffbd3e"/><stop offset="0.4441" stop-color="#ffae22"/><stop offset="0.4712" stop-color="#fd971a"/><stop offset="0.4949" stop-color="#fb7a10"/><stop offset="0.4983" stop-color="#fb760f"/><stop offset="0.5119" stop-color="#ef671c"/><stop offset="0.5186" stop-color="#ed651e"/><stop offset="0.5288" stop-color="#f26b18"/><stop offset="0.5356" stop-color="#f97210"/><stop offset="0.5390" stop-color="#fb760f"/><stop offset="0.5627" stop-color="#fd9319"/><stop offset="0.5898" stop-color="#ffaa21"/><stop offset="0.5966" stop-color="#ffae23"/><stop offset="0.6271" stop-color="#ffbd3e"/><stop offset="0.6712" stop-color="#ffcd5a"/><stop offset="0.7288" stop-color="#ffdc75"/><stop offset="0.7831" stop-color="#ffe48c"/><stop offset="0.8644" stop-color="#ffebab"/><stop offset="0.9424" stop-color="#fff0c1"/><stop offset="0.9898" stop-color="#fff3cb"/><stop offset="1.0000" stop-color="#fff3cb"/></linearGradient><linearGradient id="g82" gradientUnits="userSpaceOnUse" x1="323" y1="0" x2="2093" y2="0"><stop offset="0.0000" stop-color="#fffdf7"/><stop offset="0.0203" stop-color="#fffdf6"/><stop offset="0.1458" stop-color="#fff4d0"/><stop offset="0.2203" stop-color="#ffedb4"/><stop offset="0.2915" stop-color="#ffe48e"/><stop offset="0.3288" stop-color="#ffdd78"/><stop offset="0.3831" stop-color="#ffcc59"/><stop offset="0.4203" stop-color="#ffbd3d"/><stop offset="0.4475" stop-color="#ffae22"/><stop offset="0.4746" stop-color="#fd961a"/><stop offset="0.5051" stop-color="#fb740e"/><stop offset="0.5153" stop-color="#f36c17"/><stop offset="0.5254" stop-color="#f36c17"/><stop offset="0.5356" stop-color="#fb730f"/><stop offset="0.5695" stop-color="#fe981b"/><stop offset="0.5966" stop-color="#ffae22"/><stop offset="0.6339" stop-color="#ffbf42"/><stop offset="0.6780" stop-color="#ffce5d"/><stop offset="0.7390" stop-color="#ffdd78"/><stop offset="0.8373" stop-color="#ffe9a1"/><stop offset="0.9254" stop-color="#ffefbc"/><stop offset="0.9898" stop-color="#fff2ca"/><stop offset="1.0000" stop-color="#fff2ca"/></linearGradient><linearGradient id="g83" gradientUnits="userSpaceOnUse" x1="323" y1="0" x2="2093" y2="0"><stop offset="0.0000" stop-color="#fffdf7"/><stop offset="0.0203" stop-color="#fffdf6"/><stop offset="0.1458" stop-color="#fff4d1"/><stop offset="0.2237" stop-color="#ffedb3"/><stop offset="0.2949" stop-color="#ffe48d"/><stop offset="0.3322" stop-color="#ffdd77"/><stop offset="0.3864" stop-color="#ffcc58"/><stop offset="0.4237" stop-color="#ffbc3c"/><stop offset="0.4508" stop-color="#ffad22"/><stop offset="0.4814" stop-color="#fd9319"/><stop offset="0.5119" stop-color="#fb740e"/><stop offset="0.5220" stop-color="#f77012"/><stop offset="0.5322" stop-color="#fa730f"/><stop offset="0.5492" stop-color="#fc8313"/><stop offset="0.5797" stop-color="#fea01d"/><stop offset="0.6000" stop-color="#ffaf23"/><stop offset="0.6339" stop-color="#ffbf40"/><stop offset="0.6780" stop-color="#ffce5c"/><stop offset="0.7390" stop-color="#ffdd77"/><stop offset="0.8136" stop-color="#ffe697"/><stop offset="0.9051" stop-color="#ffeeb6"/><stop offset="0.9898" stop-color="#fff2c9"/><stop offset="1.0000" stop-color="#fff2c9"/></linearGradient><linearGradient id="g84" gradientUnits="userSpaceOnUse" x1="323" y1="0" x2="2093" y2="0"><stop offset="0.0000" stop-color="#fffdf7"/><stop offset="0.0203" stop-color="#fffdf6"/><stop offset="0.1458" stop-color="#fff4d1"/><stop offset="0.2237" stop-color="#ffedb4"/><stop offset="0.2949" stop-color="#ffe48e"/><stop offset="0.3322" stop-color="#ffdd78"/><stop offset="0.3864" stop-color="#ffcd5a"/><stop offset="0.4271" stop-color="#ffbc3b"/><stop offset="0.4542" stop-color="#ffad22"/><stop offset="0.4881" stop-color="#fd9018"/><stop offset="0.5119" stop-color="#fb7910"/><stop offset="0.5220" stop-color="#fb750e"/><stop offset="0.5322" stop-color="#fb760f"/><stop offset="0.5525" stop-color="#fc8715"/><stop offset="0.5864" stop-color="#fea51f"/><stop offset="0.6000" stop-color="#ffae22"/><stop offset="0.6339" stop-color="#ffbe3f"/><stop offset="0.6780" stop-color="#ffcd5b"/><stop offset="0.7390" stop-color="#ffdc76"/><stop offset="0.8000" stop-color="#ffe590"/><stop offset="0.8881" stop-color="#ffecb0"/><stop offset="0.9695" stop-color="#fff1c5"/><stop offset="0.9932" stop-color="#fff2c9"/><stop offset="1.0000" stop-color="#fff2c9"/></linearGradient><linearGradient id="g85" gradientUnits="userSpaceOnUse" x1="323" y1="0" x2="2093" y2="0"><stop offset="0.0000" stop-color="#fffdf8"/><stop offset="0.0203" stop-color="#fffdf7"/><stop offset="0.1458" stop-color="#fff4d2"/><stop offset="0.2237" stop-color="#ffedb4"/><stop offset="0.2949" stop-color="#ffe48f"/><stop offset="0.3356" stop-color="#ffdd77"/><stop offset="0.3898" stop-color="#ffcc59"/><stop offset="0.4305" stop-color="#ffbb3a"/><stop offset="0.4542" stop-color="#ffae23"/><stop offset="0.4881" stop-color="#fd9319"/><stop offset="0.5153" stop-color="#fc7c11"/><stop offset="0.5254" stop-color="#fb7910"/><stop offset="0.5390" stop-color="#fc7d11"/><stop offset="0.5932" stop-color="#ffa920"/><stop offset="0.6034" stop-color="#ffaf24"/><stop offset="0.6373" stop-color="#ffbf40"/><stop offset="0.6847" stop-color="#ffcf5d"/><stop offset="0.7492" stop-color="#ffde79"/><stop offset="0.8441" stop-color="#ffe8a0"/><stop offset="0.9356" stop-color="#ffefbc"/><stop offset="0.9898" stop-color="#fff2c8"/><stop offset="1.0000" stop-color="#fff2c8"/></linearGradient><linearGradient id="g86" gradientUnits="userSpaceOnUse" x1="323" y1="0" x2="2093" y2="0"><stop offset="0.0000" stop-color="#fffdf8"/><stop offset="0.0203" stop-color="#fffdf7"/><stop offset="0.1458" stop-color="#fff4d2"/><stop offset="0.2271" stop-color="#ffedb3"/><stop offset="0.2983" stop-color="#ffe48e"/><stop offset="0.3356" stop-color="#ffdd78"/><stop offset="0.3898" stop-color="#ffcd5a"/><stop offset="0.4305" stop-color="#ffbc3c"/><stop offset="0.4576" stop-color="#ffae22"/><stop offset="0.5153" stop-color="#fc8113"/><stop offset="0.5288" stop-color="#fc7d11"/><stop offset="0.5424" stop-color="#fc8213"/><stop offset="0.6000" stop-color="#ffad22"/><stop offset="0.6136" stop-color="#ffb42c"/><stop offset="0.6508" stop-color="#ffc349"/><stop offset="0.7017" stop-color="#ffd365"/><stop offset="0.7729" stop-color="#ffe182"/><stop offset="0.8508" stop-color="#ffe9a2"/><stop offset="0.9390" stop-color="#ffefbc"/><stop offset="0.9898" stop-color="#fff2c7"/><stop offset="1.0000" stop-color="#fff2c7"/></linearGradient><linearGradient id="g87" gradientUnits="userSpaceOnUse" x1="323" y1="0" x2="2093" y2="0"><stop offset="0.0000" stop-color="#fffdf8"/><stop offset="0.0203" stop-color="#fffdf7"/><stop offset="0.1492" stop-color="#fff4d2"/><stop offset="0.2271" stop-color="#ffedb4"/><stop offset="0.2983" stop-color="#ffe48f"/><stop offset="0.3390" stop-color="#ffdd78"/><stop offset="0.3932" stop-color="#ffcc59"/><stop offset="0.4339" stop-color="#ffbc3b"/><stop offset="0.4610" stop-color="#ffae22"/><stop offset="0.5153" stop-color="#fc8614"/><stop offset="0.5288" stop-color="#fc8113"/><stop offset="0.5424" stop-color="#fc8414"/><stop offset="0.5797" stop-color="#fe9e1d"/><stop offset="0.6034" stop-color="#ffae22"/><stop offset="0.6407" stop-color="#ffbf41"/><stop offset="0.6881" stop-color="#ffce5d"/><stop offset="0.7525" stop-color="#ffde79"/><stop offset="0.8508" stop-color="#ffe9a1"/><stop offset="0.9424" stop-color="#ffefbc"/><stop offset="0.9898" stop-color="#fff1c6"/><stop offset="1.0000" stop-color="#fff1c6"/></linearGradient><linearGradient id="g88" gradientUnits="userSpaceOnUse" x1="323" y1="0" x2="2093" y2="0"><stop offset="0.0000" stop-color="#fffdf9"/><stop offset="0.0203" stop-color="#fffdf8"/><stop offset="0.1492" stop-color="#fff4d2"/><stop offset="0.2305" stop-color="#ffedb3"/><stop offset="0.3017" stop-color="#ffe48e"/><stop offset="0.3390" stop-color="#ffde79"/><stop offset="0.3966" stop-color="#ffcc59"/><stop offset="0.4373" stop-color="#ffbc3b"/><stop offset="0.4644" stop-color="#ffae22"/><stop offset="0.5186" stop-color="#fc8815"/><stop offset="0.5322" stop-color="#fc8514"/><stop offset="0.5492" stop-color="#fc8a15"/><stop offset="0.6034" stop-color="#ffae22"/><stop offset="0.6441" stop-color="#ffc042"/><stop offset="0.6915" stop-color="#ffcf5e"/><stop offset="0.7559" stop-color="#ffde79"/><stop offset="0.8542" stop-color="#ffe9a1"/><stop offset="0.9458" stop-color="#ffefbc"/><stop offset="0.9898" stop-color="#fff1c6"/><stop offset="1.0000" stop-color="#fff1c6"/></linearGradient><linearGradient id="g89" gradientUnits="userSpaceOnUse" x1="323" y1="0" x2="2093" y2="0"><stop offset="0.0000" stop-color="#fffef9"/><stop offset="0.0203" stop-color="#fffdf8"/><stop offset="0.1492" stop-color="#fff4d2"/><stop offset="0.2305" stop-color="#ffedb4"/><stop offset="0.3051" stop-color="#ffe48d"/><stop offset="0.3424" stop-color="#ffdd78"/><stop offset="0.4000" stop-color="#ffcc58"/><stop offset="0.4441" stop-color="#ffba37"/><stop offset="0.4678" stop-color="#ffae22"/><stop offset="0.5186" stop-color="#fd8c16"/><stop offset="0.5356" stop-color="#fc8815"/><stop offset="0.5525" stop-color="#fd8d17"/><stop offset="0.6068" stop-color="#ffaf24"/><stop offset="0.6475" stop-color="#ffc043"/><stop offset="0.6983" stop-color="#ffd060"/><stop offset="0.7661" stop-color="#ffdf7c"/><stop offset="0.8508" stop-color="#ffe89f"/><stop offset="0.9458" stop-color="#ffefbc"/><stop offset="0.9898" stop-color="#fff1c5"/><stop offset="1.0000" stop-color="#fff1c5"/></linearGradient><linearGradient id="g90" gradientUnits="userSpaceOnUse" x1="323" y1="0" x2="2093" y2="0"><stop offset="0.0000" stop-color="#fffef9"/><stop offset="0.0203" stop-color="#fffdf8"/><stop offset="0.1492" stop-color="#fff4d3"/><stop offset="0.2305" stop-color="#ffedb5"/><stop offset="0.3051" stop-color="#ffe48e"/><stop offset="0.3458" stop-color="#ffdd77"/><stop offset="0.4034" stop-color="#ffcb57"/><stop offset="0.4475" stop-color="#ffb937"/><stop offset="0.4712" stop-color="#ffad22"/><stop offset="0.5186" stop-color="#fd9018"/><stop offset="0.5356" stop-color="#fd8b16"/><stop offset="0.5525" stop-color="#fd8f17"/><stop offset="0.6068" stop-color="#ffaf23"/><stop offset="0.6475" stop-color="#ffc042"/><stop offset="0.6983" stop-color="#ffd05f"/><stop offset="0.7661" stop-color="#ffdf7b"/><stop offset="0.8542" stop-color="#ffe89f"/><stop offset="0.9492" stop-color="#ffefbc"/><stop offset="0.9898" stop-color="#fff1c4"/><stop offset="1.0000" stop-color="#fff1c4"/></linearGradient><linearGradient id="g91" gradientUnits="userSpaceOnUse" x1="323" y1="0" x2="2093" y2="0"><stop offset="0.0000" stop-color="#fffefa"/><stop offset="0.0203" stop-color="#fffdf9"/><stop offset="0.1492" stop-color="#fff5d3"/><stop offset="0.2339" stop-color="#ffedb4"/><stop offset="0.3085" stop-color="#ffe48e"/><stop offset="0.3458" stop-color="#ffdd78"/><stop offset="0.4034" stop-color="#ffcc59"/><stop offset="0.4475" stop-color="#ffbb39"/><stop offset="0.4746" stop-color="#ffad22"/><stop offset="0.5186" stop-color="#fd9319"/><stop offset="0.5356" stop-color="#fd8e17"/><stop offset="0.5525" stop-color="#fd9118"/><stop offset="0.5898" stop-color="#fea51f"/><stop offset="0.6068" stop-color="#ffae22"/><stop offset="0.6475" stop-color="#ffbf41"/><stop offset="0.6983" stop-color="#ffcf5e"/><stop offset="0.7661" stop-color="#ffde7a"/><stop offset="0.8610" stop-color="#ffe8a0"/><stop offset="0.9559" stop-color="#ffefbd"/><stop offset="0.9898" stop-color="#fff1c3"/><stop offset="1.0000" stop-color="#fff1c3"/></linearGradient><linearGradient id="g92" gradientUnits="userSpaceOnUse" x1="323" y1="0" x2="2093" y2="0"><stop offset="0.0000" stop-color="#fffefa"/><stop offset="0.0203" stop-color="#fffef9"/><stop offset="0.1525" stop-color="#fff4d3"/><stop offset="0.2339" stop-color="#ffedb5"/><stop offset="0.3085" stop-color="#ffe48f"/><stop offset="0.3492" stop-color="#ffdd78"/><stop offset="0.4068" stop-color="#ffcc58"/><stop offset="0.4542" stop-color="#ffb936"/><stop offset="0.4780" stop-color="#ffad22"/><stop offset="0.5220" stop-color="#fd9519"/><stop offset="0.5424" stop-color="#fd9118"/><stop offset="0.5627" stop-color="#fd961a"/><stop offset="0.6068" stop-color="#ffae22"/><stop offset="0.6508" stop-color="#ffc043"/><stop offset="0.7017" stop-color="#ffd05f"/><stop offset="0.7695" stop-color="#ffdf7b"/><stop offset="0.8610" stop-color="#ffe89f"/><stop offset="0.9559" stop-color="#ffefbc"/><stop offset="0.9898" stop-color="#fff1c3"/><stop offset="1.0000" stop-color="#fff1c3"/></linearGradient><linearGradient id="g93" gradientUnits="userSpaceOnUse" x1="323" y1="0" x2="2093" y2="0"><stop offset="0.0000" stop-color="#fffefa"/><stop offset="0.0203" stop-color="#fffef9"/><stop offset="0.1525" stop-color="#fff5d3"/><stop offset="0.2373" stop-color="#ffedb4"/><stop offset="0.3119" stop-color="#ffe48e"/><stop offset="0.3492" stop-color="#ffde79"/><stop offset="0.4102" stop-color="#ffcb58"/><stop offset="0.4576" stop-color="#ffb936"/><stop offset="0.4814" stop-color="#ffae22"/><stop offset="0.5220" stop-color="#fd981a"/><stop offset="0.5424" stop-color="#fd9319"/><stop offset="0.5627" stop-color="#fd981a"/><stop offset="0.6068" stop-color="#ffae22"/><stop offset="0.6542" stop-color="#ffc144"/><stop offset="0.7085" stop-color="#ffd162"/><stop offset="0.7864" stop-color="#ffe181"/><stop offset="0.8678" stop-color="#ffe9a1"/><stop offset="0.9627" stop-color="#ffefbd"/><stop offset="0.9932" stop-color="#fff0c2"/><stop offset="1.0000" stop-color="#fff0c2"/></linearGradient><linearGradient id="g94" gradientUnits="userSpaceOnUse" x1="323" y1="0" x2="2093" y2="0"><stop offset="0.0000" stop-color="#fffefa"/><stop offset="0.0203" stop-color="#fffefa"/><stop offset="0.1525" stop-color="#fff5d4"/><stop offset="0.2373" stop-color="#ffedb5"/><stop offset="0.3119" stop-color="#ffe48f"/><stop offset="0.3525" stop-color="#ffdd78"/><stop offset="0.4136" stop-color="#ffcb57"/><stop offset="0.4610" stop-color="#ffb935"/><stop offset="0.4847" stop-color="#ffae22"/><stop offset="0.5254" stop-color="#fe991b"/><stop offset="0.5458" stop-color="#fd961a"/><stop offset="0.5695" stop-color="#fe9b1c"/><stop offset="0.6068" stop-color="#ffae22"/><stop offset="0.6610" stop-color="#ffc348"/><stop offset="0.7186" stop-color="#ffd365"/><stop offset="0.7932" stop-color="#ffe183"/><stop offset="0.8746" stop-color="#ffe9a2"/><stop offset="0.9695" stop-color="#ffefbd"/><stop offset="0.9932" stop-color="#fff0c1"/><stop offset="1.0000" stop-color="#fff0c1"/></linearGradient><linearGradient id="g95" gradientUnits="userSpaceOnUse" x1="323" y1="0" x2="2093" y2="0"><stop offset="0.0000" stop-color="#fffefb"/><stop offset="0.0203" stop-color="#fffefa"/><stop offset="0.1525" stop-color="#fff5d4"/><stop offset="0.2373" stop-color="#ffedb5"/><stop offset="0.3119" stop-color="#ffe490"/><stop offset="0.3525" stop-color="#ffde79"/><stop offset="0.4136" stop-color="#ffcc59"/><stop offset="0.4644" stop-color="#ffb935"/><stop offset="0.4881" stop-color="#ffae22"/><stop offset="0.5288" stop-color="#fe9b1b"/><stop offset="0.5492" stop-color="#fd981a"/><stop offset="0.5729" stop-color="#fe9e1c"/><stop offset="0.6068" stop-color="#ffae22"/><stop offset="0.6644" stop-color="#ffc349"/><stop offset="0.7220" stop-color="#ffd366"/><stop offset="0.7966" stop-color="#ffe183"/><stop offset="0.8780" stop-color="#ffe9a2"/><stop offset="0.9729" stop-color="#ffefbd"/><stop offset="0.9932" stop-color="#fff0c0"/><stop offset="1.0000" stop-color="#fff0c0"/></linearGradient><linearGradient id="g96" gradientUnits="userSpaceOnUse" x1="323" y1="0" x2="2093" y2="0"><stop offset="0.0000" stop-color="#fffefb"/><stop offset="0.0203" stop-color="#fffefa"/><stop offset="0.1525" stop-color="#fff5d5"/><stop offset="0.2407" stop-color="#ffedb4"/><stop offset="0.3186" stop-color="#ffe48d"/><stop offset="0.3559" stop-color="#ffdd78"/><stop offset="0.4169" stop-color="#ffcc58"/><stop offset="0.4712" stop-color="#ffb732"/><stop offset="0.4915" stop-color="#ffae22"/><stop offset="0.5288" stop-color="#fe9d1c"/><stop offset="0.5525" stop-color="#fe9a1b"/><stop offset="0.5797" stop-color="#fea11e"/><stop offset="0.6068" stop-color="#ffae22"/><stop offset="0.6678" stop-color="#ffc44a"/><stop offset="0.7288" stop-color="#ffd568"/><stop offset="0.8000" stop-color="#ffe284"/><stop offset="0.8847" stop-color="#ffe9a4"/><stop offset="0.9797" stop-color="#fff0be"/><stop offset="1.0000" stop-color="#fff0c0"/></linearGradient><linearGradient id="g97" gradientUnits="userSpaceOnUse" x1="323" y1="0" x2="2093" y2="0"><stop offset="0.0000" stop-color="#fffefb"/><stop offset="0.0203" stop-color="#fffefb"/><stop offset="0.1559" stop-color="#fff5d4"/><stop offset="0.2407" stop-color="#ffedb5"/><stop offset="0.3186" stop-color="#ffe48e"/><stop offset="0.3593" stop-color="#ffdd78"/><stop offset="0.4203" stop-color="#ffcb57"/><stop offset="0.4746" stop-color="#ffb732"/><stop offset="0.4949" stop-color="#ffae23"/><stop offset="0.5322" stop-color="#fe9f1d"/><stop offset="0.5559" stop-color="#fe9d1c"/><stop offset="0.5831" stop-color="#fea31e"/><stop offset="0.6068" stop-color="#ffae22"/><stop offset="0.6712" stop-color="#ffc54b"/><stop offset="0.7322" stop-color="#ffd569"/><stop offset="0.8034" stop-color="#ffe284"/><stop offset="0.8881" stop-color="#ffe9a4"/><stop offset="0.9831" stop-color="#fff0be"/><stop offset="1.0000" stop-color="#fff0bf"/></linearGradient><linearGradient id="g98" gradientUnits="userSpaceOnUse" x1="323" y1="0" x2="2093" y2="0"><stop offset="0.0000" stop-color="#fffefc"/><stop offset="0.0203" stop-color="#fffefb"/><stop offset="0.1559" stop-color="#fff5d4"/><stop offset="0.2441" stop-color="#ffedb4"/><stop offset="0.3220" stop-color="#ffe48d"/><stop offset="0.3593" stop-color="#ffde79"/><stop offset="0.4237" stop-color="#ffcb57"/><stop offset="0.4814" stop-color="#ffb630"/><stop offset="0.5017" stop-color="#ffad22"/><stop offset="0.5356" stop-color="#fea01d"/><stop offset="0.5593" stop-color="#fe9f1d"/><stop offset="0.5898" stop-color="#ffa720"/><stop offset="0.6068" stop-color="#ffae22"/><stop offset="0.6712" stop-color="#ffc44b"/><stop offset="0.7322" stop-color="#ffd568"/><stop offset="0.8034" stop-color="#ffe183"/><stop offset="0.8881" stop-color="#ffe9a3"/><stop offset="0.9831" stop-color="#ffefbd"/><stop offset="1.0000" stop-color="#fff0be"/></linearGradient><linearGradient id="g99" gradientUnits="userSpaceOnUse" x1="323" y1="0" x2="2093" y2="0"><stop offset="0.0000" stop-color="#fffefc"/><stop offset="0.0203" stop-color="#fffefb"/><stop offset="0.1559" stop-color="#fff5d5"/><stop offset="0.2441" stop-color="#ffedb5"/><stop offset="0.3220" stop-color="#ffe48e"/><stop offset="0.3627" stop-color="#ffdd78"/><stop offset="0.4271" stop-color="#ffcb56"/><stop offset="0.4915" stop-color="#ffb32b"/><stop offset="0.5051" stop-color="#ffae22"/><stop offset="0.5390" stop-color="#fea21e"/><stop offset="0.5627" stop-color="#fea11d"/><stop offset="0.5966" stop-color="#ffaa21"/><stop offset="0.6068" stop-color="#ffae22"/><stop offset="0.6746" stop-color="#ffc54c"/><stop offset="0.7390" stop-color="#ffd66a"/><stop offset="0.8068" stop-color="#ffe284"/><stop offset="0.8915" stop-color="#ffe9a3"/><stop offset="0.9864" stop-color="#ffefbd"/><stop offset="1.0000" stop-color="#ffefbd"/></linearGradient><linearGradient id="g100" gradientUnits="userSpaceOnUse" x1="323" y1="0" x2="2093" y2="0"><stop offset="0.0000" stop-color="#fffefc"/><stop offset="0.0203" stop-color="#fffefb"/><stop offset="0.1559" stop-color="#fff5d5"/><stop offset="0.2441" stop-color="#ffeeb6"/><stop offset="0.3220" stop-color="#ffe48f"/><stop offset="0.3627" stop-color="#ffde79"/><stop offset="0.4271" stop-color="#ffcc58"/><stop offset="0.4983" stop-color="#ffb229"/><stop offset="0.5085" stop-color="#ffae22"/><stop offset="0.5424" stop-color="#fea31e"/><stop offset="0.5695" stop-color="#fea31e"/><stop offset="0.6068" stop-color="#ffae22"/><stop offset="0.6814" stop-color="#ffc74f"/><stop offset="0.7492" stop-color="#ffd76d"/><stop offset="0.8136" stop-color="#ffe286"/><stop offset="0.9017" stop-color="#ffeaa6"/><stop offset="0.9864" stop-color="#ffefbd"/><stop offset="1.0000" stop-color="#ffefbd"/></linearGradient><linearGradient id="g101" gradientUnits="userSpaceOnUse" x1="323" y1="0" x2="2093" y2="0"><stop offset="0.0000" stop-color="#fffefd"/><stop offset="0.0203" stop-color="#fffefc"/><stop offset="0.1559" stop-color="#fff5d6"/><stop offset="0.2475" stop-color="#ffedb5"/><stop offset="0.3254" stop-color="#ffe48e"/><stop offset="0.3661" stop-color="#ffdd78"/><stop offset="0.4339" stop-color="#ffca55"/><stop offset="0.5153" stop-color="#ffad22"/><stop offset="0.5492" stop-color="#fea41f"/><stop offset="0.5763" stop-color="#fea51f"/><stop offset="0.6068" stop-color="#ffaf23"/><stop offset="0.6847" stop-color="#ffc750"/><stop offset="0.7525" stop-color="#ffd86e"/><stop offset="0.8169" stop-color="#ffe286"/><stop offset="0.9051" stop-color="#ffeaa6"/><stop offset="0.9864" stop-color="#ffefbc"/><stop offset="1.0000" stop-color="#ffefbc"/></linearGradient><linearGradient id="g102" gradientUnits="userSpaceOnUse" x1="323" y1="0" x2="2093" y2="0"><stop offset="0.0000" stop-color="#fffefd"/><stop offset="0.0203" stop-color="#fffefc"/><stop offset="0.1593" stop-color="#fff5d5"/><stop offset="0.2508" stop-color="#ffedb4"/><stop offset="0.3288" stop-color="#ffe48e"/><stop offset="0.3695" stop-color="#ffdd78"/><stop offset="0.4373" stop-color="#ffca55"/><stop offset="0.5186" stop-color="#ffae22"/><stop offset="0.5525" stop-color="#fea51f"/><stop offset="0.5797" stop-color="#ffa720"/><stop offset="0.6068" stop-color="#ffaf23"/><stop offset="0.6915" stop-color="#ffc953"/><stop offset="0.7627" stop-color="#ffda71"/><stop offset="0.8169" stop-color="#ffe285"/><stop offset="0.9051" stop-color="#ffeaa5"/><stop offset="0.9864" stop-color="#ffefbb"/><stop offset="1.0000" stop-color="#ffefbb"/></linearGradient><linearGradient id="g103" gradientUnits="userSpaceOnUse" x1="323" y1="0" x2="2093" y2="0"><stop offset="0.0000" stop-color="#fffffd"/><stop offset="0.0203" stop-color="#fffefc"/><stop offset="0.1593" stop-color="#fff5d5"/><stop offset="0.2508" stop-color="#ffedb5"/><stop offset="0.3322" stop-color="#ffe48d"/><stop offset="0.3695" stop-color="#ffde79"/><stop offset="0.4373" stop-color="#ffcb56"/><stop offset="0.5220" stop-color="#ffae22"/><stop offset="0.5559" stop-color="#ffa720"/><stop offset="0.5864" stop-color="#ffaa20"/><stop offset="0.6068" stop-color="#ffaf24"/><stop offset="0.6983" stop-color="#ffca56"/><stop offset="0.7695" stop-color="#ffda73"/><stop offset="0.8203" stop-color="#ffe286"/><stop offset="0.9085" stop-color="#ffeaa5"/><stop offset="0.9864" stop-color="#ffefbb"/><stop offset="1.0000" stop-color="#ffefbb"/></linearGradient><linearGradient id="g104" gradientUnits="userSpaceOnUse" x1="323" y1="0" x2="2093" y2="0"><stop offset="0.0000" stop-color="#fffffd"/><stop offset="0.0237" stop-color="#fffefc"/><stop offset="0.1627" stop-color="#fff5d5"/><stop offset="0.2542" stop-color="#ffedb4"/><stop offset="0.3356" stop-color="#ffe48c"/><stop offset="0.3729" stop-color="#ffdd78"/><stop offset="0.4441" stop-color="#ffc954"/><stop offset="0.5254" stop-color="#ffaf23"/><stop offset="0.5593" stop-color="#ffa820"/><stop offset="0.5898" stop-color="#ffab21"/><stop offset="0.6034" stop-color="#ffaf23"/><stop offset="0.7051" stop-color="#ffcc58"/><stop offset="0.7797" stop-color="#ffdc76"/><stop offset="0.8475" stop-color="#ffe490"/><stop offset="0.9458" stop-color="#ffecaf"/><stop offset="0.9898" stop-color="#ffefba"/><stop offset="1.0000" stop-color="#ffefba"/></linearGradient><linearGradient id="g105" gradientUnits="userSpaceOnUse" x1="323" y1="0" x2="2093" y2="0"><stop offset="0.0000" stop-color="#fffffe"/><stop offset="0.0237" stop-color="#fffefc"/><stop offset="0.1627" stop-color="#fff5d5"/><stop offset="0.2542" stop-color="#ffedb5"/><stop offset="0.3356" stop-color="#ffe48d"/><stop offset="0.3729" stop-color="#ffde79"/><stop offset="0.4441" stop-color="#ffca55"/><stop offset="0.5288" stop-color="#ffaf24"/><stop offset="0.5458" stop-color="#ffab21"/><stop offset="0.5763" stop-color="#ffaa21"/><stop offset="0.6000" stop-color="#ffae23"/><stop offset="0.7153" stop-color="#ffce5c"/><stop offset="0.7932" stop-color="#ffde7a"/><stop offset="0.8983" stop-color="#ffe8a0"/><stop offset="0.9864" stop-color="#ffeeb9"/><stop offset="1.0000" stop-color="#ffeeb9"/></linearGradient><linearGradient id="g106" gradientUnits="userSpaceOnUse" x1="323" y1="0" x2="2093" y2="0"><stop offset="0.0000" stop-color="#fffffe"/><stop offset="0.0237" stop-color="#fffefc"/><stop offset="0.1627" stop-color="#fff5d6"/><stop offset="0.2542" stop-color="#ffedb5"/><stop offset="0.3356" stop-color="#ffe48e"/><stop offset="0.3763" stop-color="#ffdd78"/><stop offset="0.4508" stop-color="#ffc953"/><stop offset="0.5288" stop-color="#ffb127"/><stop offset="0.5458" stop-color="#ffad22"/><stop offset="0.5763" stop-color="#ffab21"/><stop offset="0.6000" stop-color="#ffaf23"/><stop offset="0.7220" stop-color="#ffcf5f"/><stop offset="0.8034" stop-color="#ffe07c"/><stop offset="0.8949" stop-color="#ffe89e"/><stop offset="0.9864" stop-color="#ffeeb8"/><stop offset="1.0000" stop-color="#ffeeb8"/></linearGradient><linearGradient id="g107" gradientUnits="userSpaceOnUse" x1="323" y1="0" x2="2093" y2="0"><stop offset="0.0000" stop-color="#fffffe"/><stop offset="0.0237" stop-color="#fffefc"/><stop offset="0.1627" stop-color="#fff5d6"/><stop offset="0.2576" stop-color="#ffedb4"/><stop offset="0.3390" stop-color="#ffe48d"/><stop offset="0.3763" stop-color="#ffde79"/><stop offset="0.4508" stop-color="#ffca54"/><stop offset="0.5322" stop-color="#ffb128"/><stop offset="0.5525" stop-color="#ffad22"/><stop offset="0.5831" stop-color="#ffad22"/><stop offset="0.6000" stop-color="#ffaf24"/><stop offset="0.6576" stop-color="#ffbe40"/><stop offset="0.7356" stop-color="#ffd264"/><stop offset="0.8203" stop-color="#ffe182"/><stop offset="0.9085" stop-color="#ffe9a2"/><stop offset="0.9898" stop-color="#ffeeb8"/><stop offset="1.0000" stop-color="#ffeeb8"/></linearGradient><linearGradient id="g108" gradientUnits="userSpaceOnUse" x1="323" y1="0" x2="2093" y2="0"><stop offset="0.0000" stop-color="#fffffe"/><stop offset="0.0237" stop-color="#fffefd"/><stop offset="0.1661" stop-color="#fff5d5"/><stop offset="0.2576" stop-color="#ffedb5"/><stop offset="0.3390" stop-color="#ffe48e"/><stop offset="0.3797" stop-color="#ffdd78"/><stop offset="0.4576" stop-color="#ffc852"/><stop offset="0.5322" stop-color="#ffb22a"/><stop offset="0.5593" stop-color="#ffae22"/><stop offset="0.5932" stop-color="#ffaf24"/><stop offset="0.6339" stop-color="#ffb834"/><stop offset="0.7254" stop-color="#ffd05f"/><stop offset="0.8203" stop-color="#ffe181"/><stop offset="0.9085" stop-color="#ffe9a1"/><stop offset="0.9898" stop-color="#ffeeb7"/><stop offset="1.0000" stop-color="#ffeeb7"/></linearGradient><linearGradient id="g109" gradientUnits="userSpaceOnUse" x1="323" y1="0" x2="2093" y2="0"><stop offset="0.0000" stop-color="#ffffff"/><stop offset="0.0237" stop-color="#fffffd"/><stop offset="0.1661" stop-color="#fff5d6"/><stop offset="0.2610" stop-color="#ffedb4"/><stop offset="0.3424" stop-color="#ffe48d"/><stop offset="0.3831" stop-color="#ffdd78"/><stop offset="0.4610" stop-color="#ffc852"/><stop offset="0.5322" stop-color="#ffb42c"/><stop offset="0.5627" stop-color="#ffaf23"/><stop offset="0.5898" stop-color="#ffaf24"/><stop offset="0.6237" stop-color="#ffb52f"/><stop offset="0.7322" stop-color="#ffd161"/><stop offset="0.8237" stop-color="#ffe182"/><stop offset="0.9153" stop-color="#ffe9a2"/><stop offset="0.9898" stop-color="#ffeeb6"/><stop offset="1.0000" stop-color="#ffeeb6"/></linearGradient><linearGradient id="g110" gradientUnits="userSpaceOnUse" x1="323" y1="0" x2="2093" y2="0"><stop offset="0.0000" stop-color="#ffffff"/><stop offset="0.0237" stop-color="#fffffd"/><stop offset="0.1661" stop-color="#fff5d6"/><stop offset="0.2610" stop-color="#ffedb5"/><stop offset="0.3458" stop-color="#ffe48c"/><stop offset="0.3831" stop-color="#ffde79"/><stop offset="0.4644" stop-color="#ffc851"/><stop offset="0.5356" stop-color="#ffb42d"/><stop offset="0.5661" stop-color="#ffaf25"/><stop offset="0.5932" stop-color="#ffb026"/><stop offset="0.6305" stop-color="#ffb733"/><stop offset="0.7356" stop-color="#ffd162"/><stop offset="0.8271" stop-color="#ffe183"/><stop offset="0.9186" stop-color="#ffe9a3"/><stop offset="0.9898" stop-color="#ffedb5"/><stop offset="1.0000" stop-color="#ffedb5"/></linearGradient><linearGradient id="g111" gradientUnits="userSpaceOnUse" x1="323" y1="0" x2="2093" y2="0"><stop offset="0.0000" stop-color="#ffffff"/><stop offset="0.0237" stop-color="#fffffd"/><stop offset="0.1661" stop-color="#fff5d6"/><stop offset="0.2610" stop-color="#ffedb5"/><stop offset="0.3458" stop-color="#ffe48d"/><stop offset="0.3864" stop-color="#ffdd78"/><stop offset="0.4712" stop-color="#ffc74f"/><stop offset="0.5356" stop-color="#ffb52f"/><stop offset="0.5661" stop-color="#ffb026"/><stop offset="0.5932" stop-color="#ffb127"/><stop offset="0.6305" stop-color="#ffb733"/><stop offset="0.7424" stop-color="#ffd264"/><stop offset="0.8305" stop-color="#ffe183"/><stop offset="0.9220" stop-color="#ffe9a3"/><stop offset="0.9898" stop-color="#ffedb5"/><stop offset="1.0000" stop-color="#ffedb5"/></linearGradient><linearGradient id="g112" gradientUnits="userSpaceOnUse" x1="323" y1="0" x2="2093" y2="0"><stop offset="0.0000" stop-color="#ffffff"/><stop offset="0.0237" stop-color="#fffffe"/><stop offset="0.1661" stop-color="#fff5d7"/><stop offset="0.2644" stop-color="#ffedb5"/><stop offset="0.3492" stop-color="#ffe48c"/><stop offset="0.3864" stop-color="#ffde79"/><stop offset="0.4712" stop-color="#ffc851"/><stop offset="0.5356" stop-color="#ffb631"/><stop offset="0.5661" stop-color="#ffb128"/><stop offset="0.5932" stop-color="#ffb228"/><stop offset="0.6305" stop-color="#ffb833"/><stop offset="0.7458" stop-color="#ffd365"/><stop offset="0.8339" stop-color="#ffe284"/><stop offset="0.9288" stop-color="#ffe9a4"/><stop offset="0.9898" stop-color="#ffedb4"/><stop offset="1.0000" stop-color="#ffedb4"/></linearGradient><linearGradient id="g113" gradientUnits="userSpaceOnUse" x1="323" y1="0" x2="2093" y2="0"><stop offset="0.0000" stop-color="#ffffff"/><stop offset="0.0237" stop-color="#fffffe"/><stop offset="0.1695" stop-color="#fff5d6"/><stop offset="0.2644" stop-color="#ffedb5"/><stop offset="0.3492" stop-color="#ffe48d"/><stop offset="0.3898" stop-color="#ffdd78"/><stop offset="0.4780" stop-color="#ffc64e"/><stop offset="0.5390" stop-color="#ffb631"/><stop offset="0.5695" stop-color="#ffb229"/><stop offset="0.6000" stop-color="#ffb32b"/><stop offset="0.6407" stop-color="#ffba38"/><stop offset="0.7525" stop-color="#ffd467"/><stop offset="0.8373" stop-color="#ffe284"/><stop offset="0.9322" stop-color="#ffe9a4"/><stop offset="0.9898" stop-color="#ffedb3"/><stop offset="1.0000" stop-color="#ffedb3"/></linearGradient><linearGradient id="g114" gradientUnits="userSpaceOnUse" x1="323" y1="0" x2="2093" y2="0"><stop offset="0.0000" stop-color="#ffffff"/><stop offset="0.0271" stop-color="#fffffd"/><stop offset="0.1695" stop-color="#fff5d6"/><stop offset="0.2644" stop-color="#ffeeb6"/><stop offset="0.3525" stop-color="#ffe48c"/><stop offset="0.3898" stop-color="#ffde79"/><stop offset="0.4814" stop-color="#ffc64e"/><stop offset="0.5424" stop-color="#ffb732"/><stop offset="0.5729" stop-color="#ffb32b"/><stop offset="0.6034" stop-color="#ffb42c"/><stop offset="0.6441" stop-color="#ffbb3a"/><stop offset="0.7559" stop-color="#ffd468"/><stop offset="0.8373" stop-color="#ffe283"/><stop offset="0.9322" stop-color="#ffe9a4"/><stop offset="0.9898" stop-color="#ffedb2"/><stop offset="1.0000" stop-color="#ffedb2"/></linearGradient><linearGradient id="g115" gradientUnits="userSpaceOnUse" x1="323" y1="0" x2="2093" y2="0"><stop offset="0.0000" stop-color="#ffffff"/><stop offset="0.0237" stop-color="#fffffe"/><stop offset="0.1695" stop-color="#fff5d7"/><stop offset="0.2678" stop-color="#ffedb5"/><stop offset="0.3559" stop-color="#ffe38b"/><stop offset="0.3932" stop-color="#ffdd78"/><stop offset="0.4915" stop-color="#ffc44a"/><stop offset="0.5458" stop-color="#ffb732"/><stop offset="0.5763" stop-color="#ffb32c"/><stop offset="0.6068" stop-color="#ffb52e"/><stop offset="0.6508" stop-color="#ffbd3d"/><stop offset="0.7593" stop-color="#ffd569"/><stop offset="0.8407" stop-color="#ffe284"/><stop offset="0.9356" stop-color="#ffe9a4"/><stop offset="0.9898" stop-color="#ffedb2"/><stop offset="1.0000" stop-color="#ffedb2"/></linearGradient><linearGradient id="g116" gradientUnits="userSpaceOnUse" x1="323" y1="0" x2="2093" y2="0"><stop offset="0.0000" stop-color="#ffffff"/><stop offset="0.0271" stop-color="#fffffe"/><stop offset="0.1729" stop-color="#fff5d6"/><stop offset="0.2678" stop-color="#ffedb5"/><stop offset="0.3559" stop-color="#ffe48c"/><stop offset="0.3932" stop-color="#ffde79"/><stop offset="0.4949" stop-color="#ffc44a"/><stop offset="0.5458" stop-color="#ffb834"/><stop offset="0.5797" stop-color="#ffb42d"/><stop offset="0.6102" stop-color="#ffb530"/><stop offset="0.6576" stop-color="#ffbe3f"/><stop offset="0.7661" stop-color="#ffd66b"/><stop offset="0.8441" stop-color="#ffe285"/><stop offset="0.9424" stop-color="#ffeaa5"/><stop offset="0.9898" stop-color="#ffecb1"/><stop offset="1.0000" stop-color="#ffecb1"/></linearGradient><linearGradient id="g117" gradientUnits="userSpaceOnUse" x1="323" y1="0" x2="2093" y2="0"><stop offset="0.0000" stop-color="#ffffff"/><stop offset="0.0271" stop-color="#fffffe"/><stop offset="0.1729" stop-color="#fff5d6"/><stop offset="0.2712" stop-color="#ffedb4"/><stop offset="0.3593" stop-color="#ffe38b"/><stop offset="0.3966" stop-color="#ffdd78"/><stop offset="0.5424" stop-color="#ffb937"/><stop offset="0.5763" stop-color="#ffb52f"/><stop offset="0.6068" stop-color="#ffb630"/><stop offset="0.6475" stop-color="#ffbc3b"/><stop offset="0.7695" stop-color="#ffd66b"/><stop offset="0.8475" stop-color="#ffe285"/><stop offset="0.9458" stop-color="#ffeaa5"/><stop offset="0.9898" stop-color="#ffecb0"/><stop offset="1.0000" stop-color="#ffecb0"/></linearGradient><linearGradient id="g118" gradientUnits="userSpaceOnUse" x1="323" y1="0" x2="2093" y2="0"><stop offset="0.0000" stop-color="#ffffff"/><stop offset="0.0271" stop-color="#fffffe"/><stop offset="0.1729" stop-color="#fff5d7"/><stop offset="0.2712" stop-color="#ffedb5"/><stop offset="0.3593" stop-color="#ffe38c"/><stop offset="0.3966" stop-color="#ffde79"/><stop offset="0.5424" stop-color="#ffba38"/><stop offset="0.5763" stop-color="#ffb630"/><stop offset="0.6068" stop-color="#ffb631"/><stop offset="0.6475" stop-color="#ffbc3c"/><stop offset="0.7763" stop-color="#ffd76d"/><stop offset="0.8475" stop-color="#ffe284"/><stop offset="0.9458" stop-color="#ffe9a5"/><stop offset="0.9898" stop-color="#ffecaf"/><stop offset="1.0000" stop-color="#ffecaf"/></linearGradient><linearGradient id="g119" gradientUnits="userSpaceOnUse" x1="323" y1="0" x2="2093" y2="0"><stop offset="0.0000" stop-color="#ffffff"/><stop offset="0.0271" stop-color="#fffffe"/><stop offset="0.1729" stop-color="#fff5d7"/><stop offset="0.2712" stop-color="#ffedb5"/><stop offset="0.3593" stop-color="#ffe48c"/><stop offset="0.4000" stop-color="#ffdd78"/><stop offset="0.5424" stop-color="#ffbb39"/><stop offset="0.5763" stop-color="#ffb631"/><stop offset="0.6102" stop-color="#ffb732"/><stop offset="0.6542" stop-color="#ffbe3e"/><stop offset="0.7797" stop-color="#ffd86e"/><stop offset="0.8508" stop-color="#ffe285"/><stop offset="0.9492" stop-color="#ffe9a5"/><stop offset="0.9898" stop-color="#ffecaf"/><stop offset="1.0000" stop-color="#ffecaf"/></linearGradient><linearGradient id="g120" gradientUnits="userSpaceOnUse" x1="323" y1="0" x2="2093" y2="0"><stop offset="0.0000" stop-color="#ffffff"/><stop offset="0.0271" stop-color="#fffffe"/><stop offset="0.1763" stop-color="#fff5d6"/><stop offset="0.2746" stop-color="#ffedb4"/><stop offset="0.3627" stop-color="#ffe38b"/><stop offset="0.4000" stop-color="#ffde79"/><stop offset="0.5424" stop-color="#ffbc3b"/><stop offset="0.5797" stop-color="#ffb732"/><stop offset="0.6136" stop-color="#ffb733"/><stop offset="0.6576" stop-color="#ffbe40"/><stop offset="0.7831" stop-color="#ffd86e"/><stop offset="0.8542" stop-color="#ffe286"/><stop offset="0.9559" stop-color="#ffeaa6"/><stop offset="0.9898" stop-color="#ffecae"/><stop offset="1.0000" stop-color="#ffecae"/></linearGradient><linearGradient id="g121" gradientUnits="userSpaceOnUse" x1="323" y1="0" x2="2093" y2="0"><stop offset="0.0000" stop-color="#ffffff"/><stop offset="0.0305" stop-color="#fffffe"/><stop offset="0.1763" stop-color="#fff5d6"/><stop offset="0.2746" stop-color="#ffedb5"/><stop offset="0.3661" stop-color="#ffe38a"/><stop offset="0.4034" stop-color="#ffdd78"/><stop offset="0.5424" stop-color="#ffbc3c"/><stop offset="0.5797" stop-color="#ffb733"/><stop offset="0.6136" stop-color="#ffb834"/><stop offset="0.6576" stop-color="#ffbe40"/><stop offset="0.7864" stop-color="#ffd86f"/><stop offset="0.8542" stop-color="#ffe285"/><stop offset="0.9559" stop-color="#ffeaa5"/><stop offset="0.9898" stop-color="#ffecad"/><stop offset="1.0000" stop-color="#ffecad"/></linearGradient><linearGradient id="g122" gradientUnits="userSpaceOnUse" x1="323" y1="0" x2="2093" y2="0"><stop offset="0.0000" stop-color="#ffffff"/><stop offset="0.0305" stop-color="#fffffe"/><stop offset="0.1797" stop-color="#fff5d6"/><stop offset="0.2780" stop-color="#ffedb4"/><stop offset="0.3695" stop-color="#ffe389"/><stop offset="0.4068" stop-color="#ffdd77"/><stop offset="0.5458" stop-color="#ffbc3c"/><stop offset="0.5831" stop-color="#ffb834"/><stop offset="0.6169" stop-color="#ffb935"/><stop offset="0.6644" stop-color="#ffc042"/><stop offset="0.7898" stop-color="#ffd970"/><stop offset="0.8576" stop-color="#ffe285"/><stop offset="0.9593" stop-color="#ffeaa6"/><stop offset="0.9898" stop-color="#ffebad"/><stop offset="1.0000" stop-color="#ffebad"/></linearGradient><linearGradient id="g123" gradientUnits="userSpaceOnUse" x1="323" y1="0" x2="2093" y2="0"><stop offset="0.0000" stop-color="#ffffff"/><stop offset="0.0305" stop-color="#fffffe"/><stop offset="0.1797" stop-color="#fff5d6"/><stop offset="0.2780" stop-color="#ffedb4"/><stop offset="0.3695" stop-color="#ffe38a"/><stop offset="0.4068" stop-color="#ffdd78"/><stop offset="0.5458" stop-color="#ffbd3d"/><stop offset="0.5831" stop-color="#ffb835"/><stop offset="0.6169" stop-color="#ffb936"/><stop offset="0.6644" stop-color="#ffc042"/><stop offset="0.7966" stop-color="#ffda71"/><stop offset="0.8576" stop-color="#ffe285"/><stop offset="0.9593" stop-color="#ffe9a5"/><stop offset="0.9898" stop-color="#ffebac"/><stop offset="1.0000" stop-color="#ffebac"/></linearGradient><linearGradient id="g124" gradientUnits="userSpaceOnUse" x1="323" y1="0" x2="2093" y2="0"><stop offset="0.0000" stop-color="#ffffff"/><stop offset="0.0305" stop-color="#fffffe"/><stop offset="0.1797" stop-color="#fff5d6"/><stop offset="0.2780" stop-color="#ffedb5"/><stop offset="0.3695" stop-color="#ffe38b"/><stop offset="0.4068" stop-color="#ffdd78"/><stop offset="0.5458" stop-color="#ffbe3e"/><stop offset="0.5831" stop-color="#ffb936"/><stop offset="0.6169" stop-color="#ffb936"/><stop offset="0.6610" stop-color="#ffbf41"/><stop offset="0.8000" stop-color="#ffda72"/><stop offset="0.8610" stop-color="#ffe285"/><stop offset="0.9627" stop-color="#ffeaa5"/><stop offset="0.9898" stop-color="#ffebab"/><stop offset="1.0000" stop-color="#ffebab"/></linearGradient><linearGradient id="g125" gradientUnits="userSpaceOnUse" x1="323" y1="0" x2="2093" y2="0"><stop offset="0.0000" stop-color="#ffffff"/><stop offset="0.0305" stop-color="#fffffe"/><stop offset="0.1797" stop-color="#fff5d6"/><stop offset="0.2780" stop-color="#ffedb5"/><stop offset="0.3695" stop-color="#ffe38b"/><stop offset="0.4068" stop-color="#ffde79"/><stop offset="0.5458" stop-color="#ffbe3f"/><stop offset="0.5831" stop-color="#ffb937"/><stop offset="0.6169" stop-color="#ffba37"/><stop offset="0.6610" stop-color="#ffbf41"/><stop offset="0.8034" stop-color="#ffda72"/><stop offset="0.8610" stop-color="#ffe285"/><stop offset="0.9661" stop-color="#ffeaa5"/><stop offset="0.9898" stop-color="#ffebab"/><stop offset="1.0000" stop-color="#ffebab"/></linearGradient><linearGradient id="g126" gradientUnits="userSpaceOnUse" x1="323" y1="0" x2="2093" y2="0"><stop offset="0.0000" stop-color="#ffffff"/><stop offset="0.0305" stop-color="#fffffe"/><stop offset="0.1797" stop-color="#fff5d6"/><stop offset="0.2814" stop-color="#ffedb4"/><stop offset="0.3729" stop-color="#ffe38a"/><stop offset="0.4102" stop-color="#ffdd78"/><stop offset="0.5458" stop-color="#ffbf40"/><stop offset="0.5864" stop-color="#ffba37"/><stop offset="0.6237" stop-color="#ffba38"/><stop offset="0.6746" stop-color="#ffc246"/><stop offset="0.8068" stop-color="#ffdb73"/><stop offset="0.8678" stop-color="#ffe286"/><stop offset="0.9729" stop-color="#ffeaa6"/><stop offset="0.9932" stop-color="#ffebaa"/><stop offset="1.0000" stop-color="#ffebaa"/></linearGradient><linearGradient id="g127" gradientUnits="userSpaceOnUse" x1="323" y1="0" x2="2093" y2="0"><stop offset="0.0000" stop-color="#ffffff"/><stop offset="0.0339" stop-color="#fffffe"/><stop offset="0.1831" stop-color="#fff5d6"/><stop offset="0.2814" stop-color="#ffedb4"/><stop offset="0.3763" stop-color="#ffe389"/><stop offset="0.4136" stop-color="#ffdd77"/><stop offset="0.5458" stop-color="#ffbf41"/><stop offset="0.5864" stop-color="#ffba38"/><stop offset="0.6237" stop-color="#ffbb39"/><stop offset="0.6712" stop-color="#ffc145"/><stop offset="0.8102" stop-color="#ffdb74"/><stop offset="0.8644" stop-color="#ffe284"/><stop offset="0.9695" stop-color="#ffeaa5"/><stop offset="0.9898" stop-color="#ffeba9"/><stop offset="1.0000" stop-color="#ffeba9"/></linearGradient><linearGradient id="g128" gradientUnits="userSpaceOnUse" x1="323" y1="0" x2="2093" y2="0"><stop offset="0.0000" stop-color="#ffffff"/><stop offset="0.0339" stop-color="#fffffe"/><stop offset="0.1831" stop-color="#fff5d6"/><stop offset="0.2814" stop-color="#ffedb5"/><stop offset="0.3763" stop-color="#ffe389"/><stop offset="0.4102" stop-color="#ffde79"/><stop offset="0.5492" stop-color="#ffbf41"/><stop offset="0.5898" stop-color="#ffba39"/><stop offset="0.6271" stop-color="#ffbb3a"/><stop offset="0.6780" stop-color="#ffc247"/><stop offset="0.8136" stop-color="#ffdb74"/><stop offset="0.8712" stop-color="#ffe286"/><stop offset="0.9763" stop-color="#ffeaa6"/><stop offset="0.9932" stop-color="#ffeaa9"/><stop offset="1.0000" stop-color="#ffeaa9"/></linearGradient><linearGradient id="g129" gradientUnits="userSpaceOnUse" x1="323" y1="0" x2="2093" y2="0"><stop offset="0.0000" stop-color="#ffffff"/><stop offset="0.0339" stop-color="#fffffe"/><stop offset="0.1864" stop-color="#fff5d5"/><stop offset="0.2847" stop-color="#ffedb4"/><stop offset="0.3797" stop-color="#ffe388"/><stop offset="0.4169" stop-color="#ffdd77"/><stop offset="0.5492" stop-color="#ffc042"/><stop offset="0.5898" stop-color="#ffbb39"/><stop offset="0.6271" stop-color="#ffbb3a"/><stop offset="0.6780" stop-color="#ffc247"/><stop offset="0.8169" stop-color="#ffdb75"/><stop offset="0.8712" stop-color="#ffe286"/><stop offset="0.9763" stop-color="#ffeaa5"/><stop offset="0.9932" stop-color="#ffeaa8"/><stop offset="1.0000" stop-color="#ffeaa8"/></linearGradient><linearGradient id="g130" gradientUnits="userSpaceOnUse" x1="323" y1="0" x2="2093" y2="0"><stop offset="0.0000" stop-color="#ffffff"/><stop offset="0.0339" stop-color="#fffffe"/><stop offset="0.1864" stop-color="#fff5d5"/><stop offset="0.2847" stop-color="#ffedb4"/><stop offset="0.3797" stop-color="#ffe389"/><stop offset="0.4169" stop-color="#ffdd77"/><stop offset="0.5492" stop-color="#ffc043"/><stop offset="0.5898" stop-color="#ffbb3a"/><stop offset="0.6271" stop-color="#ffbc3b"/><stop offset="0.6780" stop-color="#ffc247"/><stop offset="0.8203" stop-color="#ffdc75"/><stop offset="0.8814" stop-color="#ffe388"/><stop offset="0.9864" stop-color="#ffeaa7"/><stop offset="1.0000" stop-color="#ffeaa7"/></linearGradient><linearGradient id="g131" gradientUnits="userSpaceOnUse" x1="323" y1="0" x2="2093" y2="0"><stop offset="0.0000" stop-color="#ffffff"/><stop offset="0.0339" stop-color="#fffffe"/><stop offset="0.1864" stop-color="#fff5d5"/><stop offset="0.2847" stop-color="#ffedb4"/><stop offset="0.3797" stop-color="#ffe389"/><stop offset="0.4136" stop-color="#ffde79"/><stop offset="0.5492" stop-color="#ffc144"/><stop offset="0.5898" stop-color="#ffbc3b"/><stop offset="0.6271" stop-color="#ffbc3b"/><stop offset="0.6746" stop-color="#ffc246"/><stop offset="0.8237" stop-color="#ffdc76"/><stop offset="0.8780" stop-color="#ffe287"/><stop offset="0.9864" stop-color="#ffeaa7"/><stop offset="1.0000" stop-color="#ffeaa7"/></linearGradient><linearGradient id="g132" gradientUnits="userSpaceOnUse" x1="323" y1="0" x2="2093" y2="0"><stop offset="0.0000" stop-color="#ffffff"/><stop offset="0.0339" stop-color="#fffffe"/><stop offset="0.1864" stop-color="#fff5d5"/><stop offset="0.2847" stop-color="#ffedb4"/><stop offset="0.3797" stop-color="#ffe38a"/><stop offset="0.4169" stop-color="#ffdd78"/><stop offset="0.5492" stop-color="#ffc144"/><stop offset="0.5898" stop-color="#ffbc3b"/><stop offset="0.6271" stop-color="#ffbc3b"/><stop offset="0.6746" stop-color="#ffc246"/><stop offset="0.8271" stop-color="#ffdc76"/><stop offset="0.9186" stop-color="#ffe593"/><stop offset="0.9898" stop-color="#ffeaa6"/><stop offset="1.0000" stop-color="#ffeaa6"/></linearGradient><linearGradient id="g133" gradientUnits="userSpaceOnUse" x1="323" y1="0" x2="2093" y2="0"><stop offset="0.0000" stop-color="#ffffff"/><stop offset="0.0339" stop-color="#fffffe"/><stop offset="0.1864" stop-color="#fff5d5"/><stop offset="0.2847" stop-color="#ffedb5"/><stop offset="0.3831" stop-color="#ffe388"/><stop offset="0.4203" stop-color="#ffdd77"/><stop offset="0.5492" stop-color="#ffc145"/><stop offset="0.5898" stop-color="#ffbc3c"/><stop offset="0.6271" stop-color="#ffbc3c"/><stop offset="0.6746" stop-color="#ffc246"/><stop offset="0.8305" stop-color="#ffdd77"/><stop offset="0.8949" stop-color="#ffe38b"/><stop offset="0.9864" stop-color="#ffeaa5"/><stop offset="1.0000" stop-color="#ffeaa5"/></linearGradient><linearGradient id="g134" gradientUnits="userSpaceOnUse" x1="323" y1="0" x2="2093" y2="0"><stop offset="0.0000" stop-color="#ffffff"/><stop offset="0.0339" stop-color="#fffffe"/><stop offset="0.1864" stop-color="#fff5d6"/><stop offset="0.2881" stop-color="#ffedb4"/><stop offset="0.3864" stop-color="#ffe287"/><stop offset="0.4203" stop-color="#ffdd78"/><stop offset="0.5525" stop-color="#ffc145"/><stop offset="0.5932" stop-color="#ffbc3c"/><stop offset="0.6305" stop-color="#ffbd3c"/><stop offset="0.6814" stop-color="#ffc348"/><stop offset="0.8339" stop-color="#ffdd77"/><stop offset="0.9492" stop-color="#ffe79b"/><stop offset="0.9898" stop-color="#ffe9a5"/><stop offset="1.0000" stop-color="#ffe9a5"/></linearGradient><linearGradient id="g135" gradientUnits="userSpaceOnUse" x1="323" y1="0" x2="2093" y2="0"><stop offset="0.0000" stop-color="#ffffff"/><stop offset="0.0339" stop-color="#fffffe"/><stop offset="0.1864" stop-color="#fff5d6"/><stop offset="0.2881" stop-color="#ffedb4"/><stop offset="0.3864" stop-color="#ffe287"/><stop offset="0.4203" stop-color="#ffdd78"/><stop offset="0.5525" stop-color="#ffc145"/><stop offset="0.5966" stop-color="#ffbc3c"/><stop offset="0.6373" stop-color="#ffbd3e"/><stop offset="0.6915" stop-color="#ffc44b"/><stop offset="0.8339" stop-color="#ffdd77"/><stop offset="0.9356" stop-color="#ffe696"/><stop offset="0.9898" stop-color="#ffe9a4"/><stop offset="1.0000" stop-color="#ffe9a4"/></linearGradient><linearGradient id="g136" gradientUnits="userSpaceOnUse" x1="323" y1="0" x2="2093" y2="0"><stop offset="0.0000" stop-color="#ffffff"/><stop offset="0.0339" stop-color="#fffffe"/><stop offset="0.1864" stop-color="#fff5d6"/><stop offset="0.2881" stop-color="#ffedb4"/><stop offset="0.3864" stop-color="#ffe388"/><stop offset="0.4203" stop-color="#ffdd78"/><stop offset="0.5525" stop-color="#ffc246"/><stop offset="0.5966" stop-color="#ffbd3d"/><stop offset="0.6373" stop-color="#ffbd3e"/><stop offset="0.6915" stop-color="#ffc44b"/><stop offset="0.8373" stop-color="#ffdd77"/><stop offset="0.9593" stop-color="#ffe89c"/><stop offset="0.9898" stop-color="#ffe9a4"/><stop offset="1.0000" stop-color="#ffe9a4"/></linearGradient><linearGradient id="g137" gradientUnits="userSpaceOnUse" x1="323" y1="0" x2="2093" y2="0"><stop offset="0.0000" stop-color="#ffffff"/><stop offset="0.0339" stop-color="#fffffe"/><stop offset="0.1864" stop-color="#fff5d6"/><stop offset="0.2881" stop-color="#ffedb4"/><stop offset="0.3864" stop-color="#ffe388"/><stop offset="0.4237" stop-color="#ffdd77"/><stop offset="0.5525" stop-color="#ffc246"/><stop offset="0.5966" stop-color="#ffbd3d"/><stop offset="0.6373" stop-color="#ffbd3e"/><stop offset="0.6915" stop-color="#ffc44a"/><stop offset="0.8407" stop-color="#ffdd78"/><stop offset="0.9831" stop-color="#ffe9a2"/><stop offset="1.0000" stop-color="#ffe9a3"/></linearGradient><linearGradient id="g138" gradientUnits="userSpaceOnUse" x1="323" y1="0" x2="2093" y2="0"><stop offset="0.0000" stop-color="#ffffff"/><stop offset="0.0339" stop-color="#fffffe"/><stop offset="0.1898" stop-color="#fff5d5"/><stop offset="0.2881" stop-color="#ffedb4"/><stop offset="0.3864" stop-color="#ffe388"/><stop offset="0.4237" stop-color="#ffdd78"/><stop offset="0.5525" stop-color="#ffc247"/><stop offset="0.5966" stop-color="#ffbd3e"/><stop offset="0.6373" stop-color="#ffbd3e"/><stop offset="0.6915" stop-color="#ffc44a"/><stop offset="0.8407" stop-color="#ffdd77"/><stop offset="0.9661" stop-color="#ffe89d"/><stop offset="0.9898" stop-color="#ffe9a2"/><stop offset="1.0000" stop-color="#ffe9a2"/></linearGradient><linearGradient id="g139" gradientUnits="userSpaceOnUse" x1="323" y1="0" x2="2093" y2="0"><stop offset="0.0000" stop-color="#ffffff"/><stop offset="0.0339" stop-color="#fffffe"/><stop offset="0.1898" stop-color="#fff5d5"/><stop offset="0.2915" stop-color="#ffedb3"/><stop offset="0.3898" stop-color="#ffe287"/><stop offset="0.4237" stop-color="#ffdd78"/><stop offset="0.5525" stop-color="#ffc347"/><stop offset="0.5966" stop-color="#ffbd3e"/><stop offset="0.6373" stop-color="#ffbd3e"/><stop offset="0.6915" stop-color="#ffc44a"/><stop offset="0.8441" stop-color="#ffdd78"/><stop offset="0.9864" stop-color="#ffe9a2"/><stop offset="1.0000" stop-color="#ffe9a2"/></linearGradient><linearGradient id="g140" gradientUnits="userSpaceOnUse" x1="323" y1="0" x2="2093" y2="0"><stop offset="0.0000" stop-color="#ffffff"/><stop offset="0.0339" stop-color="#fffffe"/><stop offset="0.1898" stop-color="#fff5d5"/><stop offset="0.2915" stop-color="#ffedb3"/><stop offset="0.3898" stop-color="#ffe287"/><stop offset="0.4237" stop-color="#ffdd78"/><stop offset="0.5559" stop-color="#ffc247"/><stop offset="0.6000" stop-color="#ffbd3e"/><stop offset="0.6407" stop-color="#ffbe3f"/><stop offset="0.6949" stop-color="#ffc44b"/><stop offset="0.8475" stop-color="#ffde78"/><stop offset="0.9864" stop-color="#ffe9a1"/><stop offset="1.0000" stop-color="#ffe9a1"/></linearGradient><linearGradient id="g141" gradientUnits="userSpaceOnUse" x1="323" y1="0" x2="2093" y2="0"><stop offset="0.0000" stop-color="#ffffff"/><stop offset="0.0339" stop-color="#fffffe"/><stop offset="0.1898" stop-color="#fff5d5"/><stop offset="0.2915" stop-color="#ffedb3"/><stop offset="0.3932" stop-color="#ffe286"/><stop offset="0.4271" stop-color="#ffdd77"/><stop offset="0.5559" stop-color="#ffc247"/><stop offset="0.6000" stop-color="#ffbd3e"/><stop offset="0.6407" stop-color="#ffbe3f"/><stop offset="0.6949" stop-color="#ffc44b"/><stop offset="0.8475" stop-color="#ffdd78"/><stop offset="0.9864" stop-color="#ffe9a1"/><stop offset="1.0000" stop-color="#ffe9a1"/></linearGradient><linearGradient id="g142" gradientUnits="userSpaceOnUse" x1="323" y1="0" x2="2093" y2="0"><stop offset="0.0000" stop-color="#ffffff"/><stop offset="0.0339" stop-color="#fffffe"/><stop offset="0.1898" stop-color="#fff5d5"/><stop offset="0.2915" stop-color="#ffedb3"/><stop offset="0.3932" stop-color="#ffe286"/><stop offset="0.4305" stop-color="#ffdc76"/><stop offset="0.5559" stop-color="#ffc347"/><stop offset="0.6000" stop-color="#ffbe3e"/><stop offset="0.6407" stop-color="#ffbe3f"/><stop offset="0.6949" stop-color="#ffc44b"/><stop offset="0.8508" stop-color="#ffde79"/><stop offset="0.9864" stop-color="#ffe8a0"/><stop offset="1.0000" stop-color="#ffe8a0"/></linearGradient><linearGradient id="g143" gradientUnits="userSpaceOnUse" x1="323" y1="0" x2="2093" y2="0"><stop offset="0.0000" stop-color="#ffffff"/><stop offset="0.0339" stop-color="#fffffe"/><stop offset="0.1898" stop-color="#fff5d5"/><stop offset="0.2915" stop-color="#ffedb3"/><stop offset="0.3932" stop-color="#ffe286"/><stop offset="0.4305" stop-color="#ffdc76"/><stop offset="0.5559" stop-color="#ffc348"/><stop offset="0.6000" stop-color="#ffbe3f"/><stop offset="0.6407" stop-color="#ffbe3f"/><stop offset="0.6949" stop-color="#ffc44a"/><stop offset="0.8508" stop-color="#ffdd78"/><stop offset="0.9864" stop-color="#ffe8a0"/><stop offset="1.0000" stop-color="#ffe8a0"/></linearGradient><linearGradient id="g144" gradientUnits="userSpaceOnUse" x1="323" y1="0" x2="2093" y2="0"><stop offset="0.0000" stop-color="#ffffff"/><stop offset="0.0339" stop-color="#fffffe"/><stop offset="0.1898" stop-color="#fff5d5"/><stop offset="0.2915" stop-color="#ffedb4"/><stop offset="0.3932" stop-color="#ffe286"/><stop offset="0.4305" stop-color="#ffdc76"/><stop offset="0.5559" stop-color="#ffc348"/><stop offset="0.6000" stop-color="#ffbe3f"/><stop offset="0.6407" stop-color="#ffbe3f"/><stop offset="0.6949" stop-color="#ffc44a"/><stop offset="0.8542" stop-color="#ffde79"/><stop offset="0.9864" stop-color="#ffe89f"/><stop offset="1.0000" stop-color="#ffe89f"/></linearGradient><linearGradient id="g145" gradientUnits="userSpaceOnUse" x1="323" y1="0" x2="2093" y2="0"><stop offset="0.0000" stop-color="#ffffff"/><stop offset="0.0339" stop-color="#fffffe"/><stop offset="0.1898" stop-color="#fff5d5"/><stop offset="0.2915" stop-color="#ffedb4"/><stop offset="0.3932" stop-color="#ffe287"/><stop offset="0.4305" stop-color="#ffdc76"/><stop offset="0.5559" stop-color="#ffc348"/><stop offset="0.6000" stop-color="#ffbe3f"/><stop offset="0.6407" stop-color="#ffbe3f"/><stop offset="0.6949" stop-color="#ffc44a"/><stop offset="0.8542" stop-color="#ffde78"/><stop offset="0.9864" stop-color="#ffe89f"/><stop offset="1.0000" stop-color="#ffe89f"/></linearGradient><linearGradient id="g146" gradientUnits="userSpaceOnUse" x1="323" y1="0" x2="2093" y2="0"><stop offset="0.0000" stop-color="#ffffff"/><stop offset="0.0339" stop-color="#fffffe"/><stop offset="0.1898" stop-color="#fff5d5"/><stop offset="0.2915" stop-color="#ffedb4"/><stop offset="0.3932" stop-color="#ffe287"/><stop offset="0.4305" stop-color="#ffdc76"/><stop offset="0.5559" stop-color="#ffc348"/><stop offset="0.6000" stop-color="#ffbe3f"/><stop offset="0.6407" stop-color="#ffbe3f"/><stop offset="0.6949" stop-color="#ffc44a"/><stop offset="0.8542" stop-color="#ffde78"/><stop offset="0.9864" stop-color="#ffe89f"/><stop offset="1.0000" stop-color="#ffe89f"/></linearGradient><filter id="vb" x="-5%" y="-5%" width="110%" height="110%"><feGaussianBlur stdDeviation="0 5"/></filter></defs>
<g clip-path="url(#dc)"><g filter="url(#vb)"><rect x="323" y="36.8" width="1770" height="12.6" fill="url(#g0)"/><rect x="323" y="48.8" width="1770" height="12.6" fill="url(#g1)"/><rect x="323" y="60.8" width="1770" height="12.6" fill="url(#g2)"/><rect x="323" y="72.8" width="1770" height="12.6" fill="url(#g3)"/><rect x="323" y="84.8" width="1770" height="12.6" fill="url(#g4)"/><rect x="323" y="96.8" width="1770" height="12.6" fill="url(#g5)"/><rect x="323" y="108.8" width="1770" height="12.6" fill="url(#g6)"/><rect x="323" y="120.8" width="1770" height="12.6" fill="url(#g7)"/><rect x="323" y="132.8" width="1770" height="12.6" fill="url(#g8)"/><rect x="323" y="144.8" width="1770" height="12.6" fill="url(#g9)"/><rect x="323" y="156.8" width="1770" height="12.6" fill="url(#g10)"/><rect x="323" y="168.8" width="1770" height="12.6" fill="url(#g11)"/><rect x="323" y="180.8" width="1770" height="12.6" fill="url(#g12)"/><rect x="323" y="192.8" width="1770" height="12.6" fill="url(#g13)"/><rect x="323" y="204.8" width="1770" height="12.6" fill="url(#g14)"/><rect x="323" y="216.8" width="1770" height="12.6" fill="url(#g15)"/><rect x="323" y="228.8" width="1770" height="12.6" fill="url(#g16)"/><rect x="323" y="240.8" width="1770" height="12.6" fill="url(#g17)"/><rect x="323" y="252.8" width="1770" height="12.6" fill="url(#g18)"/><rect x="323" y="264.8" width="1770" height="12.6" fill="url(#g19)"/><rect x="323" y="276.8" width="1770" height="12.6" fill="url(#g20)"/><rect x="323" y="288.8" width="1770" height="12.6" fill="url(#g21)"/><rect x="323" y="300.8" width="1770" height="12.6" fill="url(#g22)"/><rect x="323" y="312.8" width="1770" height="12.6" fill="url(#g23)"/><rect x="323" y="324.8" width="1770" height="12.6" fill="url(#g24)"/><rect x="323" y="336.8" width="1770" height="12.6" fill="url(#g25)"/><rect x="323" y="348.8" width="1770" height="12.6" fill="url(#g26)"/><rect x="323" y="360.8" width="1770" height="12.6" fill="url(#g27)"/><rect x="323" y="372.8" width="1770" height="12.6" fill="url(#g28)"/><rect x="323" y="384.8" width="1770" height="12.6" fill="url(#g29)"/><rect x="323" y="396.8" width="1770" height="12.6" fill="url(#g30)"/><rect x="323" y="408.8" width="1770" height="12.6" fill="url(#g31)"/><rect x="323" y="420.8" width="1770" height="12.6" fill="url(#g32)"/><rect x="323" y="432.8" width="1770" height="12.6" fill="url(#g33)"/><rect x="323" y="444.8" width="1770" height="12.6" fill="url(#g34)"/><rect x="323" y="456.8" width="1770" height="12.6" fill="url(#g35)"/><rect x="323" y="468.8" width="1770" height="12.6" fill="url(#g36)"/><rect x="323" y="480.8" width="1770" height="12.6" fill="url(#g37)"/><rect x="323" y="492.8" width="1770" height="12.6" fill="url(#g38)"/><rect x="323" y="504.8" width="1770" height="12.6" fill="url(#g39)"/><rect x="323" y="516.8" width="1770" height="12.6" fill="url(#g40)"/><rect x="323" y="528.8" width="1770" height="12.6" fill="url(#g41)"/><rect x="323" y="540.8" width="1770" height="12.6" fill="url(#g42)"/><rect x="323" y="552.8" width="1770" height="12.6" fill="url(#g43)"/><rect x="323" y="564.8" width="1770" height="12.6" fill="url(#g44)"/><rect x="323" y="576.8" width="1770" height="12.6" fill="url(#g45)"/><rect x="323" y="588.8" width="1770" height="12.6" fill="url(#g46)"/><rect x="323" y="600.8" width="1770" height="12.6" fill="url(#g47)"/><rect x="323" y="612.8" width="1770" height="12.6" fill="url(#g48)"/><rect x="323" y="624.8" width="1770" height="12.6" fill="url(#g49)"/><rect x="323" y="636.8" width="1770" height="12.6" fill="url(#g50)"/><rect x="323" y="648.8" width="1770" height="12.6" fill="url(#g51)"/><rect x="323" y="660.8" width="1770" height="12.6" fill="url(#g52)"/><rect x="323" y="672.8" width="1770" height="12.6" fill="url(#g53)"/><rect x="323" y="684.8" width="1770" height="12.6" fill="url(#g54)"/><rect x="323" y="696.8" width="1770" height="12.6" fill="url(#g55)"/><rect x="323" y="708.8" width="1770" height="12.6" fill="url(#g56)"/><rect x="323" y="720.8" width="1770" height="12.6" fill="url(#g57)"/><rect x="323" y="732.8" width="1770" height="12.6" fill="url(#g58)"/><rect x="323" y="744.8" width="1770" height="12.6" fill="url(#g59)"/><rect x="323" y="756.8" width="1770" height="12.6" fill="url(#g60)"/><rect x="323" y="768.8" width="1770" height="12.6" fill="url(#g61)"/><rect x="323" y="780.8" width="1770" height="12.6" fill="url(#g62)"/><rect x="323" y="792.8" width="1770" height="12.6" fill="url(#g63)"/><rect x="323" y="804.8" width="1770" height="12.6" fill="url(#g64)"/><rect x="323" y="816.8" width="1770" height="12.6" fill="url(#g65)"/><rect x="323" y="828.8" width="1770" height="12.6" fill="url(#g66)"/><rect x="323" y="840.8" width="1770" height="12.6" fill="url(#g67)"/><rect x="323" y="852.8" width="1770" height="12.6" fill="url(#g68)"/><rect x="323" y="864.8" width="1770" height="12.6" fill="url(#g69)"/><rect x="323" y="876.8" width="1770" height="12.6" fill="url(#g70)"/><rect x="323" y="888.8" width="1770" height="12.6" fill="url(#g71)"/><rect x="323" y="900.8" width="1770" height="12.6" fill="url(#g72)"/><rect x="323" y="912.8" width="1770" height="12.6" fill="url(#g73)"/><rect x="323" y="924.8" width="1770" height="12.6" fill="url(#g74)"/><rect x="323" y="936.8" width="1770" height="12.6" fill="url(#g75)"/><rect x="323" y="948.8" width="1770" height="12.6" fill="url(#g76)"/><rect x="323" y="960.8" width="1770" height="12.6" fill="url(#g77)"/><rect x="323" y="972.8" width="1770" height="12.6" fill="url(#g78)"/><rect x="323" y="984.8" width="1770" height="12.6" fill="url(#g79)"/><rect x="323" y="996.8" width="1770" height="12.6" fill="url(#g80)"/><rect x="323" y="1008.8" width="1770" height="12.6" fill="url(#g81)"/><rect x="323" y="1020.8" width="1770" height="12.6" fill="url(#g82)"/><rect x="323" y="1032.8" width="1770" height="12.6" fill="url(#g83)"/><rect x="323" y="1044.8" width="1770" height="12.6" fill="url(#g84)"/><rect x="323" y="1056.8" width="1770" height="12.6" fill="url(#g85)"/><rect x="323" y="1068.8" width="1770" height="12.6" fill="url(#g86)"/><rect x="323" y="1080.8" width="1770" height="12.6" fill="url(#g87)"/><rect x="323" y="1092.8" width="1770" height="12.6" fill="url(#g88)"/><rect x="323" y="1104.8" width="1770" height="12.6" fill="url(#g89)"/><rect x="323" y="1116.8" width="1770" height="12.6" fill="url(#g90)"/><rect x="323" y="1128.8" width="1770" height="12.6" fill="url(#g91)"/><rect x="323" y="1140.8" width="1770" height="12.6" fill="url(#g92)"/><rect x="323" y="1152.8" width="1770" height="12.6" fill="url(#g93)"/><rect x="323" y="1164.8" width="1770" height="12.6" fill="url(#g94)"/><rect x="323" y="1176.8" width="1770" height="12.6" fill="url(#g95)"/><rect x="323" y="1188.8" width="1770" height="12.6" fill="url(#g96)"/><rect x="323" y="1200.8" width="1770" height="12.6" fill="url(#g97)"/><rect x="323" y="1212.8" width="1770" height="12.6" fill="url(#g98)"/><rect x="323" y="1224.8" width="1770" height="12.6" fill="url(#g99)"/><rect x="323" y="1236.8" width="1770" height="12.6" fill="url(#g100)"/><rect x="323" y="1248.8" width="1770" height="12.6" fill="url(#g101)"/><rect x="323" y="1260.8" width="1770" height="12.6" fill="url(#g102)"/><rect x="323" y="1272.8" width="1770" height="12.6" fill="url(#g103)"/><rect x="323" y="1284.8" width="1770" height="12.6" fill="url(#g104)"/><rect x="323" y="1296.8" width="1770" height="12.6" fill="url(#g105)"/><rect x="323" y="1308.8" width="1770" height="12.6" fill="url(#g106)"/><rect x="323" y="1320.8" width="1770" height="12.6" fill="url(#g107)"/><rect x="323" y="1332.8" width="1770" height="12.6" fill="url(#g108)"/><rect x="323" y="1344.8" width="1770" height="12.6" fill="url(#g109)"/><rect x="323" y="1356.8" width="1770" height="12.6" fill="url(#g110)"/><rect x="323" y="1368.8" width="1770" height="12.6" fill="url(#g111)"/><rect x="323" y="1380.8" width="1770" height="12.6" fill="url(#g112)"/><rect x="323" y="1392.8" width="1770" height="12.6" fill="url(#g113)"/><rect x="323" y="1404.8" width="1770" height="12.6" fill="url(#g114)"/><rect x="323" y="1416.8" width="1770" height="12.6" fill="url(#g115)"/><rect x="323" y="1428.8" width="1770" height="12.6" fill="url(#g116)"/><rect x="323" y="1440.8" width="1770" height="12.6" fill="url(#g117)"/><rect x="323" y="1452.8" width="1770" height="12.6" fill="url(#g118)"/><rect x="323" y="1464.8" width="1770" height="12.6" fill="url(#g119)"/><rect x="323" y="1476.8" width="1770" height="12.6" fill="url(#g120)"/><rect x="323" y="1488.8" width="1770" height="12.6" fill="url(#g121)"/><rect x="323" y="1500.8" width="1770" height="12.6" fill="url(#g122)"/><rect x="323" y="1512.8" width="1770" height="12.6" fill="url(#g123)"/><rect x="323" y="1524.8" width="1770" height="12.6" fill="url(#g124)"/><rect x="323" y="1536.8" width="1770" height="12.6" fill="url(#g125)"/><rect x="323" y="1548.8" width="1770" height="12.6" fill="url(#g126)"/><rect x="323" y="1560.8" width="1770" height="12.6" fill="url(#g127)"/><rect x="323" y="1572.8" width="1770" height="12.6" fill="url(#g128)"/><rect x="323" y="1584.8" width="1770" height="12.6" fill="url(#g129)"/><rect x="323" y="1596.8" width="1770" height="12.6" fill="url(#g130)"/><rect x="323" y="1608.8" width="1770" height="12.6" fill="url(#g131)"/><rect x="323" y="1620.8" width="1770" height="12.6" fill="url(#g132)"/><rect x="323" y="1632.8" width="1770" height="12.6" fill="url(#g133)"/><rect x="323" y="1644.8" width="1770" height="12.6" fill="url(#g134)"/><rect x="323" y="1656.8" width="1770" height="12.6" fill="url(#g135)"/><rect x="323" y="1668.8" width="1770" height="12.6" fill="url(#g136)"/><rect x="323" y="1680.8" width="1770" height="12.6" fill="url(#g137)"/><rect x="323" y="1692.8" width="1770" height="12.6" fill="url(#g138)"/><rect x="323" y="1704.8" width="1770" height="12.6" fill="url(#g139)"/><rect x="323" y="1716.8" width="1770" height="12.6" fill="url(#g140)"/><rect x="323" y="1728.8" width="1770" height="12.6" fill="url(#g141)"/><rect x="323" y="1740.8" width="1770" height="12.6" fill="url(#g142)"/><rect x="323" y="1752.8" width="1770" height="12.6" fill="url(#g143)"/><rect x="323" y="1764.8" width="1770" height="12.6" fill="url(#g144)"/><rect x="323" y="1776.8" width="1770" height="12.6" fill="url(#g145)"/><rect x="323" y="1788.8" width="1770" height="12.6" fill="url(#g146)"/></g></g>
<defs><radialGradient id="dk"><stop offset="0" stop-color="#000" stop-opacity="0.95"/><stop offset="0.25" stop-color="#140800" stop-opacity="0.85"/><stop offset="0.6" stop-color="#301000" stop-opacity="0.4"/><stop offset="1" stop-color="#401800" stop-opacity="0"/></radialGradient></defs>
<ellipse cx="0" cy="0" rx="44" ry="11.5" fill="url(#dk)" transform="translate(1209 917.5) rotate(41)"/>
<path d="M352.8 839.4 L363.6 839.5 L374.4 839.6 L385.2 839.8 L396 839.9 L406.8 840.1 L417.6 840.2 L428.4 840.4 L439.1 840.6 L449.9 840.8 L460.7 841 L471.5 841.2 L482.3 841.5 L493.1 841.7 L503.9 842 L514.7 842.3 L525.5 842.6 L536.3 842.9 L547.1 843.2 L557.9 843.5 L568.7 843.9 L579.5 844.3 L590.2 844.7 L601 845.1 L611.8 845.5 L622.6 846 L633.4 846.5 L644.2 847 L655 847.5 L665.8 848 L676.6 848.6 L687.4 849.2 L698.2 849.8 L709 850.4 L719.8 851.1 L730.6 851.7 L741.4 852.5 L752.1 853.2 L762.9 853.9 L773.7 854.7 L784.5 855.5 L795.3 856.4 L806.1 857.3 L816.9 858.1 L827.7 859.1 L838.5 860 L849.3 861 L860.1 862 L870.9 863.1 L881.7 864.2 L892.5 865.3 L903.2 866.4 L914 867.6 L924.8 868.8 L935.6 870.1 L946.4 871.3 L957.2 872.7 L968 874 L978.8 875.4 L989.6 876.8 L1000.4 878.3 L1011.2 879.8 L1022 881.3 L1032.8 882.9 L1043.6 884.5 L1054.4 886.2 L1065.1 887.9 L1075.9 889.7 L1086.7 891.5 L1097.5 893.3 L1108.3 895.2 L1119.1 897.2 L1129.9 899.2 L1140.7 901.3 L1151.5 903.4 L1162.3 905.6 L1173.1 907.8 L1183.9 910.1 L1194.7 912.5 L1205.5 914.9 L1216.2 917.3 L1227 919.9 L1237.8 922.5 L1248.6 925.2 L1259.4 927.9 L1270.2 930.7 L1281 933.6 L1291.8 936.6 L1302.6 939.6 L1313.4 942.7 L1324.2 945.9 L1335 949.1 L1345.8 952.5 L1356.6 955.9 L1367.3 959.4 L1378.1 963 L1388.9 966.7 L1399.7 970.4 L1410.5 974.3 L1421.3 978.2 L1432.1 982.3 L1442.9 986.4 L1453.7 990.6 L1464.5 994.9 L1475.3 999.4 L1486.1 1003.9 L1496.9 1008.5 L1507.7 1013.2 L1518.5 1018.1 L1529.2 1023 L1540 1028.1 L1550.8 1033.3 L1561.6 1038.6 L1572.4 1044 L1583.2 1049.6 L1594 1055.3 L1604.8 1061.1 L1615.6 1067.1 L1626.4 1073.2 L1637.2 1079.4 L1648 1085.8 L1658.8 1092.3 L1669.6 1099 L1680.3 1105.8 L1691.1 1112.8 L1701.9 1119.9 L1712.7 1127.2 L1723.5 1134.7 L1734.3 1142.3 L1745.1 1150.1 L1755.9 1158.1 L1766.7 1166.3 L1777.5 1174.6 L1788.3 1183.2 L1799.1 1192 L1809.9 1200.9 L1820.7 1210.1 L1831.5 1219.5 L1842.2 1229.2 L1853 1239 L1863.8 1249.1 L1874.6 1259.5 L1885.4 1270.1 L1896.2 1281 L1907 1292.1 L1917.8 1303.4 L1928.6 1314.7 L1939.4 1326 L1950.2 1337.1 L1961 1348.4 L1971.8 1360.3 L1982.6 1372.8 L1993.3 1385.8 L2004.1 1399.3 L2014.9 1413.2 L2025.7 1427.4 L2036.5 1441.6 L2047.3 1455.9 L2058.1 1470 L2068.9 1483.9" fill="none" stroke="#00a400" stroke-width="18" stroke-dasharray="16.2 13.69" stroke-linecap="butt"/>
<path d="M950.9 60.3 L958.6 82 L966.2 103.7 L973.8 125.5 L981.3 147.2 L988.8 168.9 L996.2 190.6 L1003.6 212.4 L1010.9 234.1 L1018.1 255.8 L1025.4 277.5 L1032.5 299.3 L1039.6 321 L1046.7 342.7 L1053.7 364.4 L1060.6 386.1 L1067.5 407.9 L1074.3 429.6 L1081.1 451.3 L1087.8 473 L1094.5 494.8 L1101.1 516.5 L1107.6 538.2 L1114.1 559.9 L1120.5 581.6 L1126.9 603.4 L1133.2 625.1 L1139.4 646.8 L1145.6 668.5 L1151.7 690.3 L1157.8 712 L1163.8 733.7 L1169.7 755.4 L1175.6 777.2 L1181.4 798.9 L1187.1 820.6 L1192.8 842.3 L1198.4 864 L1204 885.8 L1209.4 907.5 L1214.9 929.2 L1220.2 950.9 L1225.5 972.7 L1230.7 994.4 L1235.9 1016.1 L1240.9 1037.8 L1245.9 1059.5 L1250.9 1081.3 L1255.7 1103 L1260.5 1124.7 L1265.3 1146.4 L1269.9 1168.2 L1274.5 1189.9 L1279 1211.6 L1283.5 1233.3 L1287.8 1255.1 L1292.1 1276.8 L1296.3 1298.5 L1300.5 1320.2 L1304.5 1341.9 L1308.5 1363.7 L1312.4 1385.4 L1316.3 1407.1 L1320.1 1428.8 L1323.7 1450.6 L1327.3 1472.3 L1330.9 1494 L1334.3 1515.7 L1337.7 1537.4 L1341 1559.2 L1344.2 1580.9 L1347.3 1602.6 L1350.4 1624.3 L1353.4 1646.1 L1356.2 1667.8 L1359 1689.5 L1361.8 1711.2 L1364.4 1733 L1367 1754.7 L1369.4 1776.4" fill="none" stroke="#0000ff" stroke-width="14" stroke-linecap="butt"/>
<g id="arrows">
<path d="M453.6 163.6L420.5 214.8" stroke="#000" stroke-width="2.1" fill="none"/><path d="M389.9 262.3L410.3 200.2Q415.3 208.6 420.5 214.8Q428.4 217 438 218.1Z" fill="#000"/>
<path d="M540.3 166.1L503.4 214.7" stroke="#000" stroke-width="2.1" fill="none"/><path d="M469.2 259.7L494.3 199.4Q498.7 208.1 503.4 214.7Q511.1 217.5 520.6 219.3Z" fill="#000"/>
<path d="M627.2 169.3L586.3 214.6" stroke="#000" stroke-width="2.1" fill="none"/><path d="M548.4 256.5L578.5 198.5Q582.1 207.5 586.3 214.6Q593.7 218 603 220.6Z" fill="#000"/>
<path d="M714 173L669.2 214.4" stroke="#000" stroke-width="2.1" fill="none"/><path d="M627.6 252.7L662.9 197.7Q665.6 207 669.2 214.4Q676.2 218.5 685.3 222Z" fill="#000"/>
<path d="M800.7 177.5L752 214.2" stroke="#000" stroke-width="2.1" fill="none"/><path d="M706.9 248.2L747.4 197Q749.2 206.5 752 214.2Q758.6 219 767.3 223.3Z" fill="#000"/>
<path d="M887.2 182.6L834.9 214" stroke="#000" stroke-width="2.1" fill="none"/><path d="M786.4 243L832.2 196.4Q833 206.1 834.9 214Q841 219.4 849.1 224.7Z" fill="#000"/>
<path d="M973.2 188.3L917.8 213.7" stroke="#000" stroke-width="2.1" fill="none"/><path d="M866.5 237.3L917 196Q916.7 205.7 917.8 213.7Q923.2 219.8 930.8 225.9Z" fill="#000"/>
<path d="M1058.6 194L1000.7 213.5" stroke="#000" stroke-width="2.1" fill="none"/><path d="M947.2 231.5L1001.8 195.7Q1000.5 205.3 1000.7 213.5Q1005.5 220.1 1012.4 227Z" fill="#000"/>
<path d="M1143.2 199.9L1083.7 213.2" stroke="#000" stroke-width="2.1" fill="none"/><path d="M1028.6 225.6L1086.6 195.7Q1084.3 205.1 1083.7 213.2Q1087.8 220.3 1093.9 227.9Z" fill="#000"/>
<path d="M1227.2 205.5L1166.7 213" stroke="#000" stroke-width="2.1" fill="none"/><path d="M1110.6 220L1171.3 195.8Q1168.1 205 1166.7 213Q1170 220.5 1175.4 228.6Z" fill="#000"/>
<path d="M1310.6 209.8L1249.7 212.8" stroke="#000" stroke-width="2.1" fill="none"/><path d="M1193.3 215.6L1255.6 196Q1251.7 204.9 1249.7 212.8Q1252.5 220.5 1257.2 229Z" fill="#000"/>
<path d="M1393.7 213.8L1332.7 212.7" stroke="#000" stroke-width="2.1" fill="none"/><path d="M1276.2 211.6L1339.7 196.3Q1335.3 204.9 1332.7 212.7Q1335 220.5 1339.1 229.3Z" fill="#000"/>
<path d="M1476.6 216.9L1415.8 212.5" stroke="#000" stroke-width="2.1" fill="none"/><path d="M1359.4 208.5L1423.6 196.5Q1418.7 204.9 1415.8 212.5Q1417.6 220.5 1421.3 229.5Z" fill="#000"/>
<path d="M1559.4 219.3L1498.8 212.4" stroke="#000" stroke-width="2.1" fill="none"/><path d="M1442.7 206L1507.3 196.8Q1502.1 204.9 1498.8 212.4Q1500.3 220.4 1503.6 229.6Z" fill="#000"/>
<path d="M1642.2 221.2L1581.8 212.3" stroke="#000" stroke-width="2.1" fill="none"/><path d="M1526 204.1L1590.9 197Q1585.4 205 1581.8 212.3Q1583.1 220.4 1586.1 229.6Z" fill="#000"/>
<path d="M1725.1 222.3L1664.9 212.3" stroke="#000" stroke-width="2.1" fill="none"/><path d="M1609.2 203L1674.2 197.1Q1668.5 205 1664.9 212.3Q1666 220.4 1668.8 229.7Z" fill="#000"/>
<path d="M1808 222.6L1747.9 212.3" stroke="#000" stroke-width="2.1" fill="none"/><path d="M1692.2 202.7L1757.3 197.1Q1751.6 205 1747.9 212.3Q1749 220.4 1751.7 229.7Z" fill="#000"/>
<path d="M1891.1 222.3L1830.9 212.3" stroke="#000" stroke-width="2.1" fill="none"/><path d="M1775.2 203L1840.3 197.1Q1834.6 205 1830.9 212.3Q1832 220.4 1834.9 229.7Z" fill="#000"/>
<path d="M1974.2 222L1914 212.3" stroke="#000" stroke-width="2.1" fill="none"/><path d="M1858.2 203.3L1923.2 197.1Q1917.6 205 1914 212.3Q1915.1 220.4 1918 229.7Z" fill="#000"/>
<path d="M450.4 244.6L420.7 297.9" stroke="#000" stroke-width="2.1" fill="none"/><path d="M393.2 347.3L409.5 284Q415 292 420.7 297.9Q428.7 299.6 438.4 300.1Z" fill="#000"/>
<path d="M537.1 246.9L503.6 297.8" stroke="#000" stroke-width="2.1" fill="none"/><path d="M472.5 345L493.5 283.2Q498.4 291.5 503.6 297.8Q511.4 300.1 521 301.3Z" fill="#000"/>
<path d="M624.1 249.7L586.4 297.7" stroke="#000" stroke-width="2.1" fill="none"/><path d="M551.5 342.1L577.6 282.2Q581.8 291 586.4 297.7Q594 300.6 603.5 302.6Z" fill="#000"/>
<path d="M711.3 253.3L669.3 297.5" stroke="#000" stroke-width="2.1" fill="none"/><path d="M630.4 338.5L661.9 281.3Q665.3 290.4 669.3 297.5Q676.6 301.2 685.8 304.1Z" fill="#000"/>
<path d="M798.5 257.7L752.1 297.4" stroke="#000" stroke-width="2.1" fill="none"/><path d="M709.2 334L746.5 280.5Q748.9 289.9 752.1 297.4Q759 301.7 767.9 305.5Z" fill="#000"/>
<path d="M885.6 263.1L835 297.1" stroke="#000" stroke-width="2.1" fill="none"/><path d="M788.1 328.7L831.3 279.7Q832.6 289.3 835 297.1Q841.3 302.3 849.8 307.1Z" fill="#000"/>
<path d="M972.2 269.1L917.9 296.9" stroke="#000" stroke-width="2.1" fill="none"/><path d="M867.5 322.6L916.3 279.1Q916.4 288.8 917.9 296.9Q923.5 302.7 931.3 308.5Z" fill="#000"/>
<path d="M1058.1 275.7L1000.8 296.6" stroke="#000" stroke-width="2.1" fill="none"/><path d="M947.7 315.9L1001.4 278.8Q1000.3 288.4 1000.8 296.6Q1005.7 303.1 1012.7 309.8Z" fill="#000"/>
<path d="M1143.1 282.5L1083.7 296.3" stroke="#000" stroke-width="2.1" fill="none"/><path d="M1028.7 309.1L1086.5 278.7Q1084.3 288.2 1083.7 296.3Q1087.8 303.3 1094 310.8Z" fill="#000"/>
<path d="M1227.3 288.8L1166.7 296" stroke="#000" stroke-width="2.1" fill="none"/><path d="M1110.6 302.7L1171.4 278.8Q1168.1 288 1166.7 296Q1170 303.5 1175.3 311.6Z" fill="#000"/>
<path d="M1310.7 294.1L1249.7 295.8" stroke="#000" stroke-width="2.1" fill="none"/><path d="M1193.2 297.4L1255.9 279.1Q1251.9 287.9 1249.7 295.8Q1252.3 303.5 1256.9 312.1Z" fill="#000"/>
<path d="M1393.7 298.6L1332.7 295.6" stroke="#000" stroke-width="2.1" fill="none"/><path d="M1276.3 292.8L1340.2 279.5Q1335.5 287.9 1332.7 295.6Q1334.7 303.5 1338.6 312.4Z" fill="#000"/>
<path d="M1476.4 302.4L1415.8 295.4" stroke="#000" stroke-width="2.1" fill="none"/><path d="M1359.6 289L1424.3 279.8Q1419.1 288 1415.8 295.4Q1417.3 303.5 1420.5 312.6Z" fill="#000"/>
<path d="M1559 305.6L1498.8 295.3" stroke="#000" stroke-width="2.1" fill="none"/><path d="M1443.1 285.8L1508.2 280.2Q1502.5 288 1498.8 295.3Q1499.9 303.4 1502.6 312.7Z" fill="#000"/>
<path d="M1641.5 308L1581.9 295.2" stroke="#000" stroke-width="2.1" fill="none"/><path d="M1526.6 283.3L1591.9 280.5Q1585.9 288.1 1581.9 295.2Q1582.6 303.3 1585 312.7Z" fill="#000"/>
<path d="M1724.2 309.6L1664.9 295.1" stroke="#000" stroke-width="2.1" fill="none"/><path d="M1610 281.8L1675.3 280.7Q1669.1 288.1 1664.9 295.1Q1665.4 303.3 1667.5 312.8Z" fill="#000"/>
<path d="M1807.1 310.2L1748 295.1" stroke="#000" stroke-width="2.1" fill="none"/><path d="M1693.2 281.1L1758.5 280.8Q1752.2 288.1 1748 295.1Q1748.4 303.3 1750.4 312.8Z" fill="#000"/>
<path d="M1890.1 310.3L1831 295.1" stroke="#000" stroke-width="2.1" fill="none"/><path d="M1776.3 281L1841.6 280.8Q1835.3 288.2 1831 295.1Q1831.4 303.3 1833.4 312.8Z" fill="#000"/>
<path d="M1973 310.6L1914 295.1" stroke="#000" stroke-width="2.1" fill="none"/><path d="M1859.4 280.7L1924.7 280.8Q1918.3 288.2 1914 295.1Q1914.4 303.2 1916.3 312.8Z" fill="#000"/>
<path d="M446.5 325.7L420.8 381" stroke="#000" stroke-width="2.1" fill="none"/><path d="M397 432.3L408.7 368Q414.8 375.6 420.8 381Q428.9 382.1 438.6 381.9Z" fill="#000"/>
<path d="M533.2 327.5L503.7 380.9" stroke="#000" stroke-width="2.1" fill="none"/><path d="M476.4 430.4L492.5 367.1Q498.1 375.1 503.7 380.9Q511.7 382.6 521.4 383Z" fill="#000"/>
<path d="M620.3 330L586.6 380.8" stroke="#000" stroke-width="2.1" fill="none"/><path d="M555.4 428L576.5 366.1Q581.4 374.5 586.6 380.8Q594.4 383.2 604 384.4Z" fill="#000"/>
<path d="M707.7 333.2L669.4 380.7" stroke="#000" stroke-width="2.1" fill="none"/><path d="M634 424.7L660.8 365.1Q664.9 373.9 669.4 380.7Q677 383.7 686.5 385.8Z" fill="#000"/>
<path d="M795.4 337.4L752.3 380.5" stroke="#000" stroke-width="2.1" fill="none"/><path d="M712.3 420.5L745.3 364.1Q748.4 373.3 752.3 380.5Q759.5 384.3 768.7 387.5Z" fill="#000"/>
<path d="M883.1 342.7L835.1 380.3" stroke="#000" stroke-width="2.1" fill="none"/><path d="M790.6 415.2L830.2 363.2Q832.2 372.7 835.1 380.3Q841.8 385 850.5 389.2Z" fill="#000"/>
<path d="M970.5 349.1L917.9 380" stroke="#000" stroke-width="2.1" fill="none"/><path d="M869.2 408.7L915.3 362.4Q916 372.1 917.9 380Q924 385.5 932.1 390.8Z" fill="#000"/>
<path d="M1057.2 356.4L1000.8 379.7" stroke="#000" stroke-width="2.1" fill="none"/><path d="M948.6 401.3L1000.7 361.9Q1000 371.6 1000.8 379.7Q1006 386 1013.3 392.4Z" fill="#000"/>
<path d="M1142.8 364.3L1083.7 379.4" stroke="#000" stroke-width="2.1" fill="none"/><path d="M1029 393.3L1086.1 361.7Q1084.1 371.2 1083.7 379.4Q1088 386.3 1094.3 393.7Z" fill="#000"/>
<path d="M1227.3 371.9L1166.7 379.1" stroke="#000" stroke-width="2.1" fill="none"/><path d="M1110.6 385.7L1171.4 361.9Q1168.2 371 1166.7 379.1Q1170 386.5 1175.3 394.7Z" fill="#000"/>
<path d="M1310.7 378.1L1249.7 378.8" stroke="#000" stroke-width="2.1" fill="none"/><path d="M1193.2 379.4L1256.2 362.2Q1252 371 1249.7 378.8Q1252.2 386.6 1256.6 395.2Z" fill="#000"/>
<path d="M1393.5 383.4L1332.7 378.6" stroke="#000" stroke-width="2.1" fill="none"/><path d="M1276.4 374.1L1340.7 362.6Q1335.7 371 1332.7 378.6Q1334.5 386.5 1338.1 395.5Z" fill="#000"/>
<path d="M1476 388.2L1415.8 378.4" stroke="#000" stroke-width="2.1" fill="none"/><path d="M1360 369.2L1425.1 363.2Q1419.4 371 1415.8 378.4Q1416.9 386.4 1419.7 395.7Z" fill="#000"/>
<path d="M1558.2 392.3L1498.9 378.2" stroke="#000" stroke-width="2.1" fill="none"/><path d="M1443.9 365.1L1509.2 363.7Q1503 371.1 1498.9 378.2Q1499.4 386.3 1501.6 395.8Z" fill="#000"/>
<path d="M1640.4 395.4L1581.9 378" stroke="#000" stroke-width="2.1" fill="none"/><path d="M1527.8 362L1593 364.1Q1586.4 371.3 1581.9 378Q1582 386.2 1583.6 395.8Z" fill="#000"/>
<path d="M1722.7 397.6L1665 378" stroke="#000" stroke-width="2.1" fill="none"/><path d="M1611.5 359.8L1676.6 364.5Q1669.8 371.3 1665 378Q1664.7 386.1 1666 395.7Z" fill="#000"/>
<path d="M1805.4 398.8L1748 377.9" stroke="#000" stroke-width="2.1" fill="none"/><path d="M1694.9 358.6L1760 364.7Q1753 371.4 1748 377.9Q1747.6 386.1 1748.7 395.7Z" fill="#000"/>
<path d="M1888.2 399.4L1831.1 377.9" stroke="#000" stroke-width="2.1" fill="none"/><path d="M1778.2 358L1843.2 364.8Q1836.1 371.4 1831.1 377.9Q1830.6 386 1831.5 395.7Z" fill="#000"/>
<path d="M1970.9 400.1L1914.1 377.8" stroke="#000" stroke-width="2.1" fill="none"/><path d="M1861.5 357.2L1926.4 364.9Q1919.2 371.5 1914.1 377.8Q1913.5 386 1914.3 395.7Z" fill="#000"/>
<path d="M442.4 407L421 464.1" stroke="#000" stroke-width="2.1" fill="none"/><path d="M401.3 517.1L407.9 452.1Q414.6 459.2 421 464.1Q429.2 464.6 438.8 463.6Z" fill="#000"/>
<path d="M528.8 408.4L503.9 464.1" stroke="#000" stroke-width="2.1" fill="none"/><path d="M480.9 515.7L491.6 451.2Q497.8 458.7 503.9 464.1Q512 465.1 521.7 464.7Z" fill="#000"/>
<path d="M615.8 410.3L586.8 464" stroke="#000" stroke-width="2.1" fill="none"/><path d="M559.9 513.7L575.4 450.3Q581 458.2 586.8 464Q594.8 465.6 604.5 465.9Z" fill="#000"/>
<path d="M703.3 413L669.6 463.9" stroke="#000" stroke-width="2.1" fill="none"/><path d="M638.5 511L659.5 449.2Q664.4 457.6 669.6 463.9Q677.4 466.2 687.1 467.4Z" fill="#000"/>
<path d="M791.3 416.7L752.4 463.7" stroke="#000" stroke-width="2.1" fill="none"/><path d="M716.4 507.3L744 448Q747.9 456.9 752.4 463.7Q760 466.8 769.4 469.1Z" fill="#000"/>
<path d="M879.6 421.7L835.2 463.5" stroke="#000" stroke-width="2.1" fill="none"/><path d="M794.1 502.3L828.8 446.9Q831.6 456.2 835.2 463.5Q842.3 467.5 851.4 470.9Z" fill="#000"/>
<path d="M967.9 428.1L918 463.2" stroke="#000" stroke-width="2.1" fill="none"/><path d="M871.8 495.8L914 445.9Q915.5 455.5 918 463.2Q924.5 468.2 933 472.9Z" fill="#000"/>
<path d="M1055.7 436.2L1000.9 462.9" stroke="#000" stroke-width="2.1" fill="none"/><path d="M950.1 487.6L999.7 445.1Q999.6 454.8 1000.9 462.9Q1006.4 468.8 1014.1 474.8Z" fill="#000"/>
<path d="M1142.3 445.3L1083.7 462.5" stroke="#000" stroke-width="2.1" fill="none"/><path d="M1029.5 478.4L1085.5 444.8Q1083.8 454.3 1083.7 462.5Q1088.2 469.3 1094.8 476.4Z" fill="#000"/>
<path d="M1227.2 454.7L1166.7 462.1" stroke="#000" stroke-width="2.1" fill="none"/><path d="M1110.6 469L1171.3 444.9Q1168.1 454.1 1166.7 462.1Q1170 469.5 1175.3 477.7Z" fill="#000"/>
<path d="M1310.7 462.4L1249.7 461.8" stroke="#000" stroke-width="2.1" fill="none"/><path d="M1193.2 461.2L1256.6 445.3Q1252.2 454 1249.7 461.8Q1252 469.6 1256.2 478.3Z" fill="#000"/>
<path d="M1393.3 468.7L1332.7 461.5" stroke="#000" stroke-width="2.1" fill="none"/><path d="M1276.6 454.8L1341.4 445.9Q1336.1 454 1332.7 461.5Q1334.2 469.5 1337.4 478.7Z" fill="#000"/>
<path d="M1475.3 475L1415.8 461.2" stroke="#000" stroke-width="2.1" fill="none"/><path d="M1360.8 448.5L1426.1 446.7Q1419.9 454.2 1415.8 461.2Q1416.4 469.4 1418.6 478.8Z" fill="#000"/>
<path d="M1556.9 480L1498.9 461" stroke="#000" stroke-width="2.1" fill="none"/><path d="M1445.2 443.4L1510.4 447.4Q1503.6 454.3 1498.9 461Q1498.8 469.2 1500.1 478.8Z" fill="#000"/>
<path d="M1638.5 483.9L1582 460.8" stroke="#000" stroke-width="2.1" fill="none"/><path d="M1529.7 439.5L1594.5 448.1Q1587.2 454.5 1582 460.8Q1581.3 469 1582 478.7Z" fill="#000"/>
<path d="M1720.2 486.8L1665.1 460.7" stroke="#000" stroke-width="2.1" fill="none"/><path d="M1614 436.6L1678.2 448.7Q1670.6 454.7 1665.1 460.7Q1663.9 468.8 1664.1 478.5Z" fill="#000"/>
<path d="M1802.4 488.6L1748.2 460.6" stroke="#000" stroke-width="2.1" fill="none"/><path d="M1698 434.7L1761.7 449.1Q1753.9 454.8 1748.2 460.6Q1746.7 468.7 1746.5 478.4Z" fill="#000"/>
<path d="M1884.8 489.8L1831.2 460.6" stroke="#000" stroke-width="2.1" fill="none"/><path d="M1781.6 433.6L1845 449.3Q1837.1 454.9 1831.2 460.6Q1829.6 468.6 1829.2 478.3Z" fill="#000"/>
<path d="M1967.2 490.8L1914.3 460.5" stroke="#000" stroke-width="2.1" fill="none"/><path d="M1865.2 432.5L1928.3 449.6Q1920.2 455 1914.3 460.5Q1912.5 468.5 1911.9 478.2Z" fill="#000"/>
<path d="M438.1 488.6L421.2 547.2" stroke="#000" stroke-width="2.1" fill="none"/><path d="M405.5 601.5L407.2 536.2Q414.4 542.8 421.2 547.2Q429.4 547.1 438.9 545.4Z" fill="#000"/>
<path d="M524.1 489.6L504.1 547.2" stroke="#000" stroke-width="2.1" fill="none"/><path d="M485.6 600.6L490.7 535.4Q497.5 542.4 504.1 547.2Q512.3 547.5 521.9 546.3Z" fill="#000"/>
<path d="M610.7 490.9L587 547.1" stroke="#000" stroke-width="2.1" fill="none"/><path d="M565 599.2L574.4 534.5Q580.7 541.9 587 547.1Q595.1 547.9 604.8 547.4Z" fill="#000"/>
<path d="M698 492.9L669.8 547" stroke="#000" stroke-width="2.1" fill="none"/><path d="M643.7 597.1L658.3 533.5Q664 541.3 669.8 547Q677.9 548.5 687.6 548.7Z" fill="#000"/>
<path d="M786.1 495.9L752.6 546.9" stroke="#000" stroke-width="2.1" fill="none"/><path d="M721.7 594.2L742.5 532.3Q747.4 540.6 752.6 546.9Q760.5 549.2 770.1 550.4Z" fill="#000"/>
<path d="M874.8 500.2L835.4 546.7" stroke="#000" stroke-width="2.1" fill="none"/><path d="M798.9 589.9L827.2 531Q831 539.9 835.4 546.7Q842.9 549.9 852.4 552.3Z" fill="#000"/>
<path d="M964 506.2L918.2 546.5" stroke="#000" stroke-width="2.1" fill="none"/><path d="M875.7 583.8L912.3 529.7Q914.9 539 918.2 546.5Q925.2 550.7 934.1 554.4Z" fill="#000"/>
<path d="M1053.2 514.6L1001 546.1" stroke="#000" stroke-width="2.1" fill="none"/><path d="M952.6 575.3L998.2 528.5Q999 538.2 1001 546.1Q1007.1 551.5 1015.2 556.8Z" fill="#000"/>
<path d="M1141.2 525.2L1083.8 545.7" stroke="#000" stroke-width="2.1" fill="none"/><path d="M1030.6 564.7L1084.5 527.9Q1083.4 537.5 1083.8 545.7Q1088.7 552.2 1095.6 558.9Z" fill="#000"/>
<path d="M1227.1 536.7L1166.7 545.2" stroke="#000" stroke-width="2.1" fill="none"/><path d="M1110.7 553L1171 527.9Q1168 537.1 1166.7 545.2Q1170.2 552.6 1175.6 560.6Z" fill="#000"/>
<path d="M1310.7 547.1L1249.7 544.7" stroke="#000" stroke-width="2.1" fill="none"/><path d="M1193.2 542.6L1257 528.5Q1252.4 537 1249.7 544.7Q1251.8 552.6 1255.8 561.5Z" fill="#000"/>
<path d="M1392.7 555.8L1332.8 544.4" stroke="#000" stroke-width="2.1" fill="none"/><path d="M1277.3 533.8L1342.4 529.4Q1336.6 537.1 1332.8 544.4Q1333.7 552.5 1336.3 561.8Z" fill="#000"/>
<path d="M1473.8 563.3L1415.9 544" stroke="#000" stroke-width="2.1" fill="none"/><path d="M1362.3 526.2L1427.5 530.5Q1420.6 537.4 1415.9 544Q1415.7 552.2 1417 561.8Z" fill="#000"/>
<path d="M1554.4 569.3L1499 543.8" stroke="#000" stroke-width="2.1" fill="none"/><path d="M1447.7 520.1L1512 531.6Q1504.5 537.7 1499 543.8Q1497.9 551.9 1498.2 561.6Z" fill="#000"/>
<path d="M1635.1 573.9L1582.1 543.6" stroke="#000" stroke-width="2.1" fill="none"/><path d="M1533.1 515.5L1596.2 532.6Q1588.1 538 1582.1 543.6Q1580.4 551.5 1579.8 561.2Z" fill="#000"/>
<path d="M1716.1 577.2L1665.3 543.4" stroke="#000" stroke-width="2.1" fill="none"/><path d="M1618.2 512.1L1680 533.4Q1671.6 538.3 1665.3 543.4Q1662.9 551.3 1661.7 560.9Z" fill="#000"/>
<path d="M1797.4 579.7L1748.4 543.3" stroke="#000" stroke-width="2.1" fill="none"/><path d="M1703 509.7L1763.6 534.1Q1754.9 538.5 1748.4 543.3Q1745.7 551 1743.9 560.6Z" fill="#000"/>
<path d="M1879 581.4L1831.5 543.3" stroke="#000" stroke-width="2.1" fill="none"/><path d="M1787.4 507.9L1847 534.6Q1838.2 538.7 1831.5 543.3Q1828.5 550.8 1826.4 560.3Z" fill="#000"/>
<path d="M1960.7 583L1914.5 543.2" stroke="#000" stroke-width="2.1" fill="none"/><path d="M1871.8 506.3L1930.4 535.1Q1921.5 538.8 1914.5 543.2Q1911.3 550.7 1908.8 560.1Z" fill="#000"/>
<path d="M433.8 570.6L421.4 630.3" stroke="#000" stroke-width="2.1" fill="none"/><path d="M409.9 685.6L406.6 620.4Q414.2 626.4 421.4 630.3Q429.5 629.5 438.9 627.1Z" fill="#000"/>
<path d="M519.2 571.1L504.3 630.3" stroke="#000" stroke-width="2.1" fill="none"/><path d="M490.6 685.1L490 619.8Q497.3 626 504.3 630.3Q512.5 629.8 522 627.8Z" fill="#000"/>
<path d="M605.2 571.9L587.2 630.2" stroke="#000" stroke-width="2.1" fill="none"/><path d="M570.6 684.2L573.4 619Q580.5 625.6 587.2 630.2Q595.4 630.2 605 628.7Z" fill="#000"/>
<path d="M692 573.2L670.1 630.2" stroke="#000" stroke-width="2.1" fill="none"/><path d="M649.8 682.9L657.1 618Q663.7 625.1 670.1 630.2Q678.2 630.7 687.9 629.8Z" fill="#000"/>
<path d="M779.7 575.3L752.9 630.1" stroke="#000" stroke-width="2.1" fill="none"/><path d="M728.1 680.9L741 616.8Q747 624.5 752.9 630.1Q761 631.4 770.7 631.3Z" fill="#000"/>
<path d="M868.5 578.5L835.7 630" stroke="#000" stroke-width="2.1" fill="none"/><path d="M805.4 677.6L825.4 615.4Q830.4 623.7 835.7 630Q843.6 632.1 853.2 633.2Z" fill="#000"/>
<path d="M958.3 583.5L918.4 629.7" stroke="#000" stroke-width="2.1" fill="none"/><path d="M881.6 672.5L910.3 613.9Q914.1 622.8 918.4 629.7Q925.9 633 935.3 635.4Z" fill="#000"/>
<path d="M1048.9 591.5L1001.2 629.4" stroke="#000" stroke-width="2.1" fill="none"/><path d="M956.9 664.5L996.1 612.3Q998.2 621.8 1001.2 629.4Q1007.9 634 1016.7 638.2Z" fill="#000"/>
<path d="M1139.3 603.5L1083.9 628.9" stroke="#000" stroke-width="2.1" fill="none"/><path d="M1032.5 652.4L1083.1 611.1Q1082.8 620.8 1083.9 628.9Q1089.3 635 1096.8 641.1Z" fill="#000"/>
<path d="M1226.9 618.4L1166.7 628.3" stroke="#000" stroke-width="2.1" fill="none"/><path d="M1110.9 637.4L1170.6 610.9Q1167.8 620.2 1166.7 628.3Q1170.3 635.6 1176 643.5Z" fill="#000"/>
<path d="M1310.5 632.6L1249.7 627.6" stroke="#000" stroke-width="2.1" fill="none"/><path d="M1193.4 623L1257.7 611.7Q1252.7 620.1 1249.7 627.6Q1251.5 635.6 1255 644.6Z" fill="#000"/>
<path d="M1391.3 644.5L1332.8 627.1" stroke="#000" stroke-width="2.1" fill="none"/><path d="M1278.7 611.1L1343.9 613.2Q1337.4 620.3 1332.8 627.1Q1332.9 635.3 1334.6 644.9Z" fill="#000"/>
<path d="M1470.8 653.7L1416 626.7" stroke="#000" stroke-width="2.1" fill="none"/><path d="M1365.3 601.8L1429.3 614.9Q1421.6 620.8 1416 626.7Q1414.7 634.8 1414.8 644.5Z" fill="#000"/>
<path d="M1549.9 660.4L1499.2 626.5" stroke="#000" stroke-width="2.1" fill="none"/><path d="M1452.2 595.1L1514 616.5Q1505.5 621.3 1499.2 626.5Q1496.9 634.3 1495.6 643.9Z" fill="#000"/>
<path d="M1629.4 665.1L1582.4 626.3" stroke="#000" stroke-width="2.1" fill="none"/><path d="M1538.9 590.2L1598.1 617.8Q1589.2 621.8 1582.4 626.3Q1579.3 633.8 1577 643.2Z" fill="#000"/>
<path d="M1709.3 668.6L1665.6 626.1" stroke="#000" stroke-width="2.1" fill="none"/><path d="M1625 586.7L1681.9 618.9Q1672.7 622.2 1665.6 626.1Q1661.8 633.4 1658.9 642.6Z" fill="#000"/>
<path d="M1789.6 671.3L1748.7 626" stroke="#000" stroke-width="2.1" fill="none"/><path d="M1710.8 584.1L1765.4 619.9Q1756.1 622.5 1748.7 626Q1744.5 633 1741 642Z" fill="#000"/>
<path d="M1870.3 673.3L1831.8 625.9" stroke="#000" stroke-width="2.1" fill="none"/><path d="M1796.2 582L1848.9 620.7Q1839.4 622.9 1831.8 625.9Q1827.3 632.7 1823.2 641.5Z" fill="#000"/>
<path d="M1951.2 674.9L1915 625.8" stroke="#000" stroke-width="2.1" fill="none"/><path d="M1881.4 580.4L1932.2 621.4Q1922.7 623.1 1915 625.8Q1910.1 632.4 1905.7 641Z" fill="#000"/>
<path d="M429.3 652.8L421.6 713.4" stroke="#000" stroke-width="2.1" fill="none"/><path d="M414.5 769.4L406.1 704.6Q414.1 710 421.6 713.4Q429.6 712 438.8 708.8Z" fill="#000"/>
<path d="M514 653.1L504.5 713.3" stroke="#000" stroke-width="2.1" fill="none"/><path d="M495.8 769.2L489.3 704.2Q497.2 709.8 504.5 713.3Q512.6 712.2 521.9 709.3Z" fill="#000"/>
<path d="M599.3 653.5L587.5 713.3" stroke="#000" stroke-width="2.1" fill="none"/><path d="M576.5 768.8L572.6 703.6Q580.3 709.5 587.5 713.3Q595.6 712.5 605 710Z" fill="#000"/>
<path d="M685.2 654.1L670.4 713.3" stroke="#000" stroke-width="2.1" fill="none"/><path d="M656.6 768.1L656 702.8Q663.4 709.1 670.4 713.3Q678.5 712.9 688 710.8Z" fill="#000"/>
<path d="M772.2 655.3L753.2 713.3" stroke="#000" stroke-width="2.1" fill="none"/><path d="M735.7 767L739.6 701.8Q746.6 708.6 753.2 713.3Q761.4 713.4 771 712Z" fill="#000"/>
<path d="M860.3 657.2L836.1 713.2" stroke="#000" stroke-width="2.1" fill="none"/><path d="M813.6 765L823.6 700.5Q829.9 707.9 836.1 713.2Q844.2 714.1 853.9 713.6Z" fill="#000"/>
<path d="M950 660.6L918.8 713" stroke="#000" stroke-width="2.1" fill="none"/><path d="M889.9 761.6L908 698.8Q913.3 707 918.8 713Q926.7 715 936.4 715.7Z" fill="#000"/>
<path d="M1041.7 666.9L1001.5 712.8" stroke="#000" stroke-width="2.1" fill="none"/><path d="M964.2 755.2L993.5 696.8Q997.2 705.8 1001.5 712.8Q1008.9 716.1 1018.3 718.6Z" fill="#000"/>
<path d="M1135.4 679.3L1084 712.2" stroke="#000" stroke-width="2.1" fill="none"/><path d="M1036.4 742.7L1080.8 694.7Q1081.9 704.4 1084 712.2Q1090.3 717.5 1098.6 722.5Z" fill="#000"/>
<path d="M1226.4 698.8L1166.7 711.4" stroke="#000" stroke-width="2.1" fill="none"/><path d="M1111.4 723L1169.9 693.9Q1167.5 703.3 1166.7 711.4Q1170.7 718.5 1176.7 726.2Z" fill="#000"/>
<path d="M1310.1 719.4L1249.7 710.5" stroke="#000" stroke-width="2.1" fill="none"/><path d="M1193.8 702.3L1258.8 695.2Q1253.2 703.1 1249.7 710.5Q1251 718.6 1253.9 727.8Z" fill="#000"/>
<path d="M1388.2 735.8L1333 709.8" stroke="#000" stroke-width="2.1" fill="none"/><path d="M1281.8 685.8L1346.1 697.7Q1338.5 703.8 1333 709.8Q1331.8 717.9 1332 727.6Z" fill="#000"/>
<path d="M1464.7 746.5L1416.3 709.4" stroke="#000" stroke-width="2.1" fill="none"/><path d="M1371.5 675L1431.6 700.3Q1422.9 704.6 1416.3 709.4Q1413.4 717 1411.5 726.5Z" fill="#000"/>
<path d="M1541.8 753L1499.6 709.1" stroke="#000" stroke-width="2.1" fill="none"/><path d="M1460.4 668.4L1516.1 702.5Q1506.8 705.4 1499.6 709.1Q1495.6 716.2 1492.3 725.3Z" fill="#000"/>
<path d="M1620.1 757.2L1582.8 708.9" stroke="#000" stroke-width="2.1" fill="none"/><path d="M1548.3 664.2L1599.9 704.1Q1590.4 706 1582.8 708.9Q1578.1 715.6 1573.8 724.3Z" fill="#000"/>
<path d="M1699.1 760L1666 708.8" stroke="#000" stroke-width="2.1" fill="none"/><path d="M1635.3 661.3L1683.5 705.4Q1673.8 706.6 1666 708.8Q1660.7 715 1655.8 723.4Z" fill="#000"/>
<path d="M1778.5 762.2L1749.2 708.7" stroke="#000" stroke-width="2.1" fill="none"/><path d="M1722 659.1L1766.9 706.6Q1757.2 707 1749.2 708.7Q1743.5 714.5 1737.9 722.5Z" fill="#000"/>
<path d="M1858.5 763.7L1832.3 708.6" stroke="#000" stroke-width="2.1" fill="none"/><path d="M1808.1 657.6L1850.1 707.6Q1840.4 707.4 1832.3 708.6Q1826.3 714.1 1820.3 721.7Z" fill="#000"/>
<path d="M1938.8 764.9L1915.5 708.6" stroke="#000" stroke-width="2.1" fill="none"/><path d="M1893.9 656.4L1933.3 708.5Q1923.6 707.8 1915.5 708.6Q1909.2 713.8 1902.8 721.1Z" fill="#000"/>
<path d="M424.5 735.5L421.8 796.4" stroke="#000" stroke-width="2.1" fill="none"/><path d="M419.3 852.9L405.6 789Q414.1 793.7 421.8 796.4Q429.7 794.4 438.6 790.4Z" fill="#000"/>
<path d="M508.7 735.5L504.8 796.4" stroke="#000" stroke-width="2.1" fill="none"/><path d="M501.1 852.8L488.7 788.6Q497.1 793.5 504.8 796.4Q512.7 794.5 521.7 790.8Z" fill="#000"/>
<path d="M593.3 735.7L587.7 796.4" stroke="#000" stroke-width="2.1" fill="none"/><path d="M582.6 852.7L571.9 788.2Q580.2 793.3 587.7 796.4Q595.7 794.7 604.8 791.2Z" fill="#000"/>
<path d="M678.3 735.9L670.7 796.4" stroke="#000" stroke-width="2.1" fill="none"/><path d="M663.7 852.5L655.1 787.7Q663.2 793 670.7 796.4Q678.7 795 687.9 791.8Z" fill="#000"/>
<path d="M763.9 736.2L753.6 796.4" stroke="#000" stroke-width="2.1" fill="none"/><path d="M744.1 852.1L738.5 787Q746.3 792.7 753.6 796.4Q761.7 795.3 771 792.5Z" fill="#000"/>
<path d="M850.4 737L836.5 796.3" stroke="#000" stroke-width="2.1" fill="none"/><path d="M823.6 851.4L821.9 786.1Q829.4 792.2 836.5 796.3Q844.6 795.8 854.1 793.6Z" fill="#000"/>
<path d="M938.6 738.4L919.3 796.3" stroke="#000" stroke-width="2.1" fill="none"/><path d="M901.4 849.9L905.8 784.7Q912.7 791.5 919.3 796.3Q927.4 796.5 937.1 795.2Z" fill="#000"/>
<path d="M1030 742L1002 796.1" stroke="#000" stroke-width="2.1" fill="none"/><path d="M976 846.3L990.4 782.6Q996.1 790.4 1002 796.1Q1010 797.6 1019.7 797.8Z" fill="#000"/>
<path d="M1126.1 751.1L1084.4 795.7" stroke="#000" stroke-width="2.1" fill="none"/><path d="M1045.9 837L1076.9 779.6Q1080.4 788.7 1084.4 795.7Q1091.8 799.3 1101.1 802.1Z" fill="#000"/>
<path d="M1224.3 774.3L1166.8 794.7" stroke="#000" stroke-width="2.1" fill="none"/><path d="M1113.6 813.6L1167.6 777Q1166.5 786.6 1166.8 794.7Q1171.7 801.3 1178.6 808.1Z" fill="#000"/>
<path d="M1308.5 809.8L1249.8 793.2" stroke="#000" stroke-width="2.1" fill="none"/><path d="M1195.4 777.9L1260.7 779.2Q1254.2 786.4 1249.8 793.2Q1250 801.4 1251.8 810.9Z" fill="#000"/>
<path d="M1379.4 832.2L1333.3 792.3" stroke="#000" stroke-width="2.1" fill="none"/><path d="M1290.6 755.3L1349.2 784.2Q1340.3 787.9 1333.3 792.3Q1330 799.7 1327.6 809.1Z" fill="#000"/>
<path d="M1452.3 841.5L1416.8 791.9" stroke="#000" stroke-width="2.1" fill="none"/><path d="M1384 745.9L1434.1 787.7Q1424.5 789.3 1416.8 791.9Q1411.9 798.4 1407.3 806.9Z" fill="#000"/>
<path d="M1528.1 845.9L1500.1 791.7" stroke="#000" stroke-width="2.1" fill="none"/><path d="M1474.2 741.5L1517.9 790.1Q1508.2 790.2 1500.1 791.7Q1494.3 797.4 1488.6 805.2Z" fill="#000"/>
<path d="M1606 848.2L1583.4 791.6" stroke="#000" stroke-width="2.1" fill="none"/><path d="M1562.5 739.1L1601.2 791.7Q1591.5 790.9 1583.4 791.6Q1577 796.7 1570.6 803.9Z" fill="#000"/>
<path d="M1685 849.7L1666.6 791.5" stroke="#000" stroke-width="2.1" fill="none"/><path d="M1649.6 737.7L1684.3 792.9Q1674.8 791.5 1666.6 791.5Q1659.9 796.2 1652.9 802.9Z" fill="#000"/>
<path d="M1764.4 850.7L1749.8 791.5" stroke="#000" stroke-width="2.1" fill="none"/><path d="M1736.2 736.6L1767.4 794Q1757.9 791.9 1749.8 791.5Q1742.8 795.7 1735.4 801.9Z" fill="#000"/>
<path d="M1844.3 851.4L1832.9 791.5" stroke="#000" stroke-width="2.1" fill="none"/><path d="M1822.4 735.9L1850.4 795Q1841.1 792.4 1832.9 791.5Q1825.7 795.3 1818 801.1Z" fill="#000"/>
<path d="M1924.5 851.8L1916.1 791.4" stroke="#000" stroke-width="2.1" fill="none"/><path d="M1908.3 735.5L1933.4 795.8Q1924.2 792.7 1916.1 791.4Q1908.7 794.9 1900.7 800.3Z" fill="#000"/>
<path d="M420.4 818.5L422 879.4" stroke="#000" stroke-width="2.1" fill="none"/><path d="M423.4 935.9L405.3 873.2Q414.1 877.2 422 879.4Q429.7 876.8 438.3 872.3Z" fill="#000"/>
<path d="M503.8 818.5L505 879.4" stroke="#000" stroke-width="2.1" fill="none"/><path d="M506.1 935.9L488.4 873.1Q497.1 877.2 505 879.4Q512.7 876.9 521.3 872.4Z" fill="#000"/>
<path d="M587.4 818.4L588 879.4" stroke="#000" stroke-width="2.1" fill="none"/><path d="M588.5 935.9L571.4 872.9Q580.2 877.1 588 879.4Q595.8 877 604.4 872.6Z" fill="#000"/>
<path d="M671.3 818.4L671 879.4" stroke="#000" stroke-width="2.1" fill="none"/><path d="M670.7 935.9L654.5 872.7Q663.2 877 671 879.4Q678.8 877.1 687.5 872.8Z" fill="#000"/>
<path d="M755.3 818.5L754 879.4" stroke="#000" stroke-width="2.1" fill="none"/><path d="M752.7 935.9L737.6 872.4Q746.2 876.9 754 879.4Q761.8 877.2 770.6 873.1Z" fill="#000"/>
<path d="M839.7 818.5L836.9 879.4" stroke="#000" stroke-width="2.1" fill="none"/><path d="M834.4 935.9L820.8 872Q829.3 876.7 836.9 879.4Q844.8 877.4 853.7 873.5Z" fill="#000"/>
<path d="M925 818.6L919.9 879.4" stroke="#000" stroke-width="2.1" fill="none"/><path d="M915.2 935.7L904 871.4Q912.3 876.4 919.9 879.4Q927.8 877.7 936.9 874.1Z" fill="#000"/>
<path d="M1012.3 819.2L1002.7 879.4" stroke="#000" stroke-width="2.1" fill="none"/><path d="M993.8 935.2L987.5 870.2Q995.4 875.8 1002.7 879.4Q1010.8 878.3 1020.1 875.4Z" fill="#000"/>
<path d="M1103.3 821L1085.4 879.3" stroke="#000" stroke-width="2.1" fill="none"/><path d="M1068.8 933.3L1071.6 868.1Q1078.7 874.7 1085.4 879.3Q1093.6 879.3 1103.1 877.8Z" fill="#000"/>
<path d="M1210.2 835.2L1167.4 878.7" stroke="#000" stroke-width="2.1" fill="none"/><path d="M1127.8 919L1160.3 862.4Q1163.5 871.5 1167.4 878.7Q1174.7 882.5 1183.9 885.5Z" fill="#000"/>
<path d="M1294.1 917.8L1250.4 875.2" stroke="#000" stroke-width="2.1" fill="none"/><path d="M1210 835.7L1266.7 868.1Q1257.6 871.3 1250.4 875.2Q1246.7 882.5 1243.7 891.7Z" fill="#000"/>
<path d="M1354.5 932.2L1334.4 874.6" stroke="#000" stroke-width="2.1" fill="none"/><path d="M1315.8 821.2L1352.2 875.5Q1342.6 874.3 1334.4 874.6Q1327.8 879.4 1321 886.3Z" fill="#000"/>
<path d="M1430.2 934.2L1417.7 874.5" stroke="#000" stroke-width="2.1" fill="none"/><path d="M1406.2 819.2L1435.3 877.7Q1425.9 875.2 1417.7 874.5Q1410.6 878.4 1403 884.4Z" fill="#000"/>
<path d="M1508.6 935L1501 874.5" stroke="#000" stroke-width="2.1" fill="none"/><path d="M1493.9 818.4L1518.2 879Q1509 875.9 1501 874.5Q1493.5 877.8 1485.4 883.2Z" fill="#000"/>
<path d="M1588.6 935.3L1584.1 874.4" stroke="#000" stroke-width="2.1" fill="none"/><path d="M1580 818.1L1601.1 879.9Q1592.1 876.3 1584.1 874.4Q1576.5 877.4 1568.2 882.3Z" fill="#000"/>
<path d="M1669.1 935.4L1667.3 874.4" stroke="#000" stroke-width="2.1" fill="none"/><path d="M1665.6 818L1684 880.7Q1675.1 876.6 1667.3 874.4Q1659.6 877.1 1651 881.6Z" fill="#000"/>
<path d="M1749.5 935.4L1750.4 874.4" stroke="#000" stroke-width="2.1" fill="none"/><path d="M1751.3 817.9L1766.8 881.4Q1758.2 877 1750.4 874.4Q1742.6 876.7 1733.8 880.9Z" fill="#000"/>
<path d="M1829.7 935.3L1833.6 874.4" stroke="#000" stroke-width="2.1" fill="none"/><path d="M1837.1 818.1L1849.6 882.2Q1841.2 877.3 1833.6 874.4Q1825.6 876.3 1816.7 880.1Z" fill="#000"/>
<path d="M1910.1 935.1L1916.7 874.5" stroke="#000" stroke-width="2.1" fill="none"/><path d="M1922.8 818.3L1932.4 882.9Q1924.2 877.7 1916.7 874.5Q1908.7 876 1899.6 879.3Z" fill="#000"/>
<path d="M416.4 901.7L422.1 962.5" stroke="#000" stroke-width="2.1" fill="none"/><path d="M427.5 1018.7L405.1 957.3Q414.1 960.8 422.1 962.5Q429.7 959.3 437.9 954.2Z" fill="#000"/>
<path d="M499.2 901.7L505.2 962.5" stroke="#000" stroke-width="2.1" fill="none"/><path d="M510.7 1018.7L488.1 957.4Q497.2 960.8 505.2 962.5Q512.7 959.3 520.9 954.2Z" fill="#000"/>
<path d="M582 901.8L588.2 962.5" stroke="#000" stroke-width="2.1" fill="none"/><path d="M594 1018.7L571.1 957.5Q580.2 960.9 588.2 962.5Q595.7 959.3 603.9 954.1Z" fill="#000"/>
<path d="M664.6 901.8L671.3 962.5" stroke="#000" stroke-width="2.1" fill="none"/><path d="M677.5 1018.6L654.1 957.6Q663.2 960.9 671.3 962.5Q678.8 959.2 686.9 954Z" fill="#000"/>
<path d="M747.1 901.9L754.3 962.5" stroke="#000" stroke-width="2.1" fill="none"/><path d="M761 1018.6L737.1 957.7Q746.3 961 754.3 962.5Q761.8 959.2 769.9 953.9Z" fill="#000"/>
<path d="M829.4 902L837.4 962.4" stroke="#000" stroke-width="2.1" fill="none"/><path d="M844.8 1018.5L820.1 958Q829.3 961.1 837.4 962.4Q844.8 959 852.9 953.6Z" fill="#000"/>
<path d="M911.1 902.2L920.5 962.4" stroke="#000" stroke-width="2.1" fill="none"/><path d="M929.1 1018.3L903.1 958.3Q912.4 961.3 920.5 962.4Q927.8 958.9 935.7 953.3Z" fill="#000"/>
<path d="M991.9 902.5L1003.6 962.4" stroke="#000" stroke-width="2.1" fill="none"/><path d="M1014.4 1017.9L986.1 959Q995.5 961.6 1003.6 962.4Q1010.8 958.6 1018.5 952.7Z" fill="#000"/>
<path d="M1068.5 904.2L1086.9 962.4" stroke="#000" stroke-width="2.1" fill="none"/><path d="M1103.9 1016.2L1069.1 960.9Q1078.7 962.4 1086.9 962.4Q1093.6 957.7 1100.6 951Z" fill="#000"/>
<path d="M1128.2 918.2L1170.9 961.8" stroke="#000" stroke-width="2.1" fill="none"/><path d="M1210.5 1002.1L1154.4 968.5Q1163.7 965.5 1170.9 961.8Q1174.8 954.6 1178 945.4Z" fill="#000"/>
<path d="M1210.3 1000.8L1254 958.2" stroke="#000" stroke-width="2.1" fill="none"/><path d="M1294.5 918.8L1260.7 974.7Q1257.7 965.5 1254 958.2Q1246.8 954.3 1237.7 951.1Z" fill="#000"/>
<path d="M1314.6 1014.7L1336.1 957.6" stroke="#000" stroke-width="2.1" fill="none"/><path d="M1356 904.8L1349.2 969.7Q1342.6 962.6 1336.1 957.6Q1328 957.1 1318.3 958.1Z" fill="#000"/>
<path d="M1403.4 1016.5L1418.9 957.6" stroke="#000" stroke-width="2.1" fill="none"/><path d="M1433.3 902.9L1433.1 968.2Q1425.8 961.9 1418.9 957.6Q1410.7 957.9 1401.2 959.8Z" fill="#000"/>
<path d="M1488.3 1017L1501.8 957.5" stroke="#000" stroke-width="2.1" fill="none"/><path d="M1514.4 902.4L1516.4 967.7Q1508.9 961.6 1501.8 957.5Q1493.7 958.1 1484.3 960.4Z" fill="#000"/>
<path d="M1571.7 1017.1L1584.9 957.5" stroke="#000" stroke-width="2.1" fill="none"/><path d="M1597.1 902.4L1599.5 967.6Q1592 961.6 1584.9 957.5Q1576.7 958.2 1567.3 960.5Z" fill="#000"/>
<path d="M1654.2 1017L1667.9 957.5" stroke="#000" stroke-width="2.1" fill="none"/><path d="M1680.6 902.5L1682.5 967.8Q1675 961.6 1667.9 957.5Q1659.8 958.1 1650.3 960.4Z" fill="#000"/>
<path d="M1736.2 1016.7L1751 957.5" stroke="#000" stroke-width="2.1" fill="none"/><path d="M1764.7 902.7L1765.4 968.1Q1758 961.8 1751 957.5Q1742.8 958 1733.4 960Z" fill="#000"/>
<path d="M1817.3 1016.2L1834.1 957.6" stroke="#000" stroke-width="2.1" fill="none"/><path d="M1849.7 903.3L1848.1 968.6Q1840.9 962 1834.1 957.6Q1825.9 957.7 1816.4 959.5Z" fill="#000"/>
<path d="M1898.3 1015.6L1917.2 957.6" stroke="#000" stroke-width="2.1" fill="none"/><path d="M1934.7 903.9L1930.8 969.1Q1923.9 962.3 1917.2 957.6Q1909.1 957.5 1899.5 958.8Z" fill="#000"/>
<path d="M413 985.2L422.3 1045.5" stroke="#000" stroke-width="2.1" fill="none"/><path d="M430.8 1101.3L405 1041.3Q414.2 1044.3 422.3 1045.5Q429.6 1041.9 437.6 1036.3Z" fill="#000"/>
<path d="M495.2 985.3L505.3 1045.5" stroke="#000" stroke-width="2.1" fill="none"/><path d="M514.8 1101.2L488 1041.6Q497.3 1044.4 505.3 1045.5Q512.6 1041.8 520.5 1036.1Z" fill="#000"/>
<path d="M577.1 985.5L588.4 1045.5" stroke="#000" stroke-width="2.1" fill="none"/><path d="M598.9 1101L571 1041.9Q580.3 1044.5 588.4 1045.5Q595.6 1041.7 603.4 1035.8Z" fill="#000"/>
<path d="M658.8 985.8L671.5 1045.4" stroke="#000" stroke-width="2.1" fill="none"/><path d="M683.3 1100.7L654 1042.3Q663.4 1044.7 671.5 1045.4Q678.6 1041.5 686.3 1035.5Z" fill="#000"/>
<path d="M740 986.2L754.6 1045.4" stroke="#000" stroke-width="2.1" fill="none"/><path d="M768.1 1100.3L737 1042.9Q746.5 1045 754.6 1045.4Q761.6 1041.2 769 1035Z" fill="#000"/>
<path d="M820.5 986.9L837.8 1045.4" stroke="#000" stroke-width="2.1" fill="none"/><path d="M853.8 1099.6L820 1043.6Q829.6 1045.3 837.8 1045.4Q844.6 1040.9 851.7 1034.3Z" fill="#000"/>
<path d="M899.5 988.2L921 1045.3" stroke="#000" stroke-width="2.1" fill="none"/><path d="M940.8 1098.2L903.2 1044.9Q912.8 1045.8 921 1045.3Q927.4 1040.4 934.1 1033.3Z" fill="#000"/>
<path d="M975.8 991.2L1004.3 1045.2" stroke="#000" stroke-width="2.1" fill="none"/><path d="M1030.6 1095.2L986.6 1047Q996.3 1046.7 1004.3 1045.2Q1010.1 1039.5 1015.8 1031.6Z" fill="#000"/>
<path d="M1047.1 999.4L1087.8 1044.9" stroke="#000" stroke-width="2.1" fill="none"/><path d="M1125.5 1087L1071 1050.9Q1080.4 1048.3 1087.8 1044.9Q1092 1037.9 1095.6 1028.9Z" fill="#000"/>
<path d="M1114.4 1022.4L1171.5 1043.9" stroke="#000" stroke-width="2.1" fill="none"/><path d="M1224.4 1063.8L1159.4 1057Q1166.5 1050.3 1171.5 1043.9Q1172 1035.7 1171 1026.1Z" fill="#000"/>
<path d="M1196.1 1059.7L1254.6 1042.3" stroke="#000" stroke-width="2.1" fill="none"/><path d="M1308.8 1026.2L1252.9 1060Q1254.5 1050.4 1254.6 1042.3Q1250.1 1035.5 1243.5 1028.4Z" fill="#000"/>
<path d="M1291.7 1082.1L1337.1 1041.3" stroke="#000" stroke-width="2.1" fill="none"/><path d="M1379.1 1003.5L1343.1 1058.1Q1340.5 1048.7 1337.1 1041.3Q1330.1 1037.1 1321.1 1033.5Z" fill="#000"/>
<path d="M1384.1 1090.5L1419.7 1041" stroke="#000" stroke-width="2.1" fill="none"/><path d="M1452.7 995.1L1429.2 1056Q1424.7 1047.5 1419.7 1041Q1412 1038.4 1402.4 1036.8Z" fill="#000"/>
<path d="M1472.5 1093.9L1502.5 1040.8" stroke="#000" stroke-width="2.1" fill="none"/><path d="M1530.3 991.6L1513.6 1054.8Q1508.1 1046.8 1502.5 1040.8Q1494.5 1039.1 1484.9 1038.5Z" fill="#000"/>
<path d="M1558.3 1095.4L1585.4 1040.8" stroke="#000" stroke-width="2.1" fill="none"/><path d="M1610.6 990.2L1597.2 1054.1Q1591.4 1046.4 1585.4 1040.8Q1577.4 1039.4 1567.7 1039.4Z" fill="#000"/>
<path d="M1642.4 1095.9L1668.4 1040.7" stroke="#000" stroke-width="2.1" fill="none"/><path d="M1692.5 989.6L1680.5 1053.8Q1674.4 1046.2 1668.4 1040.7Q1660.3 1039.6 1650.6 1039.8Z" fill="#000"/>
<path d="M1725.4 1095.9L1751.4 1040.7" stroke="#000" stroke-width="2.1" fill="none"/><path d="M1775.6 989.7L1763.5 1053.8Q1757.5 1046.2 1751.4 1040.7Q1743.4 1039.6 1733.7 1039.7Z" fill="#000"/>
<path d="M1807.4 1095.4L1834.5 1040.8" stroke="#000" stroke-width="2.1" fill="none"/><path d="M1859.6 990.1L1846.3 1054.1Q1840.4 1046.4 1834.5 1040.8Q1826.5 1039.4 1816.8 1039.4Z" fill="#000"/>
<path d="M1889.1 1094.7L1917.6 1040.8" stroke="#000" stroke-width="2.1" fill="none"/><path d="M1944 990.8L1929.1 1054.4Q1923.4 1046.6 1917.6 1040.8Q1909.6 1039.3 1899.9 1039Z" fill="#000"/>
<path d="M409.7 1068.8L422.4 1128.5" stroke="#000" stroke-width="2.1" fill="none"/><path d="M434.2 1183.7L404.9 1125.4Q414.3 1127.8 422.4 1128.5Q429.5 1124.5 437.2 1118.5Z" fill="#000"/>
<path d="M491.5 1069.1L505.5 1128.5" stroke="#000" stroke-width="2.1" fill="none"/><path d="M518.5 1183.5L487.9 1125.7Q497.4 1127.9 505.5 1128.5Q512.5 1124.3 520 1118.2Z" fill="#000"/>
<path d="M572.9 1069.5L588.6 1128.4" stroke="#000" stroke-width="2.1" fill="none"/><path d="M603.1 1183L570.9 1126.2Q580.4 1128.1 588.6 1128.4Q595.5 1124.1 602.8 1117.7Z" fill="#000"/>
<path d="M653.9 1070.1L671.7 1128.4" stroke="#000" stroke-width="2.1" fill="none"/><path d="M688.3 1182.4L654 1126.8Q663.6 1128.4 671.7 1128.4Q678.5 1123.8 685.5 1117.2Z" fill="#000"/>
<path d="M734.1 1071L754.9 1128.4" stroke="#000" stroke-width="2.1" fill="none"/><path d="M774.2 1181.5L737.1 1127.7Q746.7 1128.8 754.9 1128.4Q761.4 1123.5 768.1 1116.5Z" fill="#000"/>
<path d="M813.2 1072.6L838.1 1128.3" stroke="#000" stroke-width="2.1" fill="none"/><path d="M861.1 1179.9L820.3 1128.9Q830 1129.3 838.1 1128.3Q844.2 1122.9 850.4 1115.5Z" fill="#000"/>
<path d="M890.8 1075.4L921.3 1128.2" stroke="#000" stroke-width="2.1" fill="none"/><path d="M949.6 1177.1L903.7 1130.7Q913.4 1130 921.3 1128.2Q926.9 1122.2 932.3 1114.1Z" fill="#000"/>
<path d="M965.9 1080.9L1004.7 1128" stroke="#000" stroke-width="2.1" fill="none"/><path d="M1040.6 1171.6L987.7 1133.3Q997.2 1131.1 1004.7 1128Q1009.2 1121.1 1013.2 1112.3Z" fill="#000"/>
<path d="M1038.6 1091.9L1088.2 1127.5" stroke="#000" stroke-width="2.1" fill="none"/><path d="M1134 1160.5L1073.1 1137Q1081.7 1132.4 1088.2 1127.5Q1090.8 1119.8 1092.4 1110.2Z" fill="#000"/>
<path d="M1112.5 1111.5L1171.6 1126.6" stroke="#000" stroke-width="2.1" fill="none"/><path d="M1226.3 1140.6L1161 1141Q1167.3 1133.6 1171.6 1126.6Q1171.2 1118.5 1169.2 1109Z" fill="#000"/>
<path d="M1194.5 1135.4L1254.7 1125.6" stroke="#000" stroke-width="2.1" fill="none"/><path d="M1310.4 1116.5L1250.7 1143Q1253.6 1133.7 1254.7 1125.6Q1251 1118.3 1245.4 1110.4Z" fill="#000"/>
<path d="M1283.8 1153.8L1337.4 1124.8" stroke="#000" stroke-width="2.1" fill="none"/><path d="M1387.1 1098L1339.4 1142.5Q1339 1132.8 1337.4 1124.8Q1331.6 1119.1 1323.7 1113.5Z" fill="#000"/>
<path d="M1374 1164.3L1420.2 1124.4" stroke="#000" stroke-width="2.1" fill="none"/><path d="M1462.9 1087.5L1425.9 1141.3Q1423.4 1131.9 1420.2 1124.4Q1413.2 1120.1 1404.3 1116.3Z" fill="#000"/>
<path d="M1462.3 1169.7L1503 1124.2" stroke="#000" stroke-width="2.1" fill="none"/><path d="M1540.6 1082L1510.8 1140.2Q1507.2 1131.2 1503 1124.2Q1495.5 1120.8 1486.2 1118.2Z" fill="#000"/>
<path d="M1548.7 1172.5L1585.8 1124" stroke="#000" stroke-width="2.1" fill="none"/><path d="M1620.2 1079.2L1594.9 1139.4Q1590.6 1130.7 1585.8 1124Q1578.2 1121.2 1568.7 1119.3Z" fill="#000"/>
<path d="M1633.7 1173.9L1668.8 1124" stroke="#000" stroke-width="2.1" fill="none"/><path d="M1701.3 1077.8L1678.4 1139Q1673.8 1130.4 1668.8 1124Q1661 1121.5 1651.4 1120Z" fill="#000"/>
<path d="M1717.5 1174.4L1751.8 1124" stroke="#000" stroke-width="2.1" fill="none"/><path d="M1783.6 1077.3L1761.7 1138.8Q1756.9 1130.3 1751.8 1124Q1744 1121.6 1734.4 1120.2Z" fill="#000"/>
<path d="M1800.2 1174.2L1834.8 1124" stroke="#000" stroke-width="2.1" fill="none"/><path d="M1866.9 1077.4L1844.6 1138.8Q1839.9 1130.4 1834.8 1124Q1827 1121.5 1817.4 1120.1Z" fill="#000"/>
<path d="M1882.5 1173.7L1917.9 1124" stroke="#000" stroke-width="2.1" fill="none"/><path d="M1950.7 1078L1927.4 1139Q1922.9 1130.5 1917.9 1124Q1910.1 1121.4 1900.6 1119.9Z" fill="#000"/>
<path d="M406.7 1152.6L422.5 1211.5" stroke="#000" stroke-width="2.1" fill="none"/><path d="M437.2 1266L404.9 1209.3Q414.4 1211.2 422.5 1211.5Q429.5 1207.1 436.7 1200.7Z" fill="#000"/>
<path d="M488.1 1153L505.6 1211.5" stroke="#000" stroke-width="2.1" fill="none"/><path d="M521.9 1265.6L487.9 1209.8Q497.5 1211.4 505.6 1211.5Q512.4 1206.9 519.5 1200.3Z" fill="#000"/>
<path d="M569.1 1153.7L588.8 1211.4" stroke="#000" stroke-width="2.1" fill="none"/><path d="M607 1264.9L571 1210.4Q580.6 1211.7 588.8 1211.4Q595.4 1206.6 602.2 1199.8Z" fill="#000"/>
<path d="M649.5 1154.6L671.9 1211.4" stroke="#000" stroke-width="2.1" fill="none"/><path d="M692.7 1263.9L654.1 1211.2Q663.8 1212 671.9 1211.4Q678.3 1206.3 684.8 1199.1Z" fill="#000"/>
<path d="M729 1156.2L755.1 1211.3" stroke="#000" stroke-width="2.1" fill="none"/><path d="M779.2 1262.4L737.3 1212.3Q747 1212.5 755.1 1211.3Q761.1 1205.8 767.1 1198.2Z" fill="#000"/>
<path d="M807.6 1158.5L838.3 1211.2" stroke="#000" stroke-width="2.1" fill="none"/><path d="M866.8 1260L820.7 1213.7Q830.4 1213.1 838.3 1211.2Q843.8 1205.2 849.2 1197.1Z" fill="#000"/>
<path d="M884.6 1162.6L921.6 1211" stroke="#000" stroke-width="2.1" fill="none"/><path d="M955.9 1255.9L904.4 1215.7Q913.9 1213.9 921.6 1211Q926.3 1204.4 930.6 1195.7Z" fill="#000"/>
<path d="M960.1 1169.4L1004.9 1210.8" stroke="#000" stroke-width="2.1" fill="none"/><path d="M1046.5 1249.1L988.8 1218.3Q997.9 1214.9 1004.9 1210.8Q1008.5 1203.4 1011.2 1194.1Z" fill="#000"/>
<path d="M1035 1180.7L1088.3 1210.3" stroke="#000" stroke-width="2.1" fill="none"/><path d="M1137.7 1237.7L1074.5 1221.5Q1082.4 1215.9 1088.3 1210.3Q1090 1202.3 1090.5 1192.6Z" fill="#000"/>
<path d="M1111.9 1196.9L1171.6 1209.6" stroke="#000" stroke-width="2.1" fill="none"/><path d="M1226.9 1221.3L1161.6 1224.3Q1167.6 1216.7 1171.6 1209.6Q1170.9 1201.5 1168.5 1192Z" fill="#000"/>
<path d="M1194 1215.1L1254.7 1208.8" stroke="#000" stroke-width="2.1" fill="none"/><path d="M1310.9 1203L1249.7 1225.9Q1253.1 1216.8 1254.7 1208.8Q1251.5 1201.3 1246.3 1193.1Z" fill="#000"/>
<path d="M1280.7 1230.1L1337.6 1208.2" stroke="#000" stroke-width="2.1" fill="none"/><path d="M1390.3 1187.8L1337.3 1226Q1338.1 1216.3 1337.6 1208.2Q1332.5 1201.7 1325.4 1195.2Z" fill="#000"/>
<path d="M1368.7 1240.2L1420.4 1207.7" stroke="#000" stroke-width="2.1" fill="none"/><path d="M1468.2 1177.7L1423.5 1225.3Q1422.5 1215.6 1420.4 1207.7Q1414.2 1202.4 1405.9 1197.3Z" fill="#000"/>
<path d="M1456.2 1246.3L1503.2 1207.5" stroke="#000" stroke-width="2.1" fill="none"/><path d="M1546.8 1171.5L1508.6 1224.5Q1506.3 1215 1503.2 1207.5Q1496.4 1203 1487.5 1199Z" fill="#000"/>
<path d="M1542.4 1249.9L1586.1 1207.3" stroke="#000" stroke-width="2.1" fill="none"/><path d="M1626.6 1167.9L1592.8 1223.8Q1589.8 1214.6 1586.1 1207.3Q1578.9 1203.4 1569.8 1200.2Z" fill="#000"/>
<path d="M1627.7 1252.1L1669 1207.2" stroke="#000" stroke-width="2.1" fill="none"/><path d="M1707.4 1165.7L1676.6 1223.3Q1673.2 1214.3 1669 1207.2Q1661.7 1203.7 1652.4 1201Z" fill="#000"/>
<path d="M1711.9 1253.2L1752 1207.2" stroke="#000" stroke-width="2.1" fill="none"/><path d="M1789.1 1164.6L1760.1 1223.1Q1756.3 1214.1 1752 1207.2Q1744.6 1203.9 1735.2 1201.4Z" fill="#000"/>
<path d="M1795.2 1253.3L1835 1207.2" stroke="#000" stroke-width="2.1" fill="none"/><path d="M1872 1164.4L1843.2 1223Q1839.4 1214.1 1835 1207.2Q1827.6 1203.9 1818.2 1201.5Z" fill="#000"/>
<path d="M1877.8 1253L1918.1 1207.2" stroke="#000" stroke-width="2.1" fill="none"/><path d="M1955.4 1164.8L1926 1223.1Q1922.4 1214.1 1918.1 1207.2Q1910.7 1203.8 1901.3 1201.3Z" fill="#000"/>
<path d="M403.9 1236.4L422.7 1294.5" stroke="#000" stroke-width="2.1" fill="none"/><path d="M440.1 1348.2L404.9 1293.2Q414.5 1294.6 422.7 1294.5Q429.4 1289.8 436.3 1283Z" fill="#000"/>
<path d="M484.9 1237.1L505.8 1294.4" stroke="#000" stroke-width="2.1" fill="none"/><path d="M525.1 1347.5L488 1293.8Q497.6 1294.8 505.8 1294.4Q512.3 1289.5 519 1282.5Z" fill="#000"/>
<path d="M565.6 1238L588.9 1294.4" stroke="#000" stroke-width="2.1" fill="none"/><path d="M610.5 1346.6L571.1 1294.5Q580.8 1295.2 588.9 1294.4Q595.2 1289.2 601.6 1281.9Z" fill="#000"/>
<path d="M645.7 1239.4L672.1 1294.3" stroke="#000" stroke-width="2.1" fill="none"/><path d="M696.5 1345.3L654.3 1295.4Q664 1295.6 672.1 1294.3Q678.1 1288.8 684 1281.2Z" fill="#000"/>
<path d="M724.9 1241.4L755.3 1294.3" stroke="#000" stroke-width="2.1" fill="none"/><path d="M783.4 1343.2L737.6 1296.7Q747.3 1296.1 755.3 1294.3Q760.8 1288.3 766.2 1280.2Z" fill="#000"/>
<path d="M803.2 1244.4L838.5 1294.1" stroke="#000" stroke-width="2.1" fill="none"/><path d="M871.2 1340.2L821.2 1298.2Q830.8 1296.7 838.5 1294.1Q843.5 1287.7 848.1 1279.1Z" fill="#000"/>
<path d="M880.2 1249.2L921.8 1293.9" stroke="#000" stroke-width="2.1" fill="none"/><path d="M960.3 1335.3L905.1 1300.2Q914.4 1297.5 921.8 1293.9Q925.9 1286.9 929.3 1277.8Z" fill="#000"/>
<path d="M956.6 1256.6L1005.1 1293.6" stroke="#000" stroke-width="2.1" fill="none"/><path d="M1050 1327.9L989.8 1302.7Q998.5 1298.4 1005.1 1293.6Q1007.9 1285.9 1009.8 1276.4Z" fill="#000"/>
<path d="M1033.1 1267.4L1088.4 1293.1" stroke="#000" stroke-width="2.1" fill="none"/><path d="M1139.6 1317L1075.4 1305.3Q1082.9 1299.2 1088.4 1293.1Q1089.5 1285.1 1089.3 1275.4Z" fill="#000"/>
<path d="M1111.7 1281.3L1171.6 1292.6" stroke="#000" stroke-width="2.1" fill="none"/><path d="M1227.2 1303L1162 1307.5Q1167.8 1299.8 1171.6 1292.6Q1170.7 1284.4 1168.1 1275.1Z" fill="#000"/>
<path d="M1193.8 1296.2L1254.7 1291.9" stroke="#000" stroke-width="2.1" fill="none"/><path d="M1311.1 1287.9L1249.2 1308.8Q1252.8 1299.9 1254.7 1291.9Q1251.7 1284.3 1246.8 1275.9Z" fill="#000"/>
<path d="M1279.2 1308.7L1337.6 1291.4" stroke="#000" stroke-width="2.1" fill="none"/><path d="M1391.8 1275.3L1335.9 1309.1Q1337.5 1299.5 1337.6 1291.4Q1333.1 1284.6 1326.5 1277.5Z" fill="#000"/>
<path d="M1365.8 1317.9L1420.5 1291" stroke="#000" stroke-width="2.1" fill="none"/><path d="M1471.2 1266.1L1421.8 1308.8Q1421.8 1299 1420.5 1291Q1414.9 1285 1407.2 1279.1Z" fill="#000"/>
<path d="M1452.3 1324.1L1503.4 1290.7" stroke="#000" stroke-width="2.1" fill="none"/><path d="M1550.7 1259.8L1506.8 1308.2Q1505.6 1298.6 1503.4 1290.7Q1497.1 1285.5 1488.7 1280.6Z" fill="#000"/>
<path d="M1538.3 1328.2L1586.3 1290.5" stroke="#000" stroke-width="2.1" fill="none"/><path d="M1630.8 1255.7L1591.2 1307.7Q1589.2 1298.2 1586.3 1290.5Q1579.6 1285.9 1570.8 1281.7Z" fill="#000"/>
<path d="M1623.5 1330.8L1669.2 1290.4" stroke="#000" stroke-width="2.1" fill="none"/><path d="M1711.6 1253L1675.1 1307.2Q1672.6 1297.9 1669.2 1290.4Q1662.3 1286.2 1653.3 1282.5Z" fill="#000"/>
<path d="M1707.9 1332.3L1752.2 1290.4" stroke="#000" stroke-width="2.1" fill="none"/><path d="M1793.2 1251.5L1758.7 1307Q1755.8 1297.7 1752.2 1290.4Q1745.1 1286.4 1736 1283Z" fill="#000"/>
<path d="M1791.4 1332.8L1835.2 1290.3" stroke="#000" stroke-width="2.1" fill="none"/><path d="M1875.7 1251L1841.9 1306.9Q1838.9 1297.6 1835.2 1290.3Q1828 1286.4 1818.9 1283.2Z" fill="#000"/>
<path d="M1874.4 1332.8L1918.2 1290.4" stroke="#000" stroke-width="2.1" fill="none"/><path d="M1958.8 1251.1L1924.9 1306.9Q1921.9 1297.6 1918.2 1290.4Q1911.1 1286.4 1901.9 1283.2Z" fill="#000"/>
<path d="M401.3 1320.4L422.8 1377.5" stroke="#000" stroke-width="2.1" fill="none"/><path d="M442.6 1430.4L405 1377Q414.6 1378 422.8 1377.5Q429.2 1372.5 435.9 1365.4Z" fill="#000"/>
<path d="M482 1321.3L505.9 1377.4" stroke="#000" stroke-width="2.1" fill="none"/><path d="M528 1429.4L488.1 1377.7Q497.8 1378.3 505.9 1377.4Q512.1 1372.2 518.5 1364.8Z" fill="#000"/>
<path d="M562.4 1322.5L589.1 1377.4" stroke="#000" stroke-width="2.1" fill="none"/><path d="M613.8 1428.2L571.3 1378.6Q581 1378.6 589.1 1377.4Q595 1371.8 601 1364.1Z" fill="#000"/>
<path d="M642.2 1324.2L672.2 1377.3" stroke="#000" stroke-width="2.1" fill="none"/><path d="M700 1426.5L654.6 1379.6Q664.2 1379 672.2 1377.3Q677.8 1371.4 683.3 1363.3Z" fill="#000"/>
<path d="M721.3 1326.6L755.4 1377.2" stroke="#000" stroke-width="2.1" fill="none"/><path d="M787 1424L738 1380.9Q747.6 1379.6 755.4 1377.2Q760.5 1370.8 765.4 1362.4Z" fill="#000"/>
<path d="M799.5 1330.2L838.7 1377" stroke="#000" stroke-width="2.1" fill="none"/><path d="M874.9 1420.4L821.7 1382.5Q831.1 1380.2 838.7 1377Q843.1 1370.2 847 1361.3Z" fill="#000"/>
<path d="M877 1335.5L921.9 1376.8" stroke="#000" stroke-width="2.1" fill="none"/><path d="M963.5 1415.1L905.8 1384.4Q914.9 1380.9 921.9 1376.8Q925.4 1369.4 928.2 1360.1Z" fill="#000"/>
<path d="M954.2 1343L1005.2 1376.5" stroke="#000" stroke-width="2.1" fill="none"/><path d="M1052.4 1407.5L990.5 1386.6Q998.9 1381.7 1005.2 1376.5Q1007.5 1368.7 1008.7 1359Z" fill="#000"/>
<path d="M1032 1353L1088.5 1376.1" stroke="#000" stroke-width="2.1" fill="none"/><path d="M1140.8 1397.4L1076 1388.8Q1083.3 1382.4 1088.5 1376.1Q1089.2 1367.9 1088.5 1358.3Z" fill="#000"/>
<path d="M1111.5 1365L1171.6 1375.6" stroke="#000" stroke-width="2.1" fill="none"/><path d="M1227.3 1385.3L1162.2 1390.6Q1167.9 1382.8 1171.6 1375.6Q1170.6 1367.5 1167.9 1358.1Z" fill="#000"/>
<path d="M1193.7 1377.5L1254.7 1375" stroke="#000" stroke-width="2.1" fill="none"/><path d="M1311.2 1372.7L1248.7 1391.8Q1252.6 1382.9 1254.7 1375Q1252 1367.3 1247.3 1358.8Z" fill="#000"/>
<path d="M1278.3 1388.4L1337.7 1374.6" stroke="#000" stroke-width="2.1" fill="none"/><path d="M1392.7 1361.7L1334.9 1392.1Q1337.1 1382.7 1337.7 1374.6Q1333.6 1367.5 1327.4 1360Z" fill="#000"/>
<path d="M1363.9 1396.6L1420.6 1374.2" stroke="#000" stroke-width="2.1" fill="none"/><path d="M1473.1 1353.4L1420.4 1392Q1421.2 1382.3 1420.6 1374.2Q1415.5 1367.8 1408.3 1361.3Z" fill="#000"/>
<path d="M1449.7 1402.7L1503.5 1373.9" stroke="#000" stroke-width="2.1" fill="none"/><path d="M1553.3 1347.3L1505.4 1391.7Q1505.1 1382 1503.5 1373.9Q1497.7 1368.2 1489.8 1362.5Z" fill="#000"/>
<path d="M1535.3 1407L1586.4 1373.8" stroke="#000" stroke-width="2.1" fill="none"/><path d="M1633.8 1343L1589.8 1391.2Q1588.7 1381.6 1586.4 1373.8Q1580.2 1368.5 1571.8 1363.6Z" fill="#000"/>
<path d="M1620.4 1410L1669.4 1373.6" stroke="#000" stroke-width="2.1" fill="none"/><path d="M1714.7 1339.9L1673.8 1390.9Q1672.1 1381.3 1669.4 1373.6Q1662.8 1368.8 1654.1 1364.4Z" fill="#000"/>
<path d="M1704.8 1411.8L1752.3 1373.6" stroke="#000" stroke-width="2.1" fill="none"/><path d="M1796.3 1338.1L1757.5 1390.6Q1755.3 1381.1 1752.3 1373.6Q1745.6 1369 1736.8 1364.9Z" fill="#000"/>
<path d="M1788.5 1412.6L1835.3 1373.5" stroke="#000" stroke-width="2.1" fill="none"/><path d="M1878.7 1337.3L1840.7 1390.5Q1838.5 1381 1835.3 1373.5Q1828.5 1369.1 1819.6 1365.1Z" fill="#000"/>
<path d="M1871.7 1412.9L1918.4 1373.5" stroke="#000" stroke-width="2.1" fill="none"/><path d="M1961.5 1337.1L1923.9 1390.4Q1921.5 1381 1918.4 1373.5Q1911.5 1369.1 1902.6 1365.2Z" fill="#000"/>
<path d="M399.1 1404.3L422.9 1460.5" stroke="#000" stroke-width="2.1" fill="none"/><path d="M444.9 1512.5L405.1 1460.7Q414.8 1461.3 422.9 1460.5Q429.1 1455.2 435.4 1447.8Z" fill="#000"/>
<path d="M479.6 1405.4L506 1460.4" stroke="#000" stroke-width="2.1" fill="none"/><path d="M530.4 1511.4L488.2 1461.5Q497.9 1461.6 506 1460.4Q512 1454.9 518 1447.2Z" fill="#000"/>
<path d="M559.8 1406.9L589.2 1460.3" stroke="#000" stroke-width="2.1" fill="none"/><path d="M616.3 1509.9L571.5 1462.4Q581.2 1462 589.2 1460.3Q594.8 1454.5 600.4 1446.5Z" fill="#000"/>
<path d="M639.4 1408.9L672.3 1460.3" stroke="#000" stroke-width="2.1" fill="none"/><path d="M702.8 1507.8L654.8 1463.5Q664.5 1462.4 672.3 1460.3Q677.6 1454 682.6 1445.7Z" fill="#000"/>
<path d="M718.4 1411.8L755.5 1460.1" stroke="#000" stroke-width="2.1" fill="none"/><path d="M790 1504.9L738.4 1464.9Q747.9 1463 755.5 1460.1Q760.3 1453.5 764.5 1444.8Z" fill="#000"/>
<path d="M796.8 1415.7L838.8 1460" stroke="#000" stroke-width="2.1" fill="none"/><path d="M877.6 1501L822.2 1466.4Q831.5 1463.6 838.8 1460Q842.8 1452.9 846.1 1443.8Z" fill="#000"/>
<path d="M874.7 1421.2L922 1459.7" stroke="#000" stroke-width="2.1" fill="none"/><path d="M965.9 1495.4L906.4 1468.3Q915.2 1464.3 922 1459.7Q925.1 1452.2 927.2 1442.7Z" fill="#000"/>
<path d="M952.6 1428.7L1005.3 1459.4" stroke="#000" stroke-width="2.1" fill="none"/><path d="M1054.1 1487.9L991.2 1470.3Q999.3 1464.9 1005.3 1459.4Q1007.1 1451.5 1007.8 1441.8Z" fill="#000"/>
<path d="M1031.2 1437.9L1088.5 1459" stroke="#000" stroke-width="2.1" fill="none"/><path d="M1141.5 1478.6L1076.5 1472.2Q1083.5 1465.5 1088.5 1459Q1088.9 1450.9 1087.9 1441.2Z" fill="#000"/>
<path d="M1111.5 1448.6L1171.6 1458.6" stroke="#000" stroke-width="2.1" fill="none"/><path d="M1227.4 1467.8L1162.3 1473.7Q1168 1465.9 1171.6 1458.6Q1170.5 1450.5 1167.7 1441.2Z" fill="#000"/>
<path d="M1193.7 1459.3L1254.7 1458.1" stroke="#000" stroke-width="2.1" fill="none"/><path d="M1311.2 1457L1248.3 1474.7Q1252.4 1465.9 1254.7 1458.1Q1252.2 1450.3 1247.7 1441.7Z" fill="#000"/>
<path d="M1277.7 1468.7L1337.7 1457.7" stroke="#000" stroke-width="2.1" fill="none"/><path d="M1393.3 1447.5L1334.1 1475.1Q1336.7 1465.8 1337.7 1457.7Q1333.9 1450.5 1328.1 1442.7Z" fill="#000"/>
<path d="M1362.6 1476.1L1420.6 1457.4" stroke="#000" stroke-width="2.1" fill="none"/><path d="M1474.4 1440L1419.3 1475.1Q1420.8 1465.5 1420.6 1457.4Q1416 1450.7 1409.2 1443.7Z" fill="#000"/>
<path d="M1447.8 1481.9L1503.6 1457.1" stroke="#000" stroke-width="2.1" fill="none"/><path d="M1555.2 1434.1L1504.2 1474.9Q1504.6 1465.2 1503.6 1457.1Q1498.2 1451 1490.7 1444.8Z" fill="#000"/>
<path d="M1533.2 1486.5L1586.5 1456.9" stroke="#000" stroke-width="2.1" fill="none"/><path d="M1635.9 1429.5L1588.6 1474.6Q1588.2 1464.9 1586.5 1456.9Q1580.6 1451.3 1572.6 1445.8Z" fill="#000"/>
<path d="M1618.1 1489.7L1669.5 1456.8" stroke="#000" stroke-width="2.1" fill="none"/><path d="M1717 1426.3L1672.7 1474.3Q1671.6 1464.7 1669.5 1456.8Q1663.2 1451.5 1654.9 1446.5Z" fill="#000"/>
<path d="M1702.4 1491.6L1752.4 1456.7" stroke="#000" stroke-width="2.1" fill="none"/><path d="M1798.8 1424.4L1756.4 1474.1Q1754.9 1464.5 1752.4 1456.7Q1746 1451.7 1737.5 1447Z" fill="#000"/>
<path d="M1786.2 1492.6L1835.4 1456.7" stroke="#000" stroke-width="2.1" fill="none"/><path d="M1881.1 1423.4L1839.7 1474Q1838.1 1464.4 1835.4 1456.7Q1828.9 1451.8 1820.3 1447.3Z" fill="#000"/>
<path d="M1869.6 1493.2L1918.4 1456.7" stroke="#000" stroke-width="2.1" fill="none"/><path d="M1963.7 1422.8L1923 1473.9Q1921.2 1464.3 1918.4 1456.7Q1911.8 1451.8 1903.2 1447.5Z" fill="#000"/>
<path d="M396.8 1488.4L423 1543.4" stroke="#000" stroke-width="2.1" fill="none"/><path d="M447.3 1594.5L405.2 1544.5Q414.9 1544.6 423 1543.4Q429 1537.9 435 1530.3Z" fill="#000"/>
<path d="M477.3 1489.6L506.1 1543.4" stroke="#000" stroke-width="2.1" fill="none"/><path d="M532.8 1593.2L488.4 1545.3Q498.1 1545 506.1 1543.4Q511.9 1537.6 517.5 1529.7Z" fill="#000"/>
<path d="M557.5 1491.3L589.3 1543.3" stroke="#000" stroke-width="2.1" fill="none"/><path d="M618.7 1591.5L571.7 1546.2Q581.4 1545.3 589.3 1543.3Q594.7 1537.2 599.8 1529Z" fill="#000"/>
<path d="M637 1493.6L672.4 1543.2" stroke="#000" stroke-width="2.1" fill="none"/><path d="M705.3 1589.2L655.1 1547.3Q664.7 1545.8 672.4 1543.2Q677.4 1536.7 682 1528.2Z" fill="#000"/>
<path d="M716.1 1496.6L755.6 1543.1" stroke="#000" stroke-width="2.1" fill="none"/><path d="M792.3 1586.1L738.7 1548.7Q748.1 1546.3 755.6 1543.1Q760 1536.2 763.9 1527.3Z" fill="#000"/>
<path d="M794.8 1500.7L838.9 1542.9" stroke="#000" stroke-width="2.1" fill="none"/><path d="M879.7 1582L822.6 1550.2Q831.7 1546.9 838.9 1542.9Q842.5 1535.6 845.4 1526.4Z" fill="#000"/>
<path d="M873.1 1506.3L922.1 1542.7" stroke="#000" stroke-width="2.1" fill="none"/><path d="M967.5 1576.3L906.9 1551.9Q915.5 1547.5 922.1 1542.7Q924.8 1535 926.5 1525.4Z" fill="#000"/>
<path d="M951.6 1513.4L1005.3 1542.4" stroke="#000" stroke-width="2.1" fill="none"/><path d="M1055 1569.2L991.6 1553.7Q999.5 1548.1 1005.3 1542.4Q1006.9 1534.4 1007.2 1524.7Z" fill="#000"/>
<path d="M1030.9 1522L1088.5 1542" stroke="#000" stroke-width="2.1" fill="none"/><path d="M1141.9 1560.6L1076.8 1555.4Q1083.7 1548.6 1088.5 1542Q1088.8 1533.8 1087.6 1524.2Z" fill="#000"/>
<path d="M1111.5 1531.5L1171.6 1541.6" stroke="#000" stroke-width="2.1" fill="none"/><path d="M1227.4 1551L1162.3 1556.8Q1168 1548.9 1171.6 1541.6Q1170.6 1533.5 1167.8 1524.2Z" fill="#000"/>
<path d="M1193.7 1540.6L1254.7 1541.2" stroke="#000" stroke-width="2.1" fill="none"/><path d="M1311.2 1541.8L1247.8 1557.6Q1252.2 1549 1254.7 1541.2Q1252.4 1533.4 1248.2 1524.6Z" fill="#000"/>
<path d="M1277.3 1549.1L1337.7 1540.8" stroke="#000" stroke-width="2.1" fill="none"/><path d="M1393.7 1533.1L1333.3 1558.1Q1336.4 1548.9 1337.7 1540.8Q1334.3 1533.4 1328.8 1525.4Z" fill="#000"/>
<path d="M1361.8 1556.3L1420.7 1540.5" stroke="#000" stroke-width="2.1" fill="none"/><path d="M1475.2 1525.9L1418.5 1558.2Q1420.4 1548.7 1420.7 1540.5Q1416.3 1533.6 1409.9 1526.3Z" fill="#000"/>
<path d="M1446.6 1562L1503.6 1540.3" stroke="#000" stroke-width="2.1" fill="none"/><path d="M1556.4 1520.2L1503.2 1558.1Q1504.2 1548.4 1503.6 1540.3Q1498.6 1533.9 1491.5 1527.3Z" fill="#000"/>
<path d="M1531.6 1566.5L1586.6 1540.1" stroke="#000" stroke-width="2.1" fill="none"/><path d="M1637.5 1515.6L1587.7 1557.9Q1587.8 1548.2 1586.6 1540.1Q1581 1534.1 1573.4 1528.1Z" fill="#000"/>
<path d="M1616.4 1569.9L1669.5 1540" stroke="#000" stroke-width="2.1" fill="none"/><path d="M1718.8 1512.2L1671.8 1557.6Q1671.3 1547.9 1669.5 1540Q1663.6 1534.3 1655.6 1528.9Z" fill="#000"/>
<path d="M1700.6 1571.9L1752.5 1539.9" stroke="#000" stroke-width="2.1" fill="none"/><path d="M1800.6 1510.2L1755.5 1557.4Q1754.6 1547.8 1752.5 1539.9Q1746.4 1534.5 1738.1 1529.4Z" fill="#000"/>
<path d="M1784.4 1573.1L1835.5 1539.8" stroke="#000" stroke-width="2.1" fill="none"/><path d="M1882.8 1509L1838.9 1557.3Q1837.8 1547.7 1835.5 1539.8Q1829.2 1534.6 1820.9 1529.6Z" fill="#000"/>
<path d="M1867.8 1573.8L1918.5 1539.8" stroke="#000" stroke-width="2.1" fill="none"/><path d="M1965.4 1508.3L1922.1 1557.2Q1920.9 1547.6 1918.5 1539.8Q1912.2 1534.6 1903.8 1529.8Z" fill="#000"/>
<path d="M394.9 1572.3L423.1 1626.4" stroke="#000" stroke-width="2.1" fill="none"/><path d="M449.2 1676.5L405.3 1628.1Q415 1627.9 423.1 1626.4Q428.9 1620.7 434.6 1612.9Z" fill="#000"/>
<path d="M475.3 1573.8L506.2 1626.4" stroke="#000" stroke-width="2.1" fill="none"/><path d="M534.8 1675.1L488.6 1628.9Q498.3 1628.2 506.2 1626.4Q511.7 1620.3 517 1612.2Z" fill="#000"/>
<path d="M555.4 1575.6L589.4 1626.3" stroke="#000" stroke-width="2.1" fill="none"/><path d="M620.8 1673.2L571.9 1629.9Q581.5 1628.6 589.4 1626.3Q594.5 1620 599.3 1611.5Z" fill="#000"/>
<path d="M635.1 1578L672.5 1626.2" stroke="#000" stroke-width="2.1" fill="none"/><path d="M707.2 1670.8L655.4 1631Q664.9 1629.1 672.5 1626.2Q677.2 1619.5 681.4 1610.8Z" fill="#000"/>
<path d="M714.3 1581.3L755.7 1626" stroke="#000" stroke-width="2.1" fill="none"/><path d="M794.1 1667.5L739.1 1632.3Q748.4 1629.6 755.7 1626Q759.8 1619 763.3 1609.9Z" fill="#000"/>
<path d="M793.1 1585.6L838.9 1625.9" stroke="#000" stroke-width="2.1" fill="none"/><path d="M881.3 1663.2L823 1633.8Q832 1630.1 838.9 1625.9Q842.3 1618.4 844.8 1609Z" fill="#000"/>
<path d="M871.9 1591L922.1 1625.6" stroke="#000" stroke-width="2.1" fill="none"/><path d="M968.7 1657.7L907.3 1635.4Q915.7 1630.7 922.1 1625.6Q924.6 1617.8 926 1608.2Z" fill="#000"/>
<path d="M950.9 1597.8L1005.3 1625.3" stroke="#000" stroke-width="2.1" fill="none"/><path d="M1055.8 1650.8L991.9 1637Q999.7 1631.2 1005.3 1625.3Q1006.7 1617.3 1006.8 1607.6Z" fill="#000"/>
<path d="M1030.6 1605.7L1088.5 1625" stroke="#000" stroke-width="2.1" fill="none"/><path d="M1142.1 1642.9L1076.9 1638.5Q1083.8 1631.6 1088.5 1625Q1088.7 1616.8 1087.4 1607.2Z" fill="#000"/>
<path d="M1111.5 1614.2L1171.6 1624.6" stroke="#000" stroke-width="2.1" fill="none"/><path d="M1227.3 1634.3L1162.2 1639.8Q1167.9 1631.9 1171.6 1624.6Q1170.6 1616.5 1167.8 1607.2Z" fill="#000"/>
<path d="M1193.7 1622.4L1254.7 1624.3" stroke="#000" stroke-width="2.1" fill="none"/><path d="M1311.2 1626L1247.5 1640.6Q1252.1 1632 1254.7 1624.3Q1252.5 1616.4 1248.5 1607.6Z" fill="#000"/>
<path d="M1277 1630.1L1337.7 1624" stroke="#000" stroke-width="2.1" fill="none"/><path d="M1393.9 1618.3L1332.7 1641Q1336.1 1632 1337.7 1624Q1334.5 1616.4 1329.4 1608.2Z" fill="#000"/>
<path d="M1361.2 1636.9L1420.7 1623.7" stroke="#000" stroke-width="2.1" fill="none"/><path d="M1475.8 1611.4L1417.7 1641.2Q1420.1 1631.8 1420.7 1623.7Q1416.7 1616.6 1410.6 1609Z" fill="#000"/>
<path d="M1445.8 1642.6L1503.7 1623.4" stroke="#000" stroke-width="2.1" fill="none"/><path d="M1557.3 1605.6L1502.5 1641.2Q1503.8 1631.6 1503.7 1623.4Q1498.9 1616.8 1492.1 1609.9Z" fill="#000"/>
<path d="M1530.4 1647L1586.6 1623.2" stroke="#000" stroke-width="2.1" fill="none"/><path d="M1638.7 1601.3L1586.9 1641Q1587.4 1631.4 1586.6 1623.2Q1581.4 1617 1574 1610.6Z" fill="#000"/>
<path d="M1615 1650.3L1669.6 1623.1" stroke="#000" stroke-width="2.1" fill="none"/><path d="M1720.2 1597.9L1670.9 1640.9Q1670.9 1631.1 1669.6 1623.1Q1664 1617.2 1656.2 1611.3Z" fill="#000"/>
<path d="M1699.2 1652.5L1752.6 1623" stroke="#000" stroke-width="2.1" fill="none"/><path d="M1802 1595.7L1754.7 1640.7Q1754.2 1631 1752.6 1623Q1746.7 1617.3 1738.7 1611.8Z" fill="#000"/>
<path d="M1782.9 1653.7L1835.6 1622.9" stroke="#000" stroke-width="2.1" fill="none"/><path d="M1884.3 1594.4L1838.1 1640.6Q1837.4 1630.9 1835.6 1622.9Q1829.6 1617.4 1821.5 1612.1Z" fill="#000"/>
<path d="M1866.4 1654.5L1918.6 1622.9" stroke="#000" stroke-width="2.1" fill="none"/><path d="M1966.9 1593.6L1921.4 1640.5Q1920.6 1630.8 1918.6 1622.9Q1912.5 1617.5 1904.3 1612.3Z" fill="#000"/>
<path d="M393.4 1656.2L423.1 1709.4" stroke="#000" stroke-width="2.1" fill="none"/><path d="M450.7 1758.7L405.4 1711.6Q415.1 1711.1 423.1 1709.4Q428.8 1703.5 434.3 1695.5Z" fill="#000"/>
<path d="M473.6 1657.8L506.3 1709.4" stroke="#000" stroke-width="2.1" fill="none"/><path d="M536.5 1757.1L488.7 1712.5Q498.4 1711.5 506.3 1709.4Q511.6 1703.1 516.6 1694.9Z" fill="#000"/>
<path d="M553.7 1659.8L589.4 1709.3" stroke="#000" stroke-width="2.1" fill="none"/><path d="M622.5 1755L572.1 1713.5Q581.7 1711.9 589.4 1709.3Q594.3 1702.8 598.9 1694.2Z" fill="#000"/>
<path d="M633.6 1662.2L672.6 1709.2" stroke="#000" stroke-width="2.1" fill="none"/><path d="M708.7 1752.6L655.6 1714.5Q665.1 1712.3 672.6 1709.2Q677.1 1702.3 681 1693.5Z" fill="#000"/>
<path d="M713 1665.5L755.8 1709" stroke="#000" stroke-width="2.1" fill="none"/><path d="M795.4 1749.3L739.3 1715.8Q748.5 1712.8 755.8 1709Q759.7 1701.8 762.8 1692.7Z" fill="#000"/>
<path d="M792 1669.9L839 1708.8" stroke="#000" stroke-width="2.1" fill="none"/><path d="M882.5 1744.9L823.3 1717.3Q832.1 1713.3 839 1708.8Q842.1 1701.3 844.4 1691.9Z" fill="#000"/>
<path d="M871 1675.4L922.2 1708.6" stroke="#000" stroke-width="2.1" fill="none"/><path d="M969.6 1739.4L907.6 1718.8Q915.9 1713.8 922.2 1708.6Q924.4 1700.8 925.5 1691.1Z" fill="#000"/>
<path d="M950.3 1682L1005.4 1708.3" stroke="#000" stroke-width="2.1" fill="none"/><path d="M1056.3 1732.7L992.2 1720.3Q999.8 1714.3 1005.4 1708.3Q1006.6 1700.2 1006.4 1690.5Z" fill="#000"/>
<path d="M1030.5 1689.3L1088.5 1708" stroke="#000" stroke-width="2.1" fill="none"/><path d="M1142.3 1725.3L1077.1 1721.7Q1083.8 1714.7 1088.5 1708Q1088.6 1699.8 1087.2 1690.2Z" fill="#000"/>
<path d="M1111.6 1697L1171.6 1707.7" stroke="#000" stroke-width="2.1" fill="none"/><path d="M1227.3 1717.5L1162.2 1722.8Q1167.9 1714.9 1171.6 1707.7Q1170.6 1699.6 1167.9 1690.3Z" fill="#000"/>
<path d="M1193.8 1704.3L1254.7 1707.4" stroke="#000" stroke-width="2.1" fill="none"/><path d="M1311.1 1710.2L1247.2 1723.5Q1251.9 1715 1254.7 1707.4Q1252.7 1699.5 1248.8 1690.5Z" fill="#000"/>
<path d="M1276.9 1711L1337.7 1707.1" stroke="#000" stroke-width="2.1" fill="none"/><path d="M1394.1 1703.4L1332.1 1724Q1335.8 1715 1337.7 1707.1Q1334.8 1699.4 1330 1691Z" fill="#000"/>
<path d="M1360.7 1717.5L1420.7 1706.8" stroke="#000" stroke-width="2.1" fill="none"/><path d="M1476.3 1696.9L1417 1724.2Q1419.7 1714.9 1420.7 1706.8Q1417 1699.5 1411.2 1691.7Z" fill="#000"/>
<path d="M1445 1723.2L1503.7 1706.6" stroke="#000" stroke-width="2.1" fill="none"/><path d="M1558.1 1691.1L1501.8 1724.3Q1503.5 1714.7 1503.7 1706.6Q1499.3 1699.7 1492.7 1692.5Z" fill="#000"/>
<path d="M1529.4 1727.5L1586.7 1706.4" stroke="#000" stroke-width="2.1" fill="none"/><path d="M1639.7 1686.8L1586.1 1724.2Q1587.1 1714.5 1586.7 1706.4Q1581.7 1699.9 1574.7 1693.2Z" fill="#000"/>
<path d="M1613.8 1730.7L1669.6 1706.2" stroke="#000" stroke-width="2.1" fill="none"/><path d="M1721.4 1683.6L1670.1 1724Q1670.6 1714.3 1669.6 1706.2Q1664.3 1700.1 1656.9 1693.8Z" fill="#000"/>
<path d="M1697.9 1733L1752.6 1706.1" stroke="#000" stroke-width="2.1" fill="none"/><path d="M1803.4 1681.3L1753.9 1723.9Q1753.9 1714.2 1752.6 1706.1Q1747 1700.2 1739.3 1694.3Z" fill="#000"/>
<path d="M1781.6 1734.4L1835.6 1706.1" stroke="#000" stroke-width="2.1" fill="none"/><path d="M1885.6 1679.8L1837.4 1723.8Q1837.1 1714.1 1835.6 1706.1Q1829.9 1700.3 1822 1694.6Z" fill="#000"/>
<path d="M1865.1 1735.4L1918.6 1706" stroke="#000" stroke-width="2.1" fill="none"/><path d="M1968.2 1678.9L1920.7 1723.7Q1920.3 1714 1918.6 1706Q1912.8 1700.4 1904.8 1694.8Z" fill="#000"/>
</g>
<text transform="translate(959.4 95.4) scale(1 1.042)" font-size="34.6" text-anchor="middle" fill="#000" stroke="#000" stroke-width="0.3">0</text>
<text transform="translate(1365.5 1752.2) scale(1 1.042)" font-size="34.6" text-anchor="middle" fill="#000" stroke="#000" stroke-width="0.3">0</text>
<text transform="translate(376.8 850.8) scale(1 1.042)" font-size="34.6" text-anchor="middle" fill="#000" stroke="#000" stroke-width="0.3">0</text>
<text transform="translate(2055.5 1478.8) scale(1 1.042)" font-size="34.6" text-anchor="middle" fill="#000" stroke="#000" stroke-width="0.3">0</text>
<g stroke="#000" stroke-width="1" fill="none" shape-rendering="crispEdges">
<rect x="317.5" y="25.5" width="1786" height="1786"/>
<path d="M320.9 25.5v12.2M320.9 1811.5v-12.2M389.5 25.5v15.3M389.5 1811.5v-15.3M458.1 25.5v12.2M458.1 1811.5v-12.2M526.7 25.5v12.2M526.7 1811.5v-12.2M595.3 25.5v12.2M595.3 1811.5v-12.2M663.9 25.5v12.2M663.9 1811.5v-12.2M732.5 25.5v15.3M732.5 1811.5v-15.3M801.1 25.5v12.2M801.1 1811.5v-12.2M869.7 25.5v12.2M869.7 1811.5v-12.2M938.3 25.5v12.2M938.3 1811.5v-12.2M1006.9 25.5v12.2M1006.9 1811.5v-12.2M1075.5 25.5v15.3M1075.5 1811.5v-15.3M1144.1 25.5v12.2M1144.1 1811.5v-12.2M1212.7 25.5v12.2M1212.7 1811.5v-12.2M1281.3 25.5v12.2M1281.3 1811.5v-12.2M1349.9 25.5v12.2M1349.9 1811.5v-12.2M1418.5 25.5v15.3M1418.5 1811.5v-15.3M1487.1 25.5v12.2M1487.1 1811.5v-12.2M1555.7 25.5v12.2M1555.7 1811.5v-12.2M1624.3 25.5v12.2M1624.3 1811.5v-12.2M1692.9 25.5v12.2M1692.9 1811.5v-12.2M1761.5 25.5v15.3M1761.5 1811.5v-15.3M1830.1 25.5v12.2M1830.1 1811.5v-12.2M1898.7 25.5v12.2M1898.7 1811.5v-12.2M1967.3 25.5v12.2M1967.3 1811.5v-12.2M2035.9 25.5v12.2M2035.9 1811.5v-12.2M2104.2 25.5v15.3M2104.2 1811.5v-15.3M317.5 34.6h12.2M2103.5 34.6h-12.2M317.5 103.2h12.2M2103.5 103.2h-12.2M317.5 171.8h12.2M2103.5 171.8h-12.2M317.5 240.4h15.3M2103.5 240.4h-15.3M317.5 309h12.2M2103.5 309h-12.2M317.5 377.6h12.2M2103.5 377.6h-12.2M317.5 446.2h12.2M2103.5 446.2h-12.2M317.5 514.8h12.2M2103.5 514.8h-12.2M317.5 583.4h15.3M2103.5 583.4h-15.3M317.5 652h12.2M2103.5 652h-12.2M317.5 720.6h12.2M2103.5 720.6h-12.2M317.5 789.2h12.2M2103.5 789.2h-12.2M317.5 857.8h12.2M2103.5 857.8h-12.2M317.5 926.4h15.3M2103.5 926.4h-15.3M317.5 995h12.2M2103.5 995h-12.2M317.5 1063.6h12.2M2103.5 1063.6h-12.2M317.5 1132.2h12.2M2103.5 1132.2h-12.2M317.5 1200.8h12.2M2103.5 1200.8h-12.2M317.5 1269.4h15.3M2103.5 1269.4h-15.3M317.5 1338h12.2M2103.5 1338h-12.2M317.5 1406.6h12.2M2103.5 1406.6h-12.2M317.5 1475.2h12.2M2103.5 1475.2h-12.2M317.5 1543.8h12.2M2103.5 1543.8h-12.2M317.5 1612.4h15.3M2103.5 1612.4h-15.3M317.5 1681h12.2M2103.5 1681h-12.2M317.5 1749.6h12.2M2103.5 1749.6h-12.2"/>
</g>
<text transform="translate(390 1891) scale(1 1.042)" font-size="67" text-anchor="middle">1.10</text>
<text transform="translate(733 1891) scale(1 1.042)" font-size="67" text-anchor="middle">1.15</text>
<text transform="translate(1076 1891) scale(1 1.042)" font-size="67" text-anchor="middle">1.20</text>
<text transform="translate(1419 1891) scale(1 1.042)" font-size="67" text-anchor="middle">1.25</text>
<text transform="translate(1762 1891) scale(1 1.042)" font-size="67" text-anchor="middle">1.30</text>
<text transform="translate(2105 1891) scale(1 1.042)" font-size="67" text-anchor="middle">1.35</text>
<text transform="translate(305.5 266.2) scale(1 1.042)" font-size="67" text-anchor="end">1.20</text>
<text transform="translate(132 272.7) scale(0.875 1)" font-size="72">−</text>
<text transform="translate(305.5 609.2) scale(1 1.042)" font-size="67" text-anchor="end">1.25</text>
<text transform="translate(132 615.7) scale(0.875 1)" font-size="72">−</text>
<text transform="translate(305.5 952.2) scale(1 1.042)" font-size="67" text-anchor="end">1.30</text>
<text transform="translate(132 958.7) scale(0.875 1)" font-size="72">−</text>
<text transform="translate(305.5 1295.2) scale(1 1.042)" font-size="67" text-anchor="end">1.35</text>
<text transform="translate(132 1301.7) scale(0.875 1)" font-size="72">−</text>
<text transform="translate(305.5 1638.2) scale(1 1.042)" font-size="67" text-anchor="end">1.40</text>
<text transform="translate(132 1644.7) scale(0.875 1)" font-size="72">−</text>
<text transform="translate(1172.3 1999.8) scale(1 0.972)" font-size="89" font-style="italic">k<tspan font-size="65" dy="16.4" dx="1.6">z</tspan></text>
<text transform="translate(82.9 956.7) rotate(-90) scale(1 0.972)" font-size="89" font-style="italic">k<tspan font-size="65" dy="16.4" dx="1.6">x</tspan></text>
<defs><linearGradient id="cb" gradientUnits="userSpaceOnUse" x1="0" y1="0" x2="0" y2="2012.6"><stop offset="0.0000" stop-color="#ffffff"/><stop offset="0.0208" stop-color="#fffbef"/><stop offset="0.0417" stop-color="#fff7de"/><stop offset="0.0625" stop-color="#fff3ce"/><stop offset="0.0833" stop-color="#fff0be"/><stop offset="0.1042" stop-color="#ffecae"/><stop offset="0.1250" stop-color="#ffe89e"/><stop offset="0.1458" stop-color="#ffe48d"/><stop offset="0.1667" stop-color="#ffe07d"/><stop offset="0.1875" stop-color="#ffda72"/><stop offset="0.2083" stop-color="#ffd466"/><stop offset="0.2292" stop-color="#ffcd5b"/><stop offset="0.2500" stop-color="#ffc750"/><stop offset="0.2708" stop-color="#ffc144"/><stop offset="0.2917" stop-color="#ffba39"/><stop offset="0.3125" stop-color="#ffb42d"/><stop offset="0.3333" stop-color="#ffae22"/><stop offset="0.3542" stop-color="#fea71f"/><stop offset="0.3750" stop-color="#fea01d"/><stop offset="0.3958" stop-color="#fe981b"/><stop offset="0.4167" stop-color="#fd9118"/><stop offset="0.4375" stop-color="#fc8a16"/><stop offset="0.4583" stop-color="#fc8313"/><stop offset="0.4792" stop-color="#fc7b10"/><stop offset="0.5000" stop-color="#fb740e"/><stop offset="0.5208" stop-color="#f56e15"/><stop offset="0.5417" stop-color="#ee671c"/><stop offset="0.5625" stop-color="#e86023"/><stop offset="0.5833" stop-color="#e25a2a"/><stop offset="0.6042" stop-color="#dc5431"/><stop offset="0.6250" stop-color="#d64d38"/><stop offset="0.6458" stop-color="#cf463f"/><stop offset="0.6667" stop-color="#c94046"/><stop offset="0.6875" stop-color="#bc3c4d"/><stop offset="0.7083" stop-color="#ae3855"/><stop offset="0.7292" stop-color="#a1355c"/><stop offset="0.7500" stop-color="#943163"/><stop offset="0.7708" stop-color="#862d6a"/><stop offset="0.7917" stop-color="#792a71"/><stop offset="0.8125" stop-color="#6b2679"/><stop offset="0.8333" stop-color="#5e2280"/><stop offset="0.8542" stop-color="#521e70"/><stop offset="0.8750" stop-color="#461a60"/><stop offset="0.8958" stop-color="#3b1550"/><stop offset="0.9167" stop-color="#2f1140"/><stop offset="0.9375" stop-color="#230d30"/><stop offset="0.9583" stop-color="#170820"/><stop offset="0.9792" stop-color="#0c0410"/><stop offset="1.0000" stop-color="#000000"/></linearGradient></defs>
<rect x="2240" y="-2" width="53.3" height="2014.6" fill="url(#cb)"/>
<path d="M2240.5 -2V2012.6" stroke="#000" stroke-opacity="0.3" stroke-width="1.2" fill="none"/>
<path d="M2293.3 104.1h10M2293.3 167.8h10M2293.3 231.6h10M2293.3 295.4h15M2293.3 359.2h10M2293.3 550.5h10M2293.3 614.3h15M2293.3 678.1h10M2293.3 741.9h10M2293.3 933.2h15M2293.3 997h10M2293.3 1060.8h10M2293.3 1124.5h10M2293.3 1379.7h10M2293.3 1443.4h10M2293.3 1507.2h10M2293.3 1571h15M2293.3 1826.1h10M2293.3 1889.9h15M2293.3 1953.7h10" stroke="#000" stroke-opacity="0.2" stroke-width="1.3" fill="none"/>
<text transform="translate(2319.4 309.3) scale(0.9 1)" font-size="35" fill="#666">−</text>
<text transform="translate(2337.6 306) scale(1 1.042)" font-size="35" fill="#666">10</text>
<text transform="translate(2319.4 628.2) scale(0.9 1)" font-size="35" fill="#666">−</text>
<text transform="translate(2337.6 624.9) scale(1 1.042)" font-size="35" fill="#666">11</text>
<text transform="translate(2319.4 947.1) scale(0.9 1)" font-size="35" fill="#666">−</text>
<text transform="translate(2337.6 943.8) scale(1 1.042)" font-size="35" fill="#666">12</text>
<text transform="translate(2319.4 1266) scale(0.9 1)" font-size="35" fill="#666">−</text>
<text transform="translate(2337.6 1262.7) scale(1 1.042)" font-size="35" fill="#666">13</text>
<text transform="translate(2319.4 1584.9) scale(0.9 1)" font-size="35" fill="#666">−</text>
<text transform="translate(2337.6 1581.6) scale(1 1.042)" font-size="35" fill="#666">14</text>
<text transform="translate(2319.4 1903.8) scale(0.9 1)" font-size="35" fill="#666">−</text>
<text transform="translate(2337.6 1900.5) scale(1 1.042)" font-size="35" fill="#666">15</text>
</svg></body></html>
